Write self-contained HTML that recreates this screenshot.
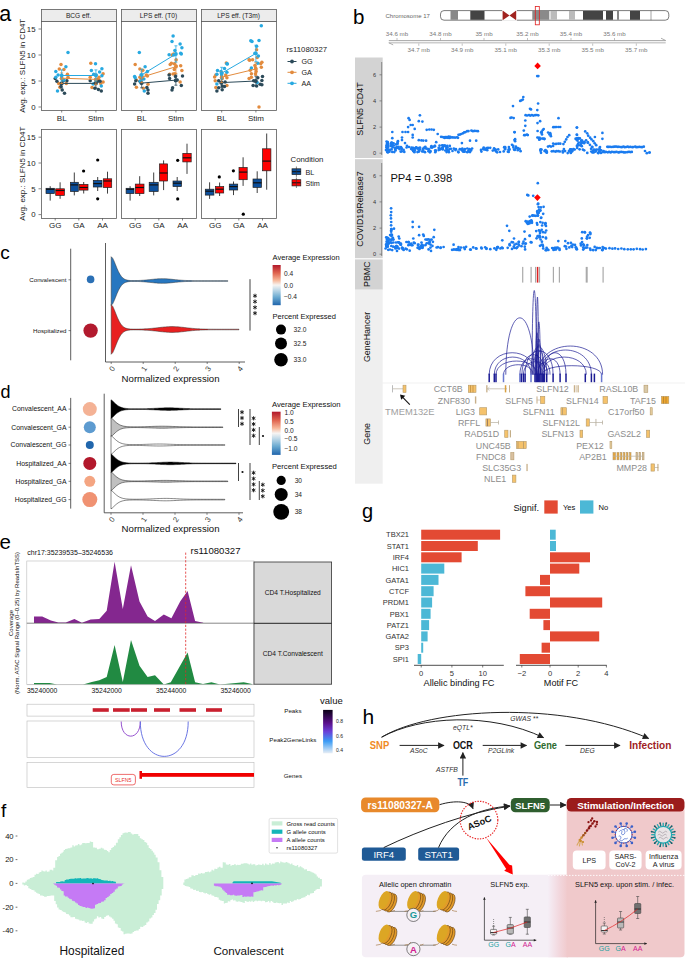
<!DOCTYPE html>
<html><head><meta charset="utf-8"><style>
html,body{margin:0;padding:0;background:#fff;width:685px;height:960px;overflow:hidden}
svg{display:block;font-family:"Liberation Sans",sans-serif}
</style></head><body>
<svg width="685" height="960" viewBox="0 0 685 960">
<text x="-0.8" y="20.8" font-size="21.5" fill="#000">a</text>
<rect x="41.5" y="9.5" width="75" height="12" fill="#ececec" stroke="#5a5a5a" stroke-width="0.8"/>
<text x="78.5" y="18.3" font-size="6.6" text-anchor="middle" fill="#222">BCG eff.</text>
<rect x="41.5" y="21.5" width="75" height="89" fill="#fff" stroke="#5a5a5a" stroke-width="0.8"/>
<rect x="41.5" y="129.5" width="75" height="89" fill="#fff" stroke="#5a5a5a" stroke-width="0.8"/>
<text x="61.7" y="121" font-size="8" text-anchor="middle" fill="#222">BL</text>
<text x="95.9" y="121" font-size="8" text-anchor="middle" fill="#222">Stim</text>
<line x1="61.7" y1="110.5" x2="61.7" y2="112.5" stroke="#333" stroke-width="0.6"/>
<line x1="95.9" y1="110.5" x2="95.9" y2="112.5" stroke="#333" stroke-width="0.6"/>
<text x="55.2" y="227.6" font-size="8" text-anchor="middle" fill="#222">GG</text>
<line x1="55.2" y1="218.5" x2="55.2" y2="220.5" stroke="#333" stroke-width="0.6"/>
<text x="78.8" y="227.6" font-size="8" text-anchor="middle" fill="#222">GA</text>
<line x1="78.8" y1="218.5" x2="78.8" y2="220.5" stroke="#333" stroke-width="0.6"/>
<text x="102.5" y="227.6" font-size="8" text-anchor="middle" fill="#222">AA</text>
<line x1="102.5" y1="218.5" x2="102.5" y2="220.5" stroke="#333" stroke-width="0.6"/>
<rect x="121.5" y="9.5" width="75" height="12" fill="#ececec" stroke="#5a5a5a" stroke-width="0.8"/>
<text x="158.5" y="18.3" font-size="6.6" text-anchor="middle" fill="#222">LPS eff. (T0)</text>
<rect x="121.5" y="21.5" width="75" height="89" fill="#fff" stroke="#5a5a5a" stroke-width="0.8"/>
<rect x="121.5" y="129.5" width="75" height="89" fill="#fff" stroke="#5a5a5a" stroke-width="0.8"/>
<text x="141.7" y="121" font-size="8" text-anchor="middle" fill="#222">BL</text>
<text x="175.9" y="121" font-size="8" text-anchor="middle" fill="#222">Stim</text>
<line x1="141.7" y1="110.5" x2="141.7" y2="112.5" stroke="#333" stroke-width="0.6"/>
<line x1="175.9" y1="110.5" x2="175.9" y2="112.5" stroke="#333" stroke-width="0.6"/>
<text x="135.2" y="227.6" font-size="8" text-anchor="middle" fill="#222">GG</text>
<line x1="135.2" y1="218.5" x2="135.2" y2="220.5" stroke="#333" stroke-width="0.6"/>
<text x="158.8" y="227.6" font-size="8" text-anchor="middle" fill="#222">GA</text>
<line x1="158.8" y1="218.5" x2="158.8" y2="220.5" stroke="#333" stroke-width="0.6"/>
<text x="182.5" y="227.6" font-size="8" text-anchor="middle" fill="#222">AA</text>
<line x1="182.5" y1="218.5" x2="182.5" y2="220.5" stroke="#333" stroke-width="0.6"/>
<rect x="201.5" y="9.5" width="75" height="12" fill="#ececec" stroke="#5a5a5a" stroke-width="0.8"/>
<text x="238.5" y="18.3" font-size="6.6" text-anchor="middle" fill="#222">LPS eff. (T3m)</text>
<rect x="201.5" y="21.5" width="75" height="89" fill="#fff" stroke="#5a5a5a" stroke-width="0.8"/>
<rect x="201.5" y="129.5" width="75" height="89" fill="#fff" stroke="#5a5a5a" stroke-width="0.8"/>
<text x="221.7" y="121" font-size="8" text-anchor="middle" fill="#222">BL</text>
<text x="255.9" y="121" font-size="8" text-anchor="middle" fill="#222">Stim</text>
<line x1="221.7" y1="110.5" x2="221.7" y2="112.5" stroke="#333" stroke-width="0.6"/>
<line x1="255.9" y1="110.5" x2="255.9" y2="112.5" stroke="#333" stroke-width="0.6"/>
<text x="215.2" y="227.6" font-size="8" text-anchor="middle" fill="#222">GG</text>
<line x1="215.2" y1="218.5" x2="215.2" y2="220.5" stroke="#333" stroke-width="0.6"/>
<text x="238.8" y="227.6" font-size="8" text-anchor="middle" fill="#222">GA</text>
<line x1="238.8" y1="218.5" x2="238.8" y2="220.5" stroke="#333" stroke-width="0.6"/>
<text x="262.5" y="227.6" font-size="8" text-anchor="middle" fill="#222">AA</text>
<line x1="262.5" y1="218.5" x2="262.5" y2="220.5" stroke="#333" stroke-width="0.6"/>
<text x="35.5" y="109.8" font-size="7.8" text-anchor="end" fill="#222">0</text>
<line x1="38.5" y1="107.0" x2="41" y2="107.0" stroke="#333" stroke-width="0.6"/>
<text x="35.5" y="217.4" font-size="7.8" text-anchor="end" fill="#222">0</text>
<line x1="38.5" y1="214.6" x2="41" y2="214.6" stroke="#333" stroke-width="0.6"/>
<text x="35.5" y="83.8" font-size="7.8" text-anchor="end" fill="#222">5</text>
<line x1="38.5" y1="81.0" x2="41" y2="81.0" stroke="#333" stroke-width="0.6"/>
<text x="35.5" y="191.6" font-size="7.8" text-anchor="end" fill="#222">5</text>
<line x1="38.5" y1="188.8" x2="41" y2="188.8" stroke="#333" stroke-width="0.6"/>
<text x="35.5" y="57.8" font-size="7.8" text-anchor="end" fill="#222">10</text>
<line x1="38.5" y1="55.0" x2="41" y2="55.0" stroke="#333" stroke-width="0.6"/>
<text x="35.5" y="165.8" font-size="7.8" text-anchor="end" fill="#222">10</text>
<line x1="38.5" y1="163.0" x2="41" y2="163.0" stroke="#333" stroke-width="0.6"/>
<text x="35.5" y="31.8" font-size="7.8" text-anchor="end" fill="#222">15</text>
<line x1="38.5" y1="29.0" x2="41" y2="29.0" stroke="#333" stroke-width="0.6"/>
<text x="35.5" y="140.0" font-size="7.8" text-anchor="end" fill="#222">15</text>
<line x1="38.5" y1="137.2" x2="41" y2="137.2" stroke="#333" stroke-width="0.6"/>
<text transform="translate(25.2,65.8) rotate(-90)" font-size="8" text-anchor="middle" fill="#222">Avg. exp.: SLFN5 in CD4T</text>
<text transform="translate(25.2,173.6) rotate(-90)" font-size="8" text-anchor="middle" fill="#222">Avg. exp.: SLFN5 in CD4T</text>
<circle cx="61.0" cy="64.4" r="1.75" fill="#e28b3e"/>
<circle cx="59.3" cy="69.1" r="1.75" fill="#e28b3e"/>
<circle cx="63.9" cy="69.6" r="1.75" fill="#e28b3e"/>
<circle cx="67.4" cy="74.3" r="1.75" fill="#e28b3e"/>
<circle cx="68.0" cy="77.2" r="1.75" fill="#e28b3e"/>
<circle cx="61.6" cy="78.4" r="1.75" fill="#e28b3e"/>
<circle cx="58.7" cy="83.6" r="1.75" fill="#e28b3e"/>
<circle cx="59.9" cy="87.2" r="1.75" fill="#e28b3e"/>
<circle cx="66.3" cy="83.6" r="1.75" fill="#e28b3e"/>
<circle cx="90.8" cy="63.2" r="1.75" fill="#e28b3e"/>
<circle cx="103.1" cy="73.7" r="1.75" fill="#e28b3e"/>
<circle cx="90.2" cy="77.2" r="1.75" fill="#e28b3e"/>
<circle cx="98.4" cy="79.6" r="1.75" fill="#e28b3e"/>
<circle cx="103.1" cy="81.9" r="1.75" fill="#e28b3e"/>
<circle cx="100.7" cy="83.6" r="1.75" fill="#e28b3e"/>
<circle cx="92.0" cy="87.5" r="1.75" fill="#e28b3e"/>
<circle cx="94.9" cy="83.6" r="1.75" fill="#e28b3e"/>
<circle cx="99.0" cy="77.2" r="1.75" fill="#e28b3e"/>
<circle cx="55.2" cy="78.4" r="1.75" fill="#2c4a59"/>
<circle cx="56.9" cy="81.3" r="1.75" fill="#2c4a59"/>
<circle cx="61.6" cy="83.6" r="1.75" fill="#2c4a59"/>
<circle cx="66.9" cy="80.7" r="1.75" fill="#2c4a59"/>
<circle cx="61.0" cy="86.6" r="1.75" fill="#2c4a59"/>
<circle cx="62.2" cy="90.1" r="1.75" fill="#2c4a59"/>
<circle cx="64.5" cy="93.3" r="1.75" fill="#2c4a59"/>
<circle cx="90.2" cy="80.7" r="1.75" fill="#2c4a59"/>
<circle cx="94.9" cy="88.3" r="1.75" fill="#2c4a59"/>
<circle cx="98.4" cy="89.5" r="1.75" fill="#2c4a59"/>
<circle cx="101.3" cy="91.0" r="1.75" fill="#2c4a59"/>
<circle cx="96.1" cy="80.7" r="1.75" fill="#2c4a59"/>
<circle cx="97.8" cy="81.3" r="1.75" fill="#2c4a59"/>
<circle cx="100.1" cy="81.3" r="1.75" fill="#2c4a59"/>
<circle cx="94.9" cy="83.6" r="1.75" fill="#2c4a59"/>
<circle cx="63.4" cy="80.7" r="1.75" fill="#2c4a59"/>
<circle cx="68.0" cy="52.5" r="1.75" fill="#27a9e1"/>
<circle cx="95.5" cy="63.8" r="1.75" fill="#27a9e1"/>
<circle cx="55.8" cy="71.4" r="1.75" fill="#27a9e1"/>
<circle cx="65.9" cy="66.7" r="1.75" fill="#27a9e1"/>
<circle cx="91.4" cy="70.5" r="1.75" fill="#27a9e1"/>
<circle cx="101.9" cy="68.8" r="1.75" fill="#27a9e1"/>
<circle cx="99.6" cy="72.0" r="1.75" fill="#27a9e1"/>
<circle cx="58.1" cy="74.9" r="1.75" fill="#27a9e1"/>
<circle cx="101.9" cy="75.8" r="1.75" fill="#27a9e1"/>
<circle cx="63.9" cy="80.1" r="1.75" fill="#27a9e1"/>
<circle cx="57.5" cy="91.0" r="1.75" fill="#27a9e1"/>
<circle cx="101.3" cy="86.0" r="1.75" fill="#27a9e1"/>
<circle cx="93.1" cy="84.0" r="1.75" fill="#27a9e1"/>
<circle cx="55.8" cy="77.2" r="1.75" fill="#27a9e1"/>
<circle cx="96.1" cy="74.9" r="1.75" fill="#27a9e1"/>
<circle cx="93.7" cy="74.3" r="1.75" fill="#27a9e1"/>
<line x1="61.7" y1="83.4" x2="95.9" y2="83.4" stroke="#2c4a59" stroke-width="1"/>
<path d="M60.2,88.0H63.2M61.7,88.0V78.7M60.2,78.7H63.2" stroke="#2c4a59" stroke-width="0.8" fill="none"/>
<circle cx="61.7" cy="83.4" r="1.9" fill="#2c4a59"/>
<path d="M94.4,88.0H97.4M95.9,88.0V78.7M94.4,78.7H97.4" stroke="#2c4a59" stroke-width="0.8" fill="none"/>
<circle cx="95.9" cy="83.4" r="1.9" fill="#2c4a59"/>
<line x1="61.7" y1="78.2" x2="95.9" y2="79.4" stroke="#e28b3e" stroke-width="1"/>
<path d="M60.2,83.5H63.2M61.7,83.5V72.9M60.2,72.9H63.2" stroke="#e28b3e" stroke-width="0.8" fill="none"/>
<circle cx="61.7" cy="78.2" r="1.9" fill="#e28b3e"/>
<path d="M94.4,84.6H97.4M95.9,84.6V74.3M94.4,74.3H97.4" stroke="#e28b3e" stroke-width="0.8" fill="none"/>
<circle cx="95.9" cy="79.4" r="1.9" fill="#e28b3e"/>
<line x1="61.7" y1="75.5" x2="95.9" y2="75.5" stroke="#27a9e1" stroke-width="1"/>
<path d="M60.2,81.1H63.2M61.7,81.1V69.9M60.2,69.9H63.2" stroke="#27a9e1" stroke-width="0.8" fill="none"/>
<circle cx="61.7" cy="75.5" r="1.9" fill="#27a9e1"/>
<path d="M94.4,81.1H97.4M95.9,81.1V69.9M94.4,69.9H97.4" stroke="#27a9e1" stroke-width="0.8" fill="none"/>
<circle cx="95.9" cy="75.5" r="1.9" fill="#27a9e1"/>
<circle cx="176.1" cy="59.7" r="1.75" fill="#e28b3e"/>
<circle cx="171.4" cy="63.2" r="1.75" fill="#e28b3e"/>
<circle cx="170.2" cy="64.4" r="1.75" fill="#e28b3e"/>
<circle cx="174.3" cy="63.8" r="1.75" fill="#e28b3e"/>
<circle cx="176.1" cy="66.1" r="1.75" fill="#e28b3e"/>
<circle cx="180.7" cy="65.8" r="1.75" fill="#e28b3e"/>
<circle cx="181.9" cy="70.5" r="1.75" fill="#e28b3e"/>
<circle cx="174.3" cy="69.6" r="1.75" fill="#e28b3e"/>
<circle cx="174.9" cy="73.7" r="1.75" fill="#e28b3e"/>
<circle cx="169.6" cy="74.3" r="1.75" fill="#e28b3e"/>
<circle cx="173.1" cy="74.0" r="1.75" fill="#e28b3e"/>
<circle cx="135.2" cy="64.4" r="1.75" fill="#e28b3e"/>
<circle cx="139.9" cy="69.1" r="1.75" fill="#e28b3e"/>
<circle cx="142.8" cy="70.2" r="1.75" fill="#e28b3e"/>
<circle cx="146.3" cy="74.9" r="1.75" fill="#e28b3e"/>
<circle cx="147.4" cy="76.1" r="1.75" fill="#e28b3e"/>
<circle cx="139.9" cy="77.2" r="1.75" fill="#e28b3e"/>
<circle cx="141.6" cy="78.4" r="1.75" fill="#e28b3e"/>
<circle cx="136.4" cy="80.1" r="1.75" fill="#e28b3e"/>
<circle cx="148.0" cy="84.2" r="1.75" fill="#e28b3e"/>
<circle cx="136.4" cy="87.2" r="1.75" fill="#e28b3e"/>
<circle cx="143.4" cy="88.3" r="1.75" fill="#e28b3e"/>
<circle cx="180.1" cy="81.9" r="1.75" fill="#e28b3e"/>
<circle cx="172.0" cy="55.0" r="1.75" fill="#e28b3e"/>
<circle cx="173.7" cy="53.9" r="1.75" fill="#e28b3e"/>
<circle cx="169.1" cy="74.9" r="1.75" fill="#2c4a59"/>
<circle cx="169.6" cy="78.4" r="1.75" fill="#2c4a59"/>
<circle cx="175.5" cy="76.6" r="1.75" fill="#2c4a59"/>
<circle cx="182.5" cy="76.1" r="1.75" fill="#2c4a59"/>
<circle cx="177.2" cy="80.1" r="1.75" fill="#2c4a59"/>
<circle cx="175.5" cy="80.7" r="1.75" fill="#2c4a59"/>
<circle cx="181.3" cy="85.4" r="1.75" fill="#2c4a59"/>
<circle cx="172.6" cy="87.7" r="1.75" fill="#2c4a59"/>
<circle cx="172.0" cy="90.1" r="1.75" fill="#2c4a59"/>
<circle cx="134.6" cy="84.0" r="1.75" fill="#2c4a59"/>
<circle cx="141.0" cy="83.1" r="1.75" fill="#2c4a59"/>
<circle cx="146.9" cy="87.5" r="1.75" fill="#2c4a59"/>
<circle cx="148.0" cy="90.1" r="1.75" fill="#2c4a59"/>
<circle cx="148.0" cy="93.3" r="1.75" fill="#2c4a59"/>
<circle cx="139.9" cy="81.3" r="1.75" fill="#2c4a59"/>
<circle cx="135.8" cy="80.7" r="1.75" fill="#2c4a59"/>
<circle cx="173.1" cy="36.1" r="1.75" fill="#27a9e1"/>
<circle cx="172.0" cy="41.6" r="1.75" fill="#27a9e1"/>
<circle cx="180.1" cy="43.9" r="1.75" fill="#27a9e1"/>
<circle cx="181.9" cy="47.8" r="1.75" fill="#27a9e1"/>
<circle cx="174.9" cy="50.6" r="1.75" fill="#27a9e1"/>
<circle cx="169.1" cy="54.8" r="1.75" fill="#27a9e1"/>
<circle cx="180.7" cy="53.3" r="1.75" fill="#27a9e1"/>
<circle cx="181.3" cy="54.1" r="1.75" fill="#27a9e1"/>
<circle cx="139.3" cy="52.5" r="1.75" fill="#27a9e1"/>
<circle cx="145.1" cy="66.7" r="1.75" fill="#27a9e1"/>
<circle cx="147.4" cy="71.4" r="1.75" fill="#27a9e1"/>
<circle cx="134.6" cy="76.6" r="1.75" fill="#27a9e1"/>
<circle cx="135.2" cy="77.8" r="1.75" fill="#27a9e1"/>
<circle cx="141.0" cy="74.9" r="1.75" fill="#27a9e1"/>
<circle cx="143.9" cy="79.0" r="1.75" fill="#27a9e1"/>
<circle cx="140.4" cy="81.3" r="1.75" fill="#27a9e1"/>
<circle cx="144.3" cy="91.0" r="1.75" fill="#27a9e1"/>
<circle cx="173.7" cy="55.0" r="1.75" fill="#27a9e1"/>
<line x1="141.7" y1="83.1" x2="175.9" y2="80.1" stroke="#2c4a59" stroke-width="1"/>
<path d="M140.2,87.8H143.2M141.7,87.8V78.4M140.2,78.4H143.2" stroke="#2c4a59" stroke-width="0.8" fill="none"/>
<circle cx="141.7" cy="83.1" r="1.9" fill="#2c4a59"/>
<path d="M174.4,85.2H177.4M175.9,85.2V75.1M174.4,75.1H177.4" stroke="#2c4a59" stroke-width="0.8" fill="none"/>
<circle cx="175.9" cy="80.1" r="1.9" fill="#2c4a59"/>
<line x1="141.7" y1="77.2" x2="175.9" y2="66.7" stroke="#e28b3e" stroke-width="1"/>
<path d="M140.2,82.6H143.2M141.7,82.6V71.8M140.2,71.8H143.2" stroke="#e28b3e" stroke-width="0.8" fill="none"/>
<circle cx="141.7" cy="77.2" r="1.9" fill="#e28b3e"/>
<path d="M174.4,73.4H177.4M175.9,73.4V60.0M174.4,60.0H177.4" stroke="#e28b3e" stroke-width="0.8" fill="none"/>
<circle cx="175.9" cy="66.7" r="1.9" fill="#e28b3e"/>
<line x1="141.7" y1="74.9" x2="175.9" y2="54.0" stroke="#27a9e1" stroke-width="1"/>
<path d="M140.2,80.6H143.2M141.7,80.6V69.2M140.2,69.2H143.2" stroke="#27a9e1" stroke-width="0.8" fill="none"/>
<circle cx="141.7" cy="74.9" r="1.9" fill="#27a9e1"/>
<path d="M174.4,62.1H177.4M175.9,62.1V45.8M174.4,45.8H177.4" stroke="#27a9e1" stroke-width="0.8" fill="none"/>
<circle cx="175.9" cy="54.0" r="1.9" fill="#27a9e1"/>
<circle cx="226.3" cy="63.0" r="1.75" fill="#e28b3e"/>
<circle cx="256.6" cy="49.8" r="1.75" fill="#e28b3e"/>
<circle cx="257.2" cy="57.6" r="1.75" fill="#e28b3e"/>
<circle cx="249.1" cy="59.7" r="1.75" fill="#e28b3e"/>
<circle cx="252.6" cy="59.7" r="1.75" fill="#e28b3e"/>
<circle cx="249.6" cy="60.3" r="1.75" fill="#e28b3e"/>
<circle cx="261.9" cy="62.3" r="1.75" fill="#e28b3e"/>
<circle cx="260.7" cy="63.8" r="1.75" fill="#e28b3e"/>
<circle cx="261.3" cy="67.3" r="1.75" fill="#e28b3e"/>
<circle cx="254.9" cy="65.5" r="1.75" fill="#e28b3e"/>
<circle cx="255.5" cy="67.9" r="1.75" fill="#e28b3e"/>
<circle cx="250.2" cy="70.2" r="1.75" fill="#e28b3e"/>
<circle cx="256.1" cy="71.4" r="1.75" fill="#e28b3e"/>
<circle cx="251.4" cy="73.7" r="1.75" fill="#e28b3e"/>
<circle cx="255.5" cy="73.7" r="1.75" fill="#e28b3e"/>
<circle cx="249.1" cy="78.4" r="1.75" fill="#e28b3e"/>
<circle cx="251.4" cy="77.2" r="1.75" fill="#e28b3e"/>
<circle cx="214.6" cy="77.0" r="1.75" fill="#e28b3e"/>
<circle cx="215.8" cy="74.9" r="1.75" fill="#e28b3e"/>
<circle cx="215.2" cy="80.7" r="1.75" fill="#e28b3e"/>
<circle cx="222.2" cy="78.4" r="1.75" fill="#e28b3e"/>
<circle cx="225.7" cy="74.9" r="1.75" fill="#e28b3e"/>
<circle cx="226.9" cy="77.8" r="1.75" fill="#e28b3e"/>
<circle cx="215.8" cy="87.5" r="1.75" fill="#e28b3e"/>
<circle cx="226.9" cy="85.4" r="1.75" fill="#e28b3e"/>
<circle cx="259.0" cy="107.0" r="1.75" fill="#e28b3e"/>
<circle cx="218.7" cy="80.7" r="1.75" fill="#2c4a59"/>
<circle cx="221.0" cy="83.1" r="1.75" fill="#2c4a59"/>
<circle cx="225.1" cy="81.9" r="1.75" fill="#2c4a59"/>
<circle cx="222.2" cy="86.0" r="1.75" fill="#2c4a59"/>
<circle cx="218.7" cy="87.7" r="1.75" fill="#2c4a59"/>
<circle cx="216.9" cy="91.0" r="1.75" fill="#2c4a59"/>
<circle cx="222.2" cy="89.8" r="1.75" fill="#2c4a59"/>
<circle cx="224.5" cy="86.6" r="1.75" fill="#2c4a59"/>
<circle cx="253.7" cy="80.7" r="1.75" fill="#2c4a59"/>
<circle cx="257.8" cy="77.8" r="1.75" fill="#2c4a59"/>
<circle cx="262.5" cy="76.4" r="1.75" fill="#2c4a59"/>
<circle cx="261.9" cy="80.5" r="1.75" fill="#2c4a59"/>
<circle cx="253.1" cy="85.4" r="1.75" fill="#2c4a59"/>
<circle cx="256.6" cy="86.0" r="1.75" fill="#2c4a59"/>
<circle cx="261.9" cy="84.8" r="1.75" fill="#2c4a59"/>
<circle cx="260.1" cy="84.2" r="1.75" fill="#2c4a59"/>
<circle cx="255.5" cy="81.3" r="1.75" fill="#2c4a59"/>
<circle cx="261.3" cy="25.8" r="1.75" fill="#27a9e1"/>
<circle cx="250.8" cy="40.8" r="1.75" fill="#27a9e1"/>
<circle cx="252.0" cy="41.6" r="1.75" fill="#27a9e1"/>
<circle cx="259.0" cy="40.4" r="1.75" fill="#27a9e1"/>
<circle cx="256.6" cy="46.3" r="1.75" fill="#27a9e1"/>
<circle cx="254.9" cy="53.3" r="1.75" fill="#27a9e1"/>
<circle cx="258.4" cy="56.0" r="1.75" fill="#27a9e1"/>
<circle cx="257.8" cy="63.2" r="1.75" fill="#27a9e1"/>
<circle cx="251.4" cy="68.1" r="1.75" fill="#27a9e1"/>
<circle cx="257.2" cy="82.5" r="1.75" fill="#27a9e1"/>
<circle cx="217.5" cy="70.5" r="1.75" fill="#27a9e1"/>
<circle cx="221.0" cy="71.4" r="1.75" fill="#27a9e1"/>
<circle cx="224.5" cy="68.5" r="1.75" fill="#27a9e1"/>
<circle cx="226.9" cy="72.3" r="1.75" fill="#27a9e1"/>
<circle cx="216.9" cy="74.3" r="1.75" fill="#27a9e1"/>
<circle cx="221.6" cy="74.9" r="1.75" fill="#27a9e1"/>
<circle cx="226.9" cy="63.8" r="1.75" fill="#27a9e1"/>
<circle cx="227.4" cy="64.1" r="1.75" fill="#27a9e1"/>
<circle cx="216.9" cy="84.0" r="1.75" fill="#27a9e1"/>
<line x1="221.7" y1="82.6" x2="255.9" y2="81.0" stroke="#2c4a59" stroke-width="1"/>
<path d="M220.2,87.3H223.2M221.7,87.3V77.8M220.2,77.8H223.2" stroke="#2c4a59" stroke-width="0.8" fill="none"/>
<circle cx="221.7" cy="82.6" r="1.9" fill="#2c4a59"/>
<path d="M254.4,85.9H257.4M255.9,85.9V76.1M254.4,76.1H257.4" stroke="#2c4a59" stroke-width="0.8" fill="none"/>
<circle cx="255.9" cy="81.0" r="1.9" fill="#2c4a59"/>
<line x1="221.7" y1="77.2" x2="255.9" y2="69.0" stroke="#e28b3e" stroke-width="1"/>
<path d="M220.2,82.6H223.2M221.7,82.6V71.8M220.2,71.8H223.2" stroke="#e28b3e" stroke-width="0.8" fill="none"/>
<circle cx="221.7" cy="77.2" r="1.9" fill="#e28b3e"/>
<path d="M254.4,75.4H257.4M255.9,75.4V62.7M254.4,62.7H257.4" stroke="#e28b3e" stroke-width="0.8" fill="none"/>
<circle cx="255.9" cy="69.0" r="1.9" fill="#e28b3e"/>
<line x1="221.7" y1="73.2" x2="255.9" y2="53.4" stroke="#27a9e1" stroke-width="1"/>
<path d="M220.2,79.1H223.2M221.7,79.1V67.3M220.2,67.3H223.2" stroke="#27a9e1" stroke-width="0.8" fill="none"/>
<circle cx="221.7" cy="73.2" r="1.9" fill="#27a9e1"/>
<path d="M254.4,61.7H257.4M255.9,61.7V45.2M254.4,45.2H257.4" stroke="#27a9e1" stroke-width="0.8" fill="none"/>
<circle cx="255.9" cy="53.4" r="1.9" fill="#27a9e1"/>
<text x="286.5" y="51.5" font-size="7.8" fill="#222">rs11080327</text>
<line x1="287.5" y1="61.5" x2="296.5" y2="61.5" stroke="#2c4a59" stroke-width="1"/><circle cx="292" cy="61.5" r="1.9" fill="#2c4a59"/>
<text x="301.5" y="64.2" font-size="7.2" fill="#222">GG</text>
<line x1="287.5" y1="72.3" x2="296.5" y2="72.3" stroke="#e28b3e" stroke-width="1"/><circle cx="292" cy="72.3" r="1.9" fill="#e28b3e"/>
<text x="301.5" y="75.0" font-size="7.2" fill="#222">GA</text>
<line x1="287.5" y1="83.3" x2="296.5" y2="83.3" stroke="#27a9e1" stroke-width="1"/><circle cx="292" cy="83.3" r="1.9" fill="#27a9e1"/>
<text x="301.5" y="86.0" font-size="7.2" fill="#222">AA</text>
<line x1="50.2" y1="186.2" x2="50.2" y2="200.6" stroke="#2a2a2a" stroke-width="0.9"/>
<rect x="46" y="188.3" width="8.4" height="5.3" fill="#0c4f9c" stroke="#222" stroke-width="0.7"/>
<line x1="46" y1="189.3" x2="54.4" y2="189.3" stroke="#111" stroke-width="1.2"/>
<line x1="60.1" y1="182.3" x2="60.1" y2="198.8" stroke="#2a2a2a" stroke-width="0.9"/>
<rect x="55.7" y="188.8" width="8.7" height="6.6" fill="#ff0000" stroke="#222" stroke-width="0.7"/>
<line x1="55.7" y1="190.5" x2="64.4" y2="190.5" stroke="#111" stroke-width="1.2"/>
<line x1="74.3" y1="172.5" x2="74.3" y2="195.4" stroke="#2a2a2a" stroke-width="0.9"/>
<rect x="70.4" y="182.3" width="7.9" height="9.2" fill="#0c4f9c" stroke="#222" stroke-width="0.7"/>
<line x1="70.4" y1="184.9" x2="78.3" y2="184.9" stroke="#111" stroke-width="1.2"/>
<line x1="83.7" y1="182" x2="83.7" y2="193.5" stroke="#2a2a2a" stroke-width="0.9"/>
<rect x="79.3" y="184.4" width="8.7" height="5.7" fill="#ff0000" stroke="#222" stroke-width="0.7"/>
<line x1="79.3" y1="187.5" x2="88" y2="187.5" stroke="#111" stroke-width="1.2"/>
<circle cx="83.6" cy="171" r="1.6" fill="#000"/>
<line x1="97.7" y1="177" x2="97.7" y2="191" stroke="#2a2a2a" stroke-width="0.9"/>
<rect x="93.3" y="180.4" width="8.7" height="6.6" fill="#0c4f9c" stroke="#222" stroke-width="0.7"/>
<line x1="93.3" y1="183.6" x2="102" y2="183.6" stroke="#111" stroke-width="1.2"/>
<circle cx="97.7" cy="160" r="1.6" fill="#000"/>
<circle cx="97.7" cy="198.8" r="1.6" fill="#000"/>
<line x1="107.5" y1="171.7" x2="107.5" y2="193.6" stroke="#2a2a2a" stroke-width="0.9"/>
<rect x="103.3" y="178.8" width="8.4" height="8.7" fill="#ff0000" stroke="#222" stroke-width="0.7"/>
<line x1="103.3" y1="181" x2="111.7" y2="181" stroke="#111" stroke-width="1.2"/>
<line x1="130.1" y1="186.2" x2="130.1" y2="200.6" stroke="#2a2a2a" stroke-width="0.9"/>
<rect x="126.1" y="188.3" width="7.9" height="5.3" fill="#0c4f9c" stroke="#222" stroke-width="0.7"/>
<line x1="126.1" y1="189.3" x2="134" y2="189.3" stroke="#111" stroke-width="1.2"/>
<line x1="139.7" y1="176.2" x2="139.7" y2="196" stroke="#2a2a2a" stroke-width="0.9"/>
<rect x="135.3" y="184.1" width="8.7" height="9.5" fill="#ff0000" stroke="#222" stroke-width="0.7"/>
<line x1="135.3" y1="187.5" x2="144" y2="187.5" stroke="#111" stroke-width="1.2"/>
<line x1="153.7" y1="172.5" x2="153.7" y2="195.4" stroke="#2a2a2a" stroke-width="0.9"/>
<rect x="149.2" y="182.3" width="9.0" height="9.2" fill="#0c4f9c" stroke="#222" stroke-width="0.7"/>
<line x1="149.2" y1="184.9" x2="158.2" y2="184.9" stroke="#111" stroke-width="1.2"/>
<line x1="163.6" y1="160.4" x2="163.6" y2="190.1" stroke="#2a2a2a" stroke-width="0.9"/>
<rect x="159.5" y="163.9" width="8.1" height="17.1" fill="#ff0000" stroke="#222" stroke-width="0.7"/>
<line x1="159.5" y1="173" x2="167.6" y2="173" stroke="#111" stroke-width="1.2"/>
<line x1="177.2" y1="177" x2="177.2" y2="191" stroke="#2a2a2a" stroke-width="0.9"/>
<rect x="173" y="181" width="8.5" height="5.6" fill="#0c4f9c" stroke="#222" stroke-width="0.7"/>
<line x1="173" y1="183.2" x2="181.5" y2="183.2" stroke="#111" stroke-width="1.2"/>
<circle cx="177.7" cy="160.3" r="1.6" fill="#000"/>
<circle cx="177.7" cy="198.9" r="1.6" fill="#000"/>
<line x1="187.0" y1="143.7" x2="187.0" y2="173.9" stroke="#2a2a2a" stroke-width="0.9"/>
<rect x="182.8" y="153.4" width="8.4" height="8.5" fill="#ff0000" stroke="#222" stroke-width="0.7"/>
<line x1="182.8" y1="157.8" x2="191.2" y2="157.8" stroke="#111" stroke-width="1.2"/>
<line x1="209.6" y1="182.3" x2="209.6" y2="198.9" stroke="#2a2a2a" stroke-width="0.9"/>
<rect x="205.3" y="189.2" width="8.6" height="5.9" fill="#0c4f9c" stroke="#222" stroke-width="0.7"/>
<line x1="205.3" y1="191.2" x2="213.9" y2="191.2" stroke="#111" stroke-width="1.2"/>
<line x1="219.6" y1="182.5" x2="219.6" y2="196" stroke="#2a2a2a" stroke-width="0.9"/>
<rect x="215.5" y="186.6" width="8.2" height="6.4" fill="#ff0000" stroke="#222" stroke-width="0.7"/>
<line x1="215.5" y1="189.2" x2="223.7" y2="189.2" stroke="#111" stroke-width="1.2"/>
<circle cx="219.3" cy="176.9" r="1.6" fill="#000"/>
<line x1="233.5" y1="181.5" x2="233.5" y2="195.1" stroke="#2a2a2a" stroke-width="0.9"/>
<rect x="229.3" y="184.1" width="8.4" height="5.9" fill="#0c4f9c" stroke="#222" stroke-width="0.7"/>
<line x1="229.3" y1="186.6" x2="237.7" y2="186.6" stroke="#111" stroke-width="1.2"/>
<circle cx="233.4" cy="170.8" r="1.6" fill="#000"/>
<line x1="243.1" y1="157.3" x2="243.1" y2="185.9" stroke="#2a2a2a" stroke-width="0.9"/>
<rect x="239" y="167.5" width="8.2" height="12.2" fill="#ff0000" stroke="#222" stroke-width="0.7"/>
<line x1="239" y1="172.1" x2="247.2" y2="172.1" stroke="#111" stroke-width="1.2"/>
<circle cx="243.3" cy="214.2" r="1.6" fill="#000"/>
<line x1="257.2" y1="171.3" x2="257.2" y2="193" stroke="#2a2a2a" stroke-width="0.9"/>
<rect x="253" y="179" width="8.5" height="8.4" fill="#0c4f9c" stroke="#222" stroke-width="0.7"/>
<line x1="253" y1="182.8" x2="261.5" y2="182.8" stroke="#111" stroke-width="1.2"/>
<line x1="266.7" y1="133.5" x2="266.7" y2="189.7" stroke="#2a2a2a" stroke-width="0.9"/>
<rect x="262.5" y="148.8" width="8.4" height="22.0" fill="#ff0000" stroke="#222" stroke-width="0.7"/>
<line x1="262.5" y1="161.1" x2="270.9" y2="161.1" stroke="#111" stroke-width="1.2"/>
<text x="290.5" y="162" font-size="7.8" fill="#222">Condition</text>
<rect x="292" y="168.8" width="8.8" height="5.8" fill="#0c4f9c" stroke="#222" stroke-width="0.7"/><line x1="292" y1="171.7" x2="300.8" y2="171.7" stroke="#111" stroke-width="1"/>
<line x1="296.4" y1="166.5" x2="296.4" y2="176.8" stroke="#333" stroke-width="0.6"/>
<rect x="292" y="179.7" width="8.8" height="6.2" fill="#ff0000" stroke="#222" stroke-width="0.7"/><line x1="292" y1="182.8" x2="300.8" y2="182.8" stroke="#111" stroke-width="1"/>
<line x1="296.4" y1="177.5" x2="296.4" y2="188" stroke="#333" stroke-width="0.6"/>
<text x="305.4" y="174.5" font-size="7.2" fill="#222">BL</text>
<text x="305.4" y="185.5" font-size="7.2" fill="#222">Stim</text>
<text x="353" y="24.3" font-size="20.5" fill="#000">b</text>
<text x="385.5" y="17.6" font-size="6" fill="#666">Chromosome 17</text>
<rect x="440.5" y="10.6" width="228.29999999999995" height="9.6" rx="3.5" fill="#fff" stroke="#444" stroke-width="0.7"/>
<rect x="450.5" y="11.0" width="7.5" height="8.799999999999999" fill="#888"/>
<rect x="470.3" y="11.0" width="14.199999999999989" height="8.799999999999999" fill="#444"/>
<rect x="532.3" y="11.0" width="17.0" height="8.799999999999999" fill="#8a8a8a"/>
<rect x="550.5" y="11.0" width="6.5" height="8.799999999999999" fill="#bbb"/>
<rect x="569" y="11.0" width="6" height="8.799999999999999" fill="#bbb"/>
<rect x="583" y="11.0" width="20" height="8.799999999999999" fill="#444"/>
<rect x="606" y="11.0" width="7" height="8.799999999999999" fill="#444"/>
<rect x="617" y="11.0" width="2" height="8.799999999999999" fill="#888"/>
<rect x="630" y="11.0" width="10" height="8.799999999999999" fill="#444"/>
<rect x="502" y="10.0" width="15" height="10.799999999999999" fill="#fff"/>
<path d="M502.6,10.6L509.5,15.4L502.6,20.2ZM516.2,10.6L509.5,15.4L516.2,20.2Z" fill="#a0231f"/>
<line x1="651" y1="10.6" x2="651" y2="20.2" stroke="#444" stroke-width="0.5"/>
<rect x="535.3" y="6.4" width="4" height="18.4" fill="none" stroke="#e02020" stroke-width="0.8"/>
<line x1="388.8" y1="42.7" x2="665.7" y2="42.7" stroke="#cdcdcd" stroke-width="1.8"/>
<line x1="388.8" y1="40.5" x2="665.7" y2="40.5" stroke="#9a9a9a" stroke-width="0.8"/>
<path d="M388.8,42.8 L393.2,44.9 M665.7,40.5 L661,38.2" stroke="#9a9a9a" stroke-width="0.8" fill="none"/>
<line x1="397.0" y1="38" x2="397.0" y2="40.5" stroke="#999" stroke-width="0.6"/>
<text x="397.0" y="36" font-size="6.2" text-anchor="middle" fill="#777">34.6 mb</text>
<line x1="440.5" y1="38" x2="440.5" y2="40.5" stroke="#999" stroke-width="0.6"/>
<text x="440.5" y="36" font-size="6.2" text-anchor="middle" fill="#777">34.8 mb</text>
<line x1="484.0" y1="38" x2="484.0" y2="40.5" stroke="#999" stroke-width="0.6"/>
<text x="484.0" y="36" font-size="6.2" text-anchor="middle" fill="#777">35 mb</text>
<line x1="527.5" y1="38" x2="527.5" y2="40.5" stroke="#999" stroke-width="0.6"/>
<text x="527.5" y="36" font-size="6.2" text-anchor="middle" fill="#777">35.2 mb</text>
<line x1="571.0" y1="38" x2="571.0" y2="40.5" stroke="#999" stroke-width="0.6"/>
<text x="571.0" y="36" font-size="6.2" text-anchor="middle" fill="#777">35.4 mb</text>
<line x1="614.5" y1="38" x2="614.5" y2="40.5" stroke="#999" stroke-width="0.6"/>
<text x="614.5" y="36" font-size="6.2" text-anchor="middle" fill="#777">35.6 mb</text>
<line x1="418.8" y1="43.5" x2="418.8" y2="45.8" stroke="#999" stroke-width="0.6"/>
<text x="418.8" y="52.2" font-size="6.2" text-anchor="middle" fill="#777">34.7 mb</text>
<line x1="462.2" y1="43.5" x2="462.2" y2="45.8" stroke="#999" stroke-width="0.6"/>
<text x="462.2" y="52.2" font-size="6.2" text-anchor="middle" fill="#777">34.9 mb</text>
<line x1="505.8" y1="43.5" x2="505.8" y2="45.8" stroke="#999" stroke-width="0.6"/>
<text x="505.8" y="52.2" font-size="6.2" text-anchor="middle" fill="#777">35.1 mb</text>
<line x1="549.2" y1="43.5" x2="549.2" y2="45.8" stroke="#999" stroke-width="0.6"/>
<text x="549.2" y="52.2" font-size="6.2" text-anchor="middle" fill="#777">35.3 mb</text>
<line x1="592.7" y1="43.5" x2="592.7" y2="45.8" stroke="#999" stroke-width="0.6"/>
<text x="592.7" y="52.2" font-size="6.2" text-anchor="middle" fill="#777">35.5 mb</text>
<line x1="636.3" y1="43.5" x2="636.3" y2="45.8" stroke="#999" stroke-width="0.6"/>
<text x="636.3" y="52.2" font-size="6.2" text-anchor="middle" fill="#777">35.7 mb</text>
<rect x="355" y="57.5" width="27.7" height="100.5" fill="#d3d3d3"/>
<rect x="355" y="159.2" width="27.7" height="99" fill="#d3d3d3"/>
<rect x="355" y="259.4" width="27.7" height="30.3" fill="#d3d3d3"/>
<rect x="355" y="289.7" width="27.7" height="93" fill="#efefef"/>
<rect x="355" y="383.3" width="27.7" height="100.4" fill="#efefef"/>
<line x1="355" y1="383" x2="685" y2="383" stroke="#e0e0e0" stroke-width="0.5"/>
<text transform="translate(363.4,109) rotate(-90)" font-size="8.9" text-anchor="middle" fill="#111">SLFN5 CD4T</text>
<text transform="translate(363.4,209) rotate(-90)" font-size="8.9" text-anchor="middle" fill="#111">COVID19Release7</text>
<text transform="translate(369.6,274.2) rotate(-90)" font-size="8.9" text-anchor="middle" fill="#111">PBMC</text>
<text transform="translate(369.6,336.9) rotate(-90)" font-size="8.9" text-anchor="middle" fill="#111">GeneHancer</text>
<text transform="translate(369.6,433.8) rotate(-90)" font-size="8.9" text-anchor="middle" fill="#111">Gene</text>
<line x1="381.7" y1="62" x2="381.7" y2="155" stroke="#555" stroke-width="0.6"/>
<line x1="379.5" y1="153.2" x2="381.7" y2="153.2" stroke="#555" stroke-width="0.6"/>
<text x="376.2" y="155.2" font-size="5.6" text-anchor="end" fill="#333">0</text>
<line x1="379.5" y1="127.1" x2="381.7" y2="127.1" stroke="#555" stroke-width="0.6"/>
<text x="376.2" y="129.1" font-size="5.6" text-anchor="end" fill="#333">2</text>
<line x1="379.5" y1="100.9" x2="381.7" y2="100.9" stroke="#555" stroke-width="0.6"/>
<text x="376.2" y="102.9" font-size="5.6" text-anchor="end" fill="#333">4</text>
<line x1="379.5" y1="74.8" x2="381.7" y2="74.8" stroke="#555" stroke-width="0.6"/>
<text x="376.2" y="76.8" font-size="5.6" text-anchor="end" fill="#333">6</text>
<line x1="381.7" y1="163" x2="381.7" y2="256" stroke="#555" stroke-width="0.6"/>
<line x1="379.5" y1="254.2" x2="381.7" y2="254.2" stroke="#555" stroke-width="0.6"/>
<text x="376.2" y="256.2" font-size="5.6" text-anchor="end" fill="#333">0</text>
<line x1="379.5" y1="228.1" x2="381.7" y2="228.1" stroke="#555" stroke-width="0.6"/>
<text x="376.2" y="230.1" font-size="5.6" text-anchor="end" fill="#333">2</text>
<line x1="379.5" y1="201.9" x2="381.7" y2="201.9" stroke="#555" stroke-width="0.6"/>
<text x="376.2" y="203.9" font-size="5.6" text-anchor="end" fill="#333">4</text>
<line x1="379.5" y1="175.8" x2="381.7" y2="175.8" stroke="#555" stroke-width="0.6"/>
<text x="376.2" y="177.8" font-size="5.6" text-anchor="end" fill="#333">6</text>
<circle cx="391.4" cy="146.1" r="1.35" fill="#1a7bef"/>
<circle cx="397.1" cy="147.2" r="1.35" fill="#1a7bef"/>
<circle cx="392.1" cy="145.8" r="1.35" fill="#1a7bef"/>
<circle cx="388.2" cy="146.7" r="1.35" fill="#1a7bef"/>
<circle cx="393.6" cy="143.4" r="1.35" fill="#1a7bef"/>
<circle cx="387.1" cy="149.1" r="1.35" fill="#1a7bef"/>
<circle cx="387.1" cy="143.2" r="1.35" fill="#1a7bef"/>
<circle cx="394.3" cy="152.1" r="1.35" fill="#1a7bef"/>
<circle cx="397.8" cy="141.5" r="1.35" fill="#1a7bef"/>
<circle cx="393.8" cy="145.5" r="1.35" fill="#1a7bef"/>
<circle cx="387.9" cy="152.4" r="1.35" fill="#1a7bef"/>
<circle cx="392.3" cy="151.9" r="1.35" fill="#1a7bef"/>
<circle cx="388.3" cy="149.8" r="1.35" fill="#1a7bef"/>
<circle cx="386.4" cy="147.2" r="1.35" fill="#1a7bef"/>
<circle cx="391.3" cy="142.9" r="1.35" fill="#1a7bef"/>
<circle cx="392.2" cy="145.2" r="1.35" fill="#1a7bef"/>
<circle cx="392.0" cy="144.9" r="1.35" fill="#1a7bef"/>
<circle cx="391.5" cy="149.3" r="1.35" fill="#1a7bef"/>
<circle cx="398.0" cy="141.1" r="1.35" fill="#1a7bef"/>
<circle cx="396.1" cy="144.4" r="1.35" fill="#1a7bef"/>
<circle cx="389.8" cy="149.9" r="1.35" fill="#1a7bef"/>
<circle cx="389.5" cy="151.7" r="1.35" fill="#1a7bef"/>
<circle cx="395.2" cy="147.9" r="1.35" fill="#1a7bef"/>
<circle cx="396.2" cy="148.1" r="1.35" fill="#1a7bef"/>
<circle cx="397.5" cy="142.8" r="1.35" fill="#1a7bef"/>
<circle cx="386.0" cy="150.1" r="1.35" fill="#1a7bef"/>
<circle cx="396.9" cy="147.1" r="1.35" fill="#1a7bef"/>
<circle cx="397.8" cy="148.0" r="1.35" fill="#1a7bef"/>
<circle cx="386.9" cy="145.3" r="1.35" fill="#1a7bef"/>
<circle cx="395.3" cy="149.4" r="1.35" fill="#1a7bef"/>
<circle cx="387.0" cy="148.7" r="1.35" fill="#1a7bef"/>
<circle cx="397.6" cy="143.8" r="1.35" fill="#1a7bef"/>
<circle cx="387.4" cy="149.7" r="1.35" fill="#1a7bef"/>
<circle cx="387.2" cy="151.9" r="1.35" fill="#1a7bef"/>
<circle cx="395.6" cy="150.5" r="1.35" fill="#1a7bef"/>
<circle cx="392.7" cy="147.4" r="1.35" fill="#1a7bef"/>
<circle cx="388.3" cy="144.1" r="1.35" fill="#1a7bef"/>
<circle cx="387.6" cy="145.1" r="1.35" fill="#1a7bef"/>
<circle cx="386.7" cy="145.2" r="1.35" fill="#1a7bef"/>
<circle cx="387.3" cy="146.2" r="1.35" fill="#1a7bef"/>
<circle cx="391.8" cy="142.7" r="1.35" fill="#1a7bef"/>
<circle cx="387.8" cy="142.2" r="1.35" fill="#1a7bef"/>
<circle cx="387.3" cy="145.4" r="1.35" fill="#1a7bef"/>
<circle cx="391.1" cy="143.8" r="1.35" fill="#1a7bef"/>
<circle cx="386.6" cy="141.5" r="1.35" fill="#1a7bef"/>
<circle cx="387.3" cy="146.3" r="1.35" fill="#1a7bef"/>
<circle cx="390.6" cy="145.8" r="1.35" fill="#1a7bef"/>
<circle cx="387.8" cy="147.5" r="1.35" fill="#1a7bef"/>
<circle cx="399.4" cy="149.1" r="1.35" fill="#1a7bef"/>
<circle cx="401.6" cy="149.0" r="1.35" fill="#1a7bef"/>
<circle cx="403.6" cy="149.9" r="1.35" fill="#1a7bef"/>
<circle cx="412.4" cy="149.7" r="1.35" fill="#1a7bef"/>
<circle cx="406.6" cy="147.5" r="1.35" fill="#1a7bef"/>
<circle cx="400.7" cy="151.6" r="1.35" fill="#1a7bef"/>
<circle cx="411.6" cy="147.7" r="1.35" fill="#1a7bef"/>
<circle cx="401.7" cy="151.4" r="1.35" fill="#1a7bef"/>
<circle cx="409.1" cy="147.0" r="1.35" fill="#1a7bef"/>
<circle cx="400.9" cy="147.0" r="1.35" fill="#1a7bef"/>
<circle cx="411.2" cy="149.0" r="1.35" fill="#1a7bef"/>
<circle cx="404.3" cy="151.9" r="1.35" fill="#1a7bef"/>
<circle cx="398.6" cy="146.9" r="1.35" fill="#1a7bef"/>
<circle cx="401.6" cy="148.4" r="1.35" fill="#1a7bef"/>
<circle cx="415.6" cy="148.2" r="1.35" fill="#1a7bef"/>
<circle cx="419.0" cy="150.9" r="1.35" fill="#1a7bef"/>
<circle cx="414.8" cy="148.7" r="1.35" fill="#1a7bef"/>
<circle cx="413.7" cy="151.3" r="1.35" fill="#1a7bef"/>
<circle cx="418.6" cy="148.1" r="1.35" fill="#1a7bef"/>
<circle cx="419.1" cy="151.0" r="1.35" fill="#1a7bef"/>
<circle cx="422.2" cy="151.4" r="1.35" fill="#1a7bef"/>
<circle cx="413.2" cy="151.0" r="1.35" fill="#1a7bef"/>
<circle cx="417.5" cy="152.1" r="1.35" fill="#1a7bef"/>
<circle cx="414.8" cy="150.5" r="1.35" fill="#1a7bef"/>
<circle cx="418.7" cy="151.7" r="1.35" fill="#1a7bef"/>
<circle cx="416.6" cy="147.9" r="1.35" fill="#1a7bef"/>
<circle cx="422.8" cy="149.1" r="1.35" fill="#1a7bef"/>
<circle cx="419.9" cy="149.4" r="1.35" fill="#1a7bef"/>
<circle cx="414.4" cy="152.2" r="1.35" fill="#1a7bef"/>
<circle cx="413.2" cy="147.8" r="1.35" fill="#1a7bef"/>
<circle cx="420.0" cy="147.5" r="1.35" fill="#1a7bef"/>
<circle cx="413.2" cy="149.2" r="1.35" fill="#1a7bef"/>
<circle cx="417.8" cy="148.7" r="1.35" fill="#1a7bef"/>
<circle cx="416.2" cy="147.3" r="1.35" fill="#1a7bef"/>
<circle cx="425.0" cy="148.3" r="1.35" fill="#1a7bef"/>
<circle cx="442.9" cy="145.7" r="1.35" fill="#1a7bef"/>
<circle cx="442.9" cy="147.2" r="1.35" fill="#1a7bef"/>
<circle cx="444.4" cy="145.6" r="1.35" fill="#1a7bef"/>
<circle cx="432.5" cy="147.3" r="1.35" fill="#1a7bef"/>
<circle cx="447.3" cy="145.9" r="1.35" fill="#1a7bef"/>
<circle cx="434.3" cy="146.5" r="1.35" fill="#1a7bef"/>
<circle cx="446.3" cy="148.1" r="1.35" fill="#1a7bef"/>
<circle cx="439.9" cy="149.6" r="1.35" fill="#1a7bef"/>
<circle cx="438.7" cy="147.9" r="1.35" fill="#1a7bef"/>
<circle cx="425.2" cy="147.7" r="1.35" fill="#1a7bef"/>
<circle cx="449.8" cy="145.9" r="1.35" fill="#1a7bef"/>
<circle cx="442.7" cy="149.5" r="1.35" fill="#1a7bef"/>
<circle cx="442.8" cy="148.1" r="1.35" fill="#1a7bef"/>
<circle cx="434.9" cy="146.2" r="1.35" fill="#1a7bef"/>
<circle cx="425.3" cy="146.8" r="1.35" fill="#1a7bef"/>
<circle cx="423.8" cy="147.9" r="1.35" fill="#1a7bef"/>
<circle cx="436.0" cy="150.7" r="1.35" fill="#1a7bef"/>
<circle cx="441.9" cy="148.7" r="1.35" fill="#1a7bef"/>
<circle cx="439.6" cy="145.6" r="1.35" fill="#1a7bef"/>
<circle cx="429.9" cy="152.3" r="1.35" fill="#1a7bef"/>
<circle cx="431.1" cy="147.4" r="1.35" fill="#1a7bef"/>
<circle cx="428.5" cy="151.2" r="1.35" fill="#1a7bef"/>
<circle cx="447.5" cy="147.5" r="1.35" fill="#1a7bef"/>
<circle cx="434.9" cy="145.8" r="1.35" fill="#1a7bef"/>
<circle cx="431.8" cy="147.5" r="1.35" fill="#1a7bef"/>
<circle cx="428.4" cy="149.2" r="1.35" fill="#1a7bef"/>
<circle cx="444.8" cy="145.6" r="1.35" fill="#1a7bef"/>
<circle cx="446.8" cy="149.6" r="1.35" fill="#1a7bef"/>
<circle cx="438.7" cy="150.1" r="1.35" fill="#1a7bef"/>
<circle cx="426.7" cy="148.7" r="1.35" fill="#1a7bef"/>
<circle cx="445.6" cy="146.1" r="1.35" fill="#1a7bef"/>
<circle cx="442.2" cy="145.3" r="1.35" fill="#1a7bef"/>
<circle cx="430.5" cy="151.2" r="1.35" fill="#1a7bef"/>
<circle cx="435.2" cy="150.4" r="1.35" fill="#1a7bef"/>
<circle cx="428.8" cy="149.3" r="1.35" fill="#1a7bef"/>
<circle cx="439.9" cy="148.7" r="1.35" fill="#1a7bef"/>
<circle cx="431.5" cy="146.2" r="1.35" fill="#1a7bef"/>
<circle cx="449.5" cy="149.0" r="1.35" fill="#1a7bef"/>
<circle cx="425.0" cy="152.2" r="1.35" fill="#1a7bef"/>
<circle cx="446.6" cy="152.1" r="1.35" fill="#1a7bef"/>
<circle cx="442.1" cy="148.2" r="1.35" fill="#1a7bef"/>
<circle cx="431.3" cy="146.5" r="1.35" fill="#1a7bef"/>
<circle cx="423.5" cy="151.4" r="1.35" fill="#1a7bef"/>
<circle cx="435.3" cy="152.2" r="1.35" fill="#1a7bef"/>
<circle cx="467.9" cy="151.5" r="1.35" fill="#1a7bef"/>
<circle cx="448.9" cy="152.2" r="1.35" fill="#1a7bef"/>
<circle cx="462.4" cy="150.6" r="1.35" fill="#1a7bef"/>
<circle cx="462.4" cy="149.8" r="1.35" fill="#1a7bef"/>
<circle cx="467.3" cy="148.5" r="1.35" fill="#1a7bef"/>
<circle cx="463.9" cy="151.6" r="1.35" fill="#1a7bef"/>
<circle cx="458.1" cy="151.7" r="1.35" fill="#1a7bef"/>
<circle cx="445.3" cy="150.5" r="1.35" fill="#1a7bef"/>
<circle cx="464.7" cy="151.7" r="1.35" fill="#1a7bef"/>
<circle cx="452.5" cy="151.0" r="1.35" fill="#1a7bef"/>
<circle cx="464.2" cy="150.3" r="1.35" fill="#1a7bef"/>
<circle cx="462.0" cy="149.4" r="1.35" fill="#1a7bef"/>
<circle cx="455.9" cy="149.2" r="1.35" fill="#1a7bef"/>
<circle cx="470.0" cy="152.1" r="1.35" fill="#1a7bef"/>
<circle cx="470.7" cy="149.5" r="1.35" fill="#1a7bef"/>
<circle cx="448.6" cy="150.6" r="1.35" fill="#1a7bef"/>
<circle cx="462.3" cy="148.7" r="1.35" fill="#1a7bef"/>
<circle cx="455.4" cy="150.1" r="1.35" fill="#1a7bef"/>
<circle cx="469.3" cy="149.2" r="1.35" fill="#1a7bef"/>
<circle cx="471.1" cy="150.5" r="1.35" fill="#1a7bef"/>
<circle cx="463.0" cy="151.6" r="1.35" fill="#1a7bef"/>
<circle cx="464.9" cy="149.1" r="1.35" fill="#1a7bef"/>
<circle cx="462.7" cy="149.5" r="1.35" fill="#1a7bef"/>
<circle cx="450.9" cy="148.8" r="1.35" fill="#1a7bef"/>
<circle cx="472.1" cy="148.5" r="1.35" fill="#1a7bef"/>
<circle cx="459.8" cy="149.2" r="1.35" fill="#1a7bef"/>
<circle cx="453.8" cy="148.7" r="1.35" fill="#1a7bef"/>
<circle cx="468.6" cy="151.0" r="1.35" fill="#1a7bef"/>
<circle cx="447.3" cy="150.6" r="1.35" fill="#1a7bef"/>
<circle cx="460.2" cy="149.3" r="1.35" fill="#1a7bef"/>
<circle cx="458.5" cy="152.3" r="1.35" fill="#1a7bef"/>
<circle cx="467.3" cy="152.2" r="1.35" fill="#1a7bef"/>
<circle cx="503.7" cy="151.4" r="1.35" fill="#1a7bef"/>
<circle cx="488.0" cy="147.9" r="1.35" fill="#1a7bef"/>
<circle cx="481.4" cy="151.6" r="1.35" fill="#1a7bef"/>
<circle cx="494.1" cy="148.3" r="1.35" fill="#1a7bef"/>
<circle cx="505.0" cy="148.5" r="1.35" fill="#1a7bef"/>
<circle cx="508.6" cy="149.6" r="1.35" fill="#1a7bef"/>
<circle cx="508.7" cy="151.9" r="1.35" fill="#1a7bef"/>
<circle cx="484.2" cy="149.4" r="1.35" fill="#1a7bef"/>
<circle cx="486.5" cy="148.2" r="1.35" fill="#1a7bef"/>
<circle cx="498.2" cy="149.4" r="1.35" fill="#1a7bef"/>
<circle cx="505.1" cy="149.2" r="1.35" fill="#1a7bef"/>
<circle cx="487.2" cy="150.2" r="1.35" fill="#1a7bef"/>
<circle cx="505.2" cy="147.2" r="1.35" fill="#1a7bef"/>
<circle cx="483.7" cy="147.5" r="1.35" fill="#1a7bef"/>
<circle cx="509.3" cy="149.4" r="1.35" fill="#1a7bef"/>
<circle cx="496.0" cy="151.3" r="1.35" fill="#1a7bef"/>
<circle cx="494.8" cy="149.5" r="1.35" fill="#1a7bef"/>
<circle cx="497.1" cy="152.3" r="1.35" fill="#1a7bef"/>
<circle cx="509.4" cy="149.4" r="1.35" fill="#1a7bef"/>
<circle cx="490.2" cy="147.8" r="1.35" fill="#1a7bef"/>
<circle cx="495.7" cy="149.6" r="1.35" fill="#1a7bef"/>
<circle cx="500.0" cy="152.0" r="1.35" fill="#1a7bef"/>
<circle cx="494.9" cy="150.0" r="1.35" fill="#1a7bef"/>
<circle cx="508.9" cy="147.1" r="1.35" fill="#1a7bef"/>
<circle cx="485.8" cy="149.7" r="1.35" fill="#1a7bef"/>
<circle cx="481.0" cy="149.9" r="1.35" fill="#1a7bef"/>
<circle cx="504.2" cy="147.2" r="1.35" fill="#1a7bef"/>
<circle cx="492.8" cy="150.6" r="1.35" fill="#1a7bef"/>
<circle cx="483.2" cy="148.9" r="1.35" fill="#1a7bef"/>
<circle cx="507.9" cy="151.7" r="1.35" fill="#1a7bef"/>
<circle cx="520.6" cy="151.2" r="1.35" fill="#1a7bef"/>
<circle cx="514.1" cy="149.6" r="1.35" fill="#1a7bef"/>
<circle cx="519.6" cy="148.9" r="1.35" fill="#1a7bef"/>
<circle cx="515.9" cy="146.7" r="1.35" fill="#1a7bef"/>
<circle cx="513.2" cy="145.8" r="1.35" fill="#1a7bef"/>
<circle cx="513.4" cy="147.5" r="1.35" fill="#1a7bef"/>
<circle cx="514.8" cy="149.9" r="1.35" fill="#1a7bef"/>
<circle cx="517.8" cy="148.1" r="1.35" fill="#1a7bef"/>
<circle cx="516.1" cy="148.2" r="1.35" fill="#1a7bef"/>
<circle cx="517.8" cy="150.2" r="1.35" fill="#1a7bef"/>
<circle cx="540.5" cy="150.7" r="1.35" fill="#1a7bef"/>
<circle cx="544.5" cy="151.1" r="1.35" fill="#1a7bef"/>
<circle cx="546.4" cy="150.8" r="1.35" fill="#1a7bef"/>
<circle cx="546.5" cy="152.3" r="1.35" fill="#1a7bef"/>
<circle cx="545.4" cy="150.0" r="1.35" fill="#1a7bef"/>
<circle cx="546.9" cy="152.0" r="1.35" fill="#1a7bef"/>
<circle cx="541.5" cy="149.6" r="1.35" fill="#1a7bef"/>
<circle cx="540.6" cy="149.3" r="1.35" fill="#1a7bef"/>
<circle cx="546.8" cy="152.7" r="1.35" fill="#1a7bef"/>
<circle cx="540.8" cy="150.4" r="1.35" fill="#1a7bef"/>
<circle cx="541.0" cy="152.8" r="1.35" fill="#1a7bef"/>
<circle cx="546.3" cy="151.5" r="1.35" fill="#1a7bef"/>
<circle cx="543.4" cy="138.7" r="1.35" fill="#1a7bef"/>
<circle cx="541.1" cy="132.5" r="1.35" fill="#1a7bef"/>
<circle cx="538.7" cy="137.9" r="1.35" fill="#1a7bef"/>
<circle cx="542.8" cy="130.0" r="1.35" fill="#1a7bef"/>
<circle cx="544.5" cy="138.8" r="1.35" fill="#1a7bef"/>
<circle cx="541.7" cy="131.7" r="1.35" fill="#1a7bef"/>
<circle cx="541.7" cy="132.5" r="1.35" fill="#1a7bef"/>
<circle cx="539.8" cy="139.3" r="1.35" fill="#1a7bef"/>
<circle cx="539.2" cy="139.7" r="1.35" fill="#1a7bef"/>
<circle cx="542.0" cy="134.4" r="1.35" fill="#1a7bef"/>
<circle cx="542.1" cy="138.5" r="1.35" fill="#1a7bef"/>
<circle cx="539.7" cy="137.9" r="1.35" fill="#1a7bef"/>
<circle cx="543.7" cy="129.1" r="1.35" fill="#1a7bef"/>
<circle cx="544.3" cy="139.1" r="1.35" fill="#1a7bef"/>
<circle cx="548.1" cy="132.5" r="1.35" fill="#1a7bef"/>
<circle cx="550.2" cy="133.2" r="1.35" fill="#1a7bef"/>
<circle cx="549.5" cy="134.4" r="1.35" fill="#1a7bef"/>
<circle cx="550.5" cy="134.5" r="1.35" fill="#1a7bef"/>
<circle cx="550.9" cy="136.2" r="1.35" fill="#1a7bef"/>
<circle cx="570.5" cy="149.3" r="1.35" fill="#1a7bef"/>
<circle cx="562.7" cy="151.1" r="1.35" fill="#1a7bef"/>
<circle cx="571.1" cy="151.3" r="1.35" fill="#1a7bef"/>
<circle cx="562.9" cy="152.4" r="1.35" fill="#1a7bef"/>
<circle cx="567.7" cy="153.1" r="1.35" fill="#1a7bef"/>
<circle cx="573.4" cy="149.5" r="1.35" fill="#1a7bef"/>
<circle cx="570.6" cy="149.3" r="1.35" fill="#1a7bef"/>
<circle cx="569.4" cy="151.3" r="1.35" fill="#1a7bef"/>
<circle cx="569.0" cy="150.9" r="1.35" fill="#1a7bef"/>
<circle cx="574.7" cy="149.5" r="1.35" fill="#1a7bef"/>
<circle cx="563.9" cy="149.0" r="1.35" fill="#1a7bef"/>
<circle cx="571.2" cy="149.6" r="1.35" fill="#1a7bef"/>
<circle cx="572.2" cy="151.3" r="1.35" fill="#1a7bef"/>
<circle cx="573.4" cy="149.2" r="1.35" fill="#1a7bef"/>
<circle cx="570.4" cy="149.7" r="1.35" fill="#1a7bef"/>
<circle cx="571.5" cy="151.3" r="1.35" fill="#1a7bef"/>
<circle cx="570.8" cy="152.9" r="1.35" fill="#1a7bef"/>
<circle cx="565.1" cy="151.1" r="1.35" fill="#1a7bef"/>
<circle cx="576.9" cy="145.9" r="1.35" fill="#1a7bef"/>
<circle cx="581.6" cy="142.4" r="1.35" fill="#1a7bef"/>
<circle cx="578.5" cy="138.2" r="1.35" fill="#1a7bef"/>
<circle cx="581.8" cy="146.2" r="1.35" fill="#1a7bef"/>
<circle cx="581.7" cy="143.1" r="1.35" fill="#1a7bef"/>
<circle cx="580.8" cy="145.5" r="1.35" fill="#1a7bef"/>
<circle cx="584.3" cy="142.2" r="1.35" fill="#1a7bef"/>
<circle cx="582.1" cy="140.6" r="1.35" fill="#1a7bef"/>
<circle cx="584.2" cy="150.3" r="1.35" fill="#1a7bef"/>
<circle cx="581.4" cy="140.9" r="1.35" fill="#1a7bef"/>
<circle cx="578.7" cy="145.3" r="1.35" fill="#1a7bef"/>
<circle cx="577.2" cy="148.0" r="1.35" fill="#1a7bef"/>
<circle cx="579.6" cy="149.3" r="1.35" fill="#1a7bef"/>
<circle cx="578.7" cy="138.7" r="1.35" fill="#1a7bef"/>
<circle cx="580.9" cy="143.9" r="1.35" fill="#1a7bef"/>
<circle cx="584.1" cy="143.2" r="1.35" fill="#1a7bef"/>
<circle cx="584.3" cy="142.2" r="1.35" fill="#1a7bef"/>
<circle cx="582.9" cy="149.6" r="1.35" fill="#1a7bef"/>
<circle cx="581.3" cy="140.7" r="1.35" fill="#1a7bef"/>
<circle cx="577.1" cy="138.4" r="1.35" fill="#1a7bef"/>
<circle cx="578.0" cy="144.4" r="1.35" fill="#1a7bef"/>
<circle cx="578.1" cy="144.1" r="1.35" fill="#1a7bef"/>
<circle cx="600.9" cy="152.9" r="1.35" fill="#1a7bef"/>
<circle cx="603.6" cy="151.0" r="1.35" fill="#1a7bef"/>
<circle cx="600.2" cy="150.1" r="1.35" fill="#1a7bef"/>
<circle cx="598.9" cy="151.7" r="1.35" fill="#1a7bef"/>
<circle cx="601.2" cy="150.3" r="1.35" fill="#1a7bef"/>
<circle cx="598.3" cy="149.5" r="1.35" fill="#1a7bef"/>
<circle cx="598.4" cy="153.1" r="1.35" fill="#1a7bef"/>
<circle cx="598.0" cy="153.0" r="1.35" fill="#1a7bef"/>
<circle cx="576.1" cy="139.3" r="1.35" fill="#1a7bef"/>
<circle cx="577.2" cy="138.6" r="1.35" fill="#1a7bef"/>
<circle cx="578.8" cy="142.5" r="1.35" fill="#1a7bef"/>
<circle cx="579.9" cy="138.4" r="1.35" fill="#1a7bef"/>
<circle cx="575.7" cy="138.6" r="1.35" fill="#1a7bef"/>
<circle cx="577.4" cy="140.6" r="1.35" fill="#1a7bef"/>
<circle cx="599.6" cy="151.6" r="1.35" fill="#1a7bef"/>
<circle cx="592.4" cy="147.1" r="1.35" fill="#1a7bef"/>
<circle cx="595.6" cy="150.1" r="1.35" fill="#1a7bef"/>
<circle cx="599.7" cy="147.9" r="1.35" fill="#1a7bef"/>
<circle cx="593.7" cy="152.4" r="1.35" fill="#1a7bef"/>
<circle cx="594.0" cy="150.2" r="1.35" fill="#1a7bef"/>
<circle cx="587.3" cy="152.9" r="1.35" fill="#1a7bef"/>
<circle cx="592.4" cy="152.4" r="1.35" fill="#1a7bef"/>
<circle cx="591.1" cy="148.8" r="1.35" fill="#1a7bef"/>
<circle cx="591.3" cy="151.5" r="1.35" fill="#1a7bef"/>
<circle cx="593.3" cy="150.5" r="1.35" fill="#1a7bef"/>
<circle cx="596.4" cy="149.7" r="1.35" fill="#1a7bef"/>
<circle cx="600.0" cy="147.0" r="1.35" fill="#1a7bef"/>
<circle cx="595.7" cy="151.6" r="1.35" fill="#1a7bef"/>
<circle cx="441.1" cy="136.8" r="1.35" fill="#1a7bef"/>
<circle cx="442.7" cy="137.0" r="1.35" fill="#1a7bef"/>
<circle cx="443.7" cy="137.3" r="1.35" fill="#1a7bef"/>
<circle cx="445.1" cy="137.1" r="1.35" fill="#1a7bef"/>
<circle cx="446.3" cy="137.0" r="1.35" fill="#1a7bef"/>
<circle cx="447.7" cy="137.4" r="1.35" fill="#1a7bef"/>
<circle cx="448.6" cy="136.7" r="1.35" fill="#1a7bef"/>
<circle cx="450.2" cy="136.8" r="1.35" fill="#1a7bef"/>
<circle cx="444.7" cy="137.9" r="1.35" fill="#1a7bef"/>
<circle cx="446.3" cy="137.6" r="1.35" fill="#1a7bef"/>
<circle cx="448.0" cy="137.8" r="1.35" fill="#1a7bef"/>
<circle cx="449.5" cy="137.9" r="1.35" fill="#1a7bef"/>
<circle cx="450.7" cy="137.4" r="1.35" fill="#1a7bef"/>
<circle cx="452.4" cy="137.4" r="1.35" fill="#1a7bef"/>
<circle cx="453.8" cy="137.5" r="1.35" fill="#1a7bef"/>
<circle cx="455.2" cy="137.6" r="1.35" fill="#1a7bef"/>
<circle cx="457.0" cy="137.3" r="1.35" fill="#1a7bef"/>
<circle cx="458.0" cy="137.8" r="1.35" fill="#1a7bef"/>
<circle cx="458.5" cy="134.8" r="1.35" fill="#1a7bef"/>
<circle cx="459.9" cy="134.6" r="1.35" fill="#1a7bef"/>
<circle cx="461.2" cy="134.0" r="1.35" fill="#1a7bef"/>
<circle cx="462.9" cy="133.3" r="1.35" fill="#1a7bef"/>
<circle cx="464.2" cy="132.3" r="1.35" fill="#1a7bef"/>
<circle cx="465.5" cy="132.1" r="1.35" fill="#1a7bef"/>
<circle cx="467.2" cy="131.2" r="1.35" fill="#1a7bef"/>
<circle cx="468.5" cy="131.1" r="1.35" fill="#1a7bef"/>
<circle cx="471.4" cy="130.6" r="1.35" fill="#1a7bef"/>
<circle cx="472.9" cy="131.2" r="1.35" fill="#1a7bef"/>
<circle cx="474.7" cy="130.9" r="1.35" fill="#1a7bef"/>
<circle cx="476.3" cy="131.0" r="1.35" fill="#1a7bef"/>
<circle cx="477.9" cy="131.2" r="1.35" fill="#1a7bef"/>
<circle cx="525.6" cy="115.2" r="1.35" fill="#1a7bef"/>
<circle cx="527.1" cy="115.5" r="1.35" fill="#1a7bef"/>
<circle cx="529.0" cy="115.1" r="1.35" fill="#1a7bef"/>
<circle cx="530.3" cy="115.6" r="1.35" fill="#1a7bef"/>
<circle cx="531.9" cy="115.1" r="1.35" fill="#1a7bef"/>
<circle cx="533.4" cy="115.6" r="1.35" fill="#1a7bef"/>
<circle cx="535.2" cy="115.2" r="1.35" fill="#1a7bef"/>
<circle cx="536.8" cy="115.0" r="1.35" fill="#1a7bef"/>
<circle cx="538.3" cy="115.3" r="1.35" fill="#1a7bef"/>
<circle cx="524.2" cy="135.2" r="1.35" fill="#1a7bef"/>
<circle cx="525.2" cy="135.1" r="1.35" fill="#1a7bef"/>
<circle cx="526.9" cy="134.7" r="1.35" fill="#1a7bef"/>
<circle cx="527.8" cy="135.1" r="1.35" fill="#1a7bef"/>
<circle cx="553.3" cy="127.2" r="1.35" fill="#1a7bef"/>
<circle cx="555.0" cy="127.1" r="1.35" fill="#1a7bef"/>
<circle cx="556.5" cy="127.0" r="1.35" fill="#1a7bef"/>
<circle cx="558.5" cy="127.0" r="1.35" fill="#1a7bef"/>
<circle cx="560.2" cy="127.0" r="1.35" fill="#1a7bef"/>
<circle cx="553.2" cy="143.6" r="1.35" fill="#1a7bef"/>
<circle cx="555.3" cy="144.0" r="1.35" fill="#1a7bef"/>
<circle cx="556.4" cy="143.8" r="1.35" fill="#1a7bef"/>
<circle cx="558.4" cy="143.7" r="1.35" fill="#1a7bef"/>
<circle cx="560.3" cy="143.7" r="1.35" fill="#1a7bef"/>
<circle cx="548.0" cy="146.6" r="1.35" fill="#1a7bef"/>
<circle cx="549.6" cy="146.0" r="1.35" fill="#1a7bef"/>
<circle cx="551.0" cy="146.6" r="1.35" fill="#1a7bef"/>
<circle cx="553.1" cy="146.0" r="1.35" fill="#1a7bef"/>
<circle cx="551.8" cy="151.3" r="1.35" fill="#1a7bef"/>
<circle cx="553.4" cy="151.2" r="1.35" fill="#1a7bef"/>
<circle cx="555.3" cy="151.6" r="1.35" fill="#1a7bef"/>
<circle cx="556.6" cy="151.2" r="1.35" fill="#1a7bef"/>
<circle cx="558.4" cy="151.2" r="1.35" fill="#1a7bef"/>
<circle cx="559.9" cy="151.5" r="1.35" fill="#1a7bef"/>
<circle cx="607.3" cy="146.8" r="1.35" fill="#1a7bef"/>
<circle cx="608.5" cy="146.9" r="1.35" fill="#1a7bef"/>
<circle cx="610.1" cy="146.8" r="1.35" fill="#1a7bef"/>
<circle cx="611.7" cy="147.0" r="1.35" fill="#1a7bef"/>
<circle cx="613.1" cy="146.8" r="1.35" fill="#1a7bef"/>
<circle cx="614.6" cy="146.7" r="1.35" fill="#1a7bef"/>
<circle cx="616.1" cy="146.6" r="1.35" fill="#1a7bef"/>
<circle cx="617.6" cy="146.8" r="1.35" fill="#1a7bef"/>
<circle cx="618.9" cy="146.8" r="1.35" fill="#1a7bef"/>
<circle cx="620.5" cy="147.0" r="1.35" fill="#1a7bef"/>
<circle cx="621.8" cy="147.2" r="1.35" fill="#1a7bef"/>
<circle cx="623.4" cy="146.5" r="1.35" fill="#1a7bef"/>
<circle cx="624.7" cy="147.2" r="1.35" fill="#1a7bef"/>
<circle cx="626.1" cy="147.0" r="1.35" fill="#1a7bef"/>
<circle cx="627.6" cy="146.6" r="1.35" fill="#1a7bef"/>
<circle cx="628.9" cy="147.1" r="1.35" fill="#1a7bef"/>
<circle cx="630.4" cy="146.8" r="1.35" fill="#1a7bef"/>
<circle cx="632.3" cy="147.2" r="1.35" fill="#1a7bef"/>
<circle cx="633.4" cy="147.0" r="1.35" fill="#1a7bef"/>
<circle cx="635.2" cy="146.6" r="1.35" fill="#1a7bef"/>
<circle cx="636.3" cy="147.2" r="1.35" fill="#1a7bef"/>
<circle cx="637.9" cy="147.1" r="1.35" fill="#1a7bef"/>
<circle cx="639.4" cy="146.8" r="1.35" fill="#1a7bef"/>
<circle cx="641.1" cy="147.1" r="1.35" fill="#1a7bef"/>
<circle cx="642.3" cy="147.1" r="1.35" fill="#1a7bef"/>
<circle cx="643.8" cy="146.7" r="1.35" fill="#1a7bef"/>
<circle cx="602.9" cy="152.1" r="1.35" fill="#1a7bef"/>
<circle cx="604.7" cy="152.2" r="1.35" fill="#1a7bef"/>
<circle cx="605.9" cy="151.9" r="1.35" fill="#1a7bef"/>
<circle cx="607.8" cy="152.3" r="1.35" fill="#1a7bef"/>
<circle cx="609.1" cy="151.8" r="1.35" fill="#1a7bef"/>
<circle cx="610.6" cy="152.4" r="1.35" fill="#1a7bef"/>
<circle cx="611.9" cy="151.8" r="1.35" fill="#1a7bef"/>
<circle cx="613.9" cy="152.2" r="1.35" fill="#1a7bef"/>
<circle cx="615.2" cy="152.1" r="1.35" fill="#1a7bef"/>
<circle cx="616.6" cy="151.8" r="1.35" fill="#1a7bef"/>
<circle cx="618.4" cy="152.4" r="1.35" fill="#1a7bef"/>
<circle cx="619.5" cy="152.2" r="1.35" fill="#1a7bef"/>
<circle cx="621.2" cy="151.9" r="1.35" fill="#1a7bef"/>
<circle cx="623.0" cy="152.1" r="1.35" fill="#1a7bef"/>
<circle cx="624.2" cy="152.4" r="1.35" fill="#1a7bef"/>
<circle cx="625.8" cy="152.3" r="1.35" fill="#1a7bef"/>
<circle cx="627.6" cy="152.1" r="1.35" fill="#1a7bef"/>
<circle cx="629.0" cy="151.8" r="1.35" fill="#1a7bef"/>
<circle cx="630.3" cy="152.1" r="1.35" fill="#1a7bef"/>
<circle cx="631.8" cy="151.9" r="1.35" fill="#1a7bef"/>
<circle cx="585.2" cy="131.4" r="1.35" fill="#1a7bef"/>
<circle cx="587.2" cy="133.3" r="1.35" fill="#1a7bef"/>
<circle cx="588.2" cy="135.7" r="1.35" fill="#1a7bef"/>
<circle cx="590.1" cy="137.7" r="1.35" fill="#1a7bef"/>
<circle cx="591.5" cy="139.4" r="1.35" fill="#1a7bef"/>
<circle cx="593.3" cy="141.2" r="1.35" fill="#1a7bef"/>
<circle cx="594.7" cy="143.3" r="1.35" fill="#1a7bef"/>
<circle cx="596.2" cy="145.2" r="1.35" fill="#1a7bef"/>
<circle cx="563.4" cy="144.1" r="1.35" fill="#1a7bef"/>
<circle cx="564.8" cy="141.8" r="1.35" fill="#1a7bef"/>
<circle cx="566.2" cy="139.4" r="1.35" fill="#1a7bef"/>
<circle cx="567.5" cy="137.0" r="1.35" fill="#1a7bef"/>
<circle cx="569.2" cy="135.2" r="1.35" fill="#1a7bef"/>
<circle cx="426.7" cy="129.8" r="1.35" fill="#1a7bef"/>
<circle cx="429.3" cy="129.5" r="1.35" fill="#1a7bef"/>
<circle cx="431.6" cy="129.5" r="1.35" fill="#1a7bef"/>
<circle cx="433.8" cy="129.8" r="1.35" fill="#1a7bef"/>
<circle cx="418.8" cy="140.2" r="1.35" fill="#1a7bef"/>
<circle cx="421.4" cy="140.4" r="1.35" fill="#1a7bef"/>
<circle cx="423.3" cy="140.6" r="1.35" fill="#1a7bef"/>
<circle cx="426.1" cy="140.7" r="1.35" fill="#1a7bef"/>
<circle cx="510.5" cy="117.9" r="1.35" fill="#1a7bef"/>
<circle cx="511.7" cy="117.5" r="1.35" fill="#1a7bef"/>
<circle cx="513.7" cy="118.1" r="1.35" fill="#1a7bef"/>
<circle cx="586.1" cy="140.3" r="1.35" fill="#1a7bef"/>
<circle cx="587.9" cy="142.4" r="1.35" fill="#1a7bef"/>
<circle cx="589.9" cy="144.8" r="1.35" fill="#1a7bef"/>
<circle cx="591.9" cy="146.9" r="1.35" fill="#1a7bef"/>
<circle cx="593.9" cy="149.5" r="1.35" fill="#1a7bef"/>
<circle cx="392.3" cy="132.0" r="1.35" fill="#1a7bef"/>
<circle cx="392.3" cy="138.2" r="1.35" fill="#1a7bef"/>
<circle cx="408.6" cy="118.2" r="1.35" fill="#1a7bef"/>
<circle cx="409.6" cy="119.9" r="1.35" fill="#1a7bef"/>
<circle cx="419.9" cy="115.3" r="1.35" fill="#1a7bef"/>
<circle cx="418.8" cy="121.2" r="1.35" fill="#1a7bef"/>
<circle cx="422.4" cy="121.6" r="1.35" fill="#1a7bef"/>
<circle cx="410.7" cy="125.0" r="1.35" fill="#1a7bef"/>
<circle cx="412.7" cy="125.0" r="1.35" fill="#1a7bef"/>
<circle cx="408.1" cy="127.1" r="1.35" fill="#1a7bef"/>
<circle cx="414.7" cy="128.9" r="1.35" fill="#1a7bef"/>
<circle cx="402.5" cy="132.0" r="1.35" fill="#1a7bef"/>
<circle cx="405.5" cy="132.0" r="1.35" fill="#1a7bef"/>
<circle cx="408.1" cy="132.0" r="1.35" fill="#1a7bef"/>
<circle cx="402.0" cy="137.5" r="1.35" fill="#1a7bef"/>
<circle cx="402.0" cy="140.1" r="1.35" fill="#1a7bef"/>
<circle cx="412.7" cy="134.9" r="1.35" fill="#1a7bef"/>
<circle cx="412.7" cy="137.5" r="1.35" fill="#1a7bef"/>
<circle cx="405.0" cy="143.1" r="1.35" fill="#1a7bef"/>
<circle cx="407.0" cy="145.8" r="1.35" fill="#1a7bef"/>
<circle cx="401.0" cy="147.3" r="1.35" fill="#1a7bef"/>
<circle cx="437.7" cy="134.0" r="1.35" fill="#1a7bef"/>
<circle cx="436.2" cy="142.2" r="1.35" fill="#1a7bef"/>
<circle cx="461.9" cy="143.1" r="1.35" fill="#1a7bef"/>
<circle cx="470.0" cy="140.7" r="1.35" fill="#1a7bef"/>
<circle cx="476.2" cy="140.7" r="1.35" fill="#1a7bef"/>
<circle cx="513.0" cy="106.1" r="1.35" fill="#1a7bef"/>
<circle cx="514.5" cy="132.0" r="1.35" fill="#1a7bef"/>
<circle cx="514.5" cy="140.1" r="1.35" fill="#1a7bef"/>
<circle cx="512.0" cy="144.8" r="1.35" fill="#1a7bef"/>
<circle cx="523.3" cy="97.0" r="1.35" fill="#1a7bef"/>
<circle cx="522.8" cy="99.6" r="1.35" fill="#1a7bef"/>
<circle cx="520.2" cy="100.9" r="1.35" fill="#1a7bef"/>
<circle cx="521.5" cy="100.3" r="1.35" fill="#1a7bef"/>
<circle cx="538.1" cy="103.5" r="1.35" fill="#1a7bef"/>
<circle cx="530.0" cy="108.8" r="1.35" fill="#1a7bef"/>
<circle cx="531.0" cy="109.4" r="1.35" fill="#1a7bef"/>
<circle cx="540.1" cy="121.2" r="1.35" fill="#1a7bef"/>
<circle cx="525.3" cy="120.5" r="1.35" fill="#1a7bef"/>
<circle cx="525.3" cy="125.8" r="1.35" fill="#1a7bef"/>
<circle cx="523.8" cy="130.6" r="1.35" fill="#1a7bef"/>
<circle cx="514.6" cy="132.3" r="1.35" fill="#1a7bef"/>
<circle cx="515.1" cy="139.2" r="1.35" fill="#1a7bef"/>
<circle cx="515.1" cy="141.2" r="1.35" fill="#1a7bef"/>
<circle cx="558.5" cy="118.2" r="1.35" fill="#1a7bef"/>
<circle cx="577.0" cy="127.5" r="1.35" fill="#1a7bef"/>
<circle cx="577.0" cy="135.0" r="1.35" fill="#1a7bef"/>
<circle cx="576.8" cy="127.6" r="1.35" fill="#1a7bef"/>
<circle cx="576.8" cy="134.6" r="1.35" fill="#1a7bef"/>
<circle cx="602.4" cy="132.9" r="1.35" fill="#1a7bef"/>
<circle cx="602.4" cy="138.8" r="1.35" fill="#1a7bef"/>
<circle cx="594.9" cy="137.0" r="1.35" fill="#1a7bef"/>
<circle cx="587.8" cy="142.7" r="1.35" fill="#1a7bef"/>
<circle cx="645.0" cy="151.0" r="1.35" fill="#1a7bef"/>
<circle cx="646.8" cy="153.2" r="1.35" fill="#1a7bef"/>
<circle cx="649.5" cy="152.5" r="1.35" fill="#1a7bef"/>
<circle cx="537.3" cy="110.1" r="1.35" fill="#1a7bef"/>
<circle cx="537.5" cy="123.1" r="1.35" fill="#1a7bef"/>
<circle cx="537.6" cy="131.0" r="1.35" fill="#1a7bef"/>
<circle cx="537.4" cy="137.5" r="1.35" fill="#1a7bef"/>
<circle cx="537.2" cy="76.1" r="1.3" fill="#1a7bef"/><circle cx="538.4" cy="76.1" r="1.3" fill="#1a7bef"/>
<circle cx="649.5" cy="152.5" r="1.35" fill="#1a7bef"/>
<path d="M537.6,62.6 l3.3,3.3 -3.3,3.3 -3.3,-3.3Z" fill="#ff0000"/>
<circle cx="391.1" cy="208.3" r="1.35" fill="#1a7bef"/>
<circle cx="391.2" cy="212.1" r="1.35" fill="#1a7bef"/>
<circle cx="390.8" cy="215.3" r="1.35" fill="#1a7bef"/>
<circle cx="391.0" cy="218.4" r="1.35" fill="#1a7bef"/>
<circle cx="391.2" cy="222.0" r="1.35" fill="#1a7bef"/>
<circle cx="391.1" cy="225.3" r="1.35" fill="#1a7bef"/>
<circle cx="391.4" cy="234.6" r="1.35" fill="#1a7bef"/>
<circle cx="391.5" cy="229.2" r="1.35" fill="#1a7bef"/>
<circle cx="391.2" cy="230.2" r="1.35" fill="#1a7bef"/>
<circle cx="391.2" cy="231.7" r="1.35" fill="#1a7bef"/>
<circle cx="392.0" cy="235.1" r="1.35" fill="#1a7bef"/>
<circle cx="393.5" cy="239.6" r="1.35" fill="#1a7bef"/>
<circle cx="391.2" cy="229.1" r="1.35" fill="#1a7bef"/>
<circle cx="392.5" cy="238.8" r="1.35" fill="#1a7bef"/>
<circle cx="394.0" cy="228.7" r="1.35" fill="#1a7bef"/>
<circle cx="391.3" cy="234.8" r="1.35" fill="#1a7bef"/>
<circle cx="391.4" cy="236.1" r="1.35" fill="#1a7bef"/>
<circle cx="392.9" cy="237.9" r="1.35" fill="#1a7bef"/>
<circle cx="390.0" cy="249.5" r="1.35" fill="#1a7bef"/>
<circle cx="387.0" cy="237.5" r="1.35" fill="#1a7bef"/>
<circle cx="388.3" cy="243.7" r="1.35" fill="#1a7bef"/>
<circle cx="389.4" cy="242.8" r="1.35" fill="#1a7bef"/>
<circle cx="388.2" cy="249.8" r="1.35" fill="#1a7bef"/>
<circle cx="390.1" cy="235.1" r="1.35" fill="#1a7bef"/>
<circle cx="391.6" cy="239.9" r="1.35" fill="#1a7bef"/>
<circle cx="388.0" cy="244.6" r="1.35" fill="#1a7bef"/>
<circle cx="389.9" cy="239.7" r="1.35" fill="#1a7bef"/>
<circle cx="386.6" cy="246.6" r="1.35" fill="#1a7bef"/>
<circle cx="388.1" cy="242.3" r="1.35" fill="#1a7bef"/>
<circle cx="390.6" cy="242.4" r="1.35" fill="#1a7bef"/>
<circle cx="386.2" cy="237.4" r="1.35" fill="#1a7bef"/>
<circle cx="388.5" cy="242.1" r="1.35" fill="#1a7bef"/>
<circle cx="387.3" cy="243.6" r="1.35" fill="#1a7bef"/>
<circle cx="388.2" cy="238.2" r="1.35" fill="#1a7bef"/>
<circle cx="386.6" cy="241.7" r="1.35" fill="#1a7bef"/>
<circle cx="387.0" cy="239.4" r="1.35" fill="#1a7bef"/>
<circle cx="386.2" cy="245.9" r="1.35" fill="#1a7bef"/>
<circle cx="388.0" cy="240.3" r="1.35" fill="#1a7bef"/>
<circle cx="387.8" cy="246.7" r="1.35" fill="#1a7bef"/>
<circle cx="395.4" cy="248.4" r="1.35" fill="#1a7bef"/>
<circle cx="408.4" cy="242.2" r="1.35" fill="#1a7bef"/>
<circle cx="408.6" cy="242.2" r="1.35" fill="#1a7bef"/>
<circle cx="393.4" cy="242.5" r="1.35" fill="#1a7bef"/>
<circle cx="402.9" cy="249.2" r="1.35" fill="#1a7bef"/>
<circle cx="421.5" cy="242.6" r="1.35" fill="#1a7bef"/>
<circle cx="385.6" cy="248.5" r="1.35" fill="#1a7bef"/>
<circle cx="422.6" cy="247.8" r="1.35" fill="#1a7bef"/>
<circle cx="397.0" cy="250.9" r="1.35" fill="#1a7bef"/>
<circle cx="387.2" cy="245.3" r="1.35" fill="#1a7bef"/>
<circle cx="432.9" cy="241.8" r="1.35" fill="#1a7bef"/>
<circle cx="409.7" cy="250.7" r="1.35" fill="#1a7bef"/>
<circle cx="400.9" cy="243.7" r="1.35" fill="#1a7bef"/>
<circle cx="425.6" cy="245.1" r="1.35" fill="#1a7bef"/>
<circle cx="396.4" cy="246.1" r="1.35" fill="#1a7bef"/>
<circle cx="408.4" cy="245.2" r="1.35" fill="#1a7bef"/>
<circle cx="398.0" cy="242.3" r="1.35" fill="#1a7bef"/>
<circle cx="428.6" cy="249.4" r="1.35" fill="#1a7bef"/>
<circle cx="399.4" cy="242.9" r="1.35" fill="#1a7bef"/>
<circle cx="398.8" cy="242.3" r="1.35" fill="#1a7bef"/>
<circle cx="410.2" cy="244.6" r="1.35" fill="#1a7bef"/>
<circle cx="419.4" cy="249.0" r="1.35" fill="#1a7bef"/>
<circle cx="399.1" cy="248.6" r="1.35" fill="#1a7bef"/>
<circle cx="418.4" cy="244.6" r="1.35" fill="#1a7bef"/>
<circle cx="391.7" cy="242.8" r="1.35" fill="#1a7bef"/>
<circle cx="405.6" cy="248.7" r="1.35" fill="#1a7bef"/>
<circle cx="406.4" cy="242.0" r="1.35" fill="#1a7bef"/>
<circle cx="412.4" cy="245.2" r="1.35" fill="#1a7bef"/>
<circle cx="429.8" cy="242.1" r="1.35" fill="#1a7bef"/>
<circle cx="422.1" cy="247.1" r="1.35" fill="#1a7bef"/>
<circle cx="413.8" cy="242.7" r="1.35" fill="#1a7bef"/>
<circle cx="423.5" cy="245.6" r="1.35" fill="#1a7bef"/>
<circle cx="402.1" cy="247.6" r="1.35" fill="#1a7bef"/>
<circle cx="420.9" cy="245.8" r="1.35" fill="#1a7bef"/>
<circle cx="386.1" cy="244.4" r="1.35" fill="#1a7bef"/>
<circle cx="429.0" cy="243.6" r="1.35" fill="#1a7bef"/>
<circle cx="428.7" cy="242.6" r="1.35" fill="#1a7bef"/>
<circle cx="411.2" cy="243.7" r="1.35" fill="#1a7bef"/>
<circle cx="403.7" cy="250.0" r="1.35" fill="#1a7bef"/>
<circle cx="402.4" cy="248.1" r="1.35" fill="#1a7bef"/>
<circle cx="430.5" cy="244.6" r="1.35" fill="#1a7bef"/>
<circle cx="411.5" cy="245.2" r="1.35" fill="#1a7bef"/>
<circle cx="391.3" cy="246.0" r="1.35" fill="#1a7bef"/>
<circle cx="419.2" cy="247.3" r="1.35" fill="#1a7bef"/>
<circle cx="397.2" cy="247.2" r="1.35" fill="#1a7bef"/>
<circle cx="401.0" cy="244.7" r="1.35" fill="#1a7bef"/>
<circle cx="392.2" cy="250.1" r="1.35" fill="#1a7bef"/>
<circle cx="400.4" cy="244.6" r="1.35" fill="#1a7bef"/>
<circle cx="422.1" cy="244.9" r="1.35" fill="#1a7bef"/>
<circle cx="430.5" cy="247.6" r="1.35" fill="#1a7bef"/>
<circle cx="386.7" cy="246.5" r="1.35" fill="#1a7bef"/>
<circle cx="406.8" cy="249.3" r="1.35" fill="#1a7bef"/>
<circle cx="417.6" cy="247.8" r="1.35" fill="#1a7bef"/>
<circle cx="396.8" cy="247.9" r="1.35" fill="#1a7bef"/>
<circle cx="431.0" cy="250.9" r="1.35" fill="#1a7bef"/>
<circle cx="402.7" cy="248.4" r="1.35" fill="#1a7bef"/>
<circle cx="395.0" cy="247.0" r="1.35" fill="#1a7bef"/>
<circle cx="396.0" cy="242.5" r="1.35" fill="#1a7bef"/>
<circle cx="409.6" cy="244.5" r="1.35" fill="#1a7bef"/>
<circle cx="393.2" cy="246.7" r="1.35" fill="#1a7bef"/>
<circle cx="414.7" cy="243.2" r="1.35" fill="#1a7bef"/>
<circle cx="397.4" cy="246.7" r="1.35" fill="#1a7bef"/>
<circle cx="426.7" cy="243.3" r="1.35" fill="#1a7bef"/>
<circle cx="396.3" cy="246.0" r="1.35" fill="#1a7bef"/>
<circle cx="422.1" cy="247.3" r="1.35" fill="#1a7bef"/>
<circle cx="417.9" cy="244.9" r="1.35" fill="#1a7bef"/>
<circle cx="432.4" cy="245.9" r="1.35" fill="#1a7bef"/>
<circle cx="418.2" cy="247.7" r="1.35" fill="#1a7bef"/>
<circle cx="420.7" cy="248.0" r="1.35" fill="#1a7bef"/>
<circle cx="425.5" cy="239.5" r="1.35" fill="#1a7bef"/>
<circle cx="426.9" cy="239.7" r="1.35" fill="#1a7bef"/>
<circle cx="428.3" cy="239.4" r="1.35" fill="#1a7bef"/>
<circle cx="429.8" cy="239.8" r="1.35" fill="#1a7bef"/>
<circle cx="431.6" cy="239.6" r="1.35" fill="#1a7bef"/>
<circle cx="440.7" cy="247.5" r="1.35" fill="#1a7bef"/>
<circle cx="437.9" cy="247.2" r="1.35" fill="#1a7bef"/>
<circle cx="440.5" cy="247.9" r="1.35" fill="#1a7bef"/>
<circle cx="436.6" cy="247.5" r="1.35" fill="#1a7bef"/>
<circle cx="458.4" cy="249.1" r="1.35" fill="#1a7bef"/>
<circle cx="457.8" cy="249.5" r="1.35" fill="#1a7bef"/>
<circle cx="456.2" cy="249.8" r="1.35" fill="#1a7bef"/>
<circle cx="454.1" cy="249.5" r="1.35" fill="#1a7bef"/>
<circle cx="453.8" cy="249.5" r="1.35" fill="#1a7bef"/>
<circle cx="458.1" cy="249.9" r="1.35" fill="#1a7bef"/>
<circle cx="452.1" cy="249.8" r="1.35" fill="#1a7bef"/>
<circle cx="502.6" cy="248.2" r="1.35" fill="#1a7bef"/>
<circle cx="458.5" cy="247.0" r="1.35" fill="#1a7bef"/>
<circle cx="497.9" cy="247.1" r="1.35" fill="#1a7bef"/>
<circle cx="473.2" cy="247.4" r="1.35" fill="#1a7bef"/>
<circle cx="470.7" cy="249.7" r="1.35" fill="#1a7bef"/>
<circle cx="497.5" cy="247.0" r="1.35" fill="#1a7bef"/>
<circle cx="466.1" cy="246.8" r="1.35" fill="#1a7bef"/>
<circle cx="457.2" cy="249.1" r="1.35" fill="#1a7bef"/>
<circle cx="456.6" cy="249.6" r="1.35" fill="#1a7bef"/>
<circle cx="463.8" cy="247.5" r="1.35" fill="#1a7bef"/>
<circle cx="470.2" cy="249.5" r="1.35" fill="#1a7bef"/>
<circle cx="464.8" cy="249.1" r="1.35" fill="#1a7bef"/>
<circle cx="497.4" cy="247.9" r="1.35" fill="#1a7bef"/>
<circle cx="460.9" cy="247.6" r="1.35" fill="#1a7bef"/>
<circle cx="481.7" cy="248.5" r="1.35" fill="#1a7bef"/>
<circle cx="481.3" cy="247.7" r="1.35" fill="#1a7bef"/>
<circle cx="494.4" cy="248.3" r="1.35" fill="#1a7bef"/>
<circle cx="486.5" cy="248.4" r="1.35" fill="#1a7bef"/>
<circle cx="486.4" cy="248.8" r="1.35" fill="#1a7bef"/>
<circle cx="475.9" cy="248.3" r="1.35" fill="#1a7bef"/>
<circle cx="490.3" cy="249.2" r="1.35" fill="#1a7bef"/>
<circle cx="500.4" cy="248.4" r="1.35" fill="#1a7bef"/>
<circle cx="497.1" cy="247.6" r="1.35" fill="#1a7bef"/>
<circle cx="501.9" cy="247.6" r="1.35" fill="#1a7bef"/>
<circle cx="476.5" cy="248.7" r="1.35" fill="#1a7bef"/>
<circle cx="485.2" cy="247.3" r="1.35" fill="#1a7bef"/>
<circle cx="496.3" cy="249.8" r="1.35" fill="#1a7bef"/>
<circle cx="459.0" cy="249.9" r="1.35" fill="#1a7bef"/>
<circle cx="460.0" cy="250.1" r="1.35" fill="#1a7bef"/>
<circle cx="456.4" cy="249.3" r="1.35" fill="#1a7bef"/>
<circle cx="509.6" cy="244.2" r="1.35" fill="#1a7bef"/>
<circle cx="518.9" cy="241.9" r="1.35" fill="#1a7bef"/>
<circle cx="525.3" cy="243.7" r="1.35" fill="#1a7bef"/>
<circle cx="525.1" cy="249.4" r="1.35" fill="#1a7bef"/>
<circle cx="511.7" cy="242.2" r="1.35" fill="#1a7bef"/>
<circle cx="516.3" cy="248.0" r="1.35" fill="#1a7bef"/>
<circle cx="521.5" cy="246.2" r="1.35" fill="#1a7bef"/>
<circle cx="517.5" cy="247.1" r="1.35" fill="#1a7bef"/>
<circle cx="512.0" cy="248.9" r="1.35" fill="#1a7bef"/>
<circle cx="518.7" cy="242.0" r="1.35" fill="#1a7bef"/>
<circle cx="525.8" cy="243.5" r="1.35" fill="#1a7bef"/>
<circle cx="524.8" cy="246.7" r="1.35" fill="#1a7bef"/>
<circle cx="513.0" cy="242.3" r="1.35" fill="#1a7bef"/>
<circle cx="518.6" cy="244.3" r="1.35" fill="#1a7bef"/>
<circle cx="507.7" cy="247.8" r="1.35" fill="#1a7bef"/>
<circle cx="516.4" cy="243.8" r="1.35" fill="#1a7bef"/>
<circle cx="522.8" cy="243.6" r="1.35" fill="#1a7bef"/>
<circle cx="513.8" cy="246.6" r="1.35" fill="#1a7bef"/>
<circle cx="523.5" cy="241.7" r="1.35" fill="#1a7bef"/>
<circle cx="516.5" cy="248.1" r="1.35" fill="#1a7bef"/>
<circle cx="519.1" cy="245.4" r="1.35" fill="#1a7bef"/>
<circle cx="514.2" cy="247.8" r="1.35" fill="#1a7bef"/>
<circle cx="514.6" cy="244.7" r="1.35" fill="#1a7bef"/>
<circle cx="509.8" cy="245.3" r="1.35" fill="#1a7bef"/>
<circle cx="531.7" cy="221.2" r="1.35" fill="#1a7bef"/>
<circle cx="526.8" cy="222.5" r="1.35" fill="#1a7bef"/>
<circle cx="525.7" cy="221.2" r="1.35" fill="#1a7bef"/>
<circle cx="529.4" cy="223.5" r="1.35" fill="#1a7bef"/>
<circle cx="528.8" cy="221.8" r="1.35" fill="#1a7bef"/>
<circle cx="529.0" cy="222.7" r="1.35" fill="#1a7bef"/>
<circle cx="527.2" cy="222.7" r="1.35" fill="#1a7bef"/>
<circle cx="532.0" cy="222.8" r="1.35" fill="#1a7bef"/>
<circle cx="539.9" cy="210.8" r="1.35" fill="#1a7bef"/>
<circle cx="537.3" cy="211.9" r="1.35" fill="#1a7bef"/>
<circle cx="537.6" cy="213.4" r="1.35" fill="#1a7bef"/>
<circle cx="538.8" cy="212.8" r="1.35" fill="#1a7bef"/>
<circle cx="543.2" cy="213.8" r="1.35" fill="#1a7bef"/>
<circle cx="538.6" cy="207.1" r="1.35" fill="#1a7bef"/>
<circle cx="539.1" cy="209.7" r="1.35" fill="#1a7bef"/>
<circle cx="541.0" cy="218.0" r="1.35" fill="#1a7bef"/>
<circle cx="541.2" cy="217.5" r="1.35" fill="#1a7bef"/>
<circle cx="537.9" cy="204.2" r="1.35" fill="#1a7bef"/>
<circle cx="543.6" cy="206.8" r="1.35" fill="#1a7bef"/>
<circle cx="537.3" cy="211.2" r="1.35" fill="#1a7bef"/>
<circle cx="538.2" cy="203.6" r="1.35" fill="#1a7bef"/>
<circle cx="537.8" cy="215.7" r="1.35" fill="#1a7bef"/>
<circle cx="540.9" cy="207.4" r="1.35" fill="#1a7bef"/>
<circle cx="540.5" cy="210.4" r="1.35" fill="#1a7bef"/>
<circle cx="532.3" cy="215.7" r="1.35" fill="#1a7bef"/>
<circle cx="534.2" cy="215.7" r="1.35" fill="#1a7bef"/>
<circle cx="535.8" cy="215.8" r="1.35" fill="#1a7bef"/>
<circle cx="537.9" cy="215.4" r="1.35" fill="#1a7bef"/>
<circle cx="527.4" cy="221.7" r="1.35" fill="#1a7bef"/>
<circle cx="530.4" cy="221.8" r="1.35" fill="#1a7bef"/>
<circle cx="530.0" cy="221.2" r="1.35" fill="#1a7bef"/>
<circle cx="530.3" cy="222.5" r="1.35" fill="#1a7bef"/>
<circle cx="527.8" cy="224.0" r="1.35" fill="#1a7bef"/>
<circle cx="531.3" cy="220.4" r="1.35" fill="#1a7bef"/>
<circle cx="540.3" cy="222.1" r="1.35" fill="#1a7bef"/>
<circle cx="545.9" cy="237.6" r="1.35" fill="#1a7bef"/>
<circle cx="545.2" cy="232.5" r="1.35" fill="#1a7bef"/>
<circle cx="539.5" cy="235.6" r="1.35" fill="#1a7bef"/>
<circle cx="540.6" cy="239.5" r="1.35" fill="#1a7bef"/>
<circle cx="536.6" cy="238.3" r="1.35" fill="#1a7bef"/>
<circle cx="539.4" cy="237.5" r="1.35" fill="#1a7bef"/>
<circle cx="537.3" cy="224.7" r="1.35" fill="#1a7bef"/>
<circle cx="540.2" cy="231.2" r="1.35" fill="#1a7bef"/>
<circle cx="542.6" cy="222.8" r="1.35" fill="#1a7bef"/>
<circle cx="537.6" cy="236.2" r="1.35" fill="#1a7bef"/>
<circle cx="545.5" cy="223.2" r="1.35" fill="#1a7bef"/>
<circle cx="546.2" cy="230.5" r="1.35" fill="#1a7bef"/>
<circle cx="540.0" cy="236.9" r="1.35" fill="#1a7bef"/>
<circle cx="546.0" cy="226.0" r="1.35" fill="#1a7bef"/>
<circle cx="542.1" cy="225.5" r="1.35" fill="#1a7bef"/>
<circle cx="538.9" cy="230.4" r="1.35" fill="#1a7bef"/>
<circle cx="546.0" cy="238.4" r="1.35" fill="#1a7bef"/>
<circle cx="542.8" cy="237.0" r="1.35" fill="#1a7bef"/>
<circle cx="545.2" cy="224.6" r="1.35" fill="#1a7bef"/>
<circle cx="543.1" cy="232.2" r="1.35" fill="#1a7bef"/>
<circle cx="536.2" cy="231.1" r="1.35" fill="#1a7bef"/>
<circle cx="540.0" cy="232.9" r="1.35" fill="#1a7bef"/>
<circle cx="536.9" cy="223.0" r="1.35" fill="#1a7bef"/>
<circle cx="541.7" cy="229.8" r="1.35" fill="#1a7bef"/>
<circle cx="545.3" cy="223.5" r="1.35" fill="#1a7bef"/>
<circle cx="541.6" cy="244.8" r="1.35" fill="#1a7bef"/>
<circle cx="543.0" cy="246.0" r="1.35" fill="#1a7bef"/>
<circle cx="543.2" cy="248.4" r="1.35" fill="#1a7bef"/>
<circle cx="542.7" cy="244.9" r="1.35" fill="#1a7bef"/>
<circle cx="541.9" cy="241.7" r="1.35" fill="#1a7bef"/>
<circle cx="540.0" cy="245.8" r="1.35" fill="#1a7bef"/>
<circle cx="556.7" cy="248.1" r="1.35" fill="#1a7bef"/>
<circle cx="552.2" cy="248.0" r="1.35" fill="#1a7bef"/>
<circle cx="554.7" cy="247.8" r="1.35" fill="#1a7bef"/>
<circle cx="554.3" cy="249.2" r="1.35" fill="#1a7bef"/>
<circle cx="548.4" cy="250.0" r="1.35" fill="#1a7bef"/>
<circle cx="545.7" cy="250.2" r="1.35" fill="#1a7bef"/>
<circle cx="559.6" cy="249.9" r="1.35" fill="#1a7bef"/>
<circle cx="553.5" cy="249.9" r="1.35" fill="#1a7bef"/>
<circle cx="559.4" cy="248.7" r="1.35" fill="#1a7bef"/>
<circle cx="546.6" cy="247.9" r="1.35" fill="#1a7bef"/>
<circle cx="557.7" cy="247.5" r="1.35" fill="#1a7bef"/>
<circle cx="547.3" cy="249.1" r="1.35" fill="#1a7bef"/>
<circle cx="554.5" cy="249.5" r="1.35" fill="#1a7bef"/>
<circle cx="553.0" cy="248.3" r="1.35" fill="#1a7bef"/>
<circle cx="556.0" cy="247.9" r="1.35" fill="#1a7bef"/>
<circle cx="555.9" cy="249.5" r="1.35" fill="#1a7bef"/>
<circle cx="556.0" cy="249.0" r="1.35" fill="#1a7bef"/>
<circle cx="546.5" cy="250.2" r="1.35" fill="#1a7bef"/>
<circle cx="572.2" cy="247.1" r="1.35" fill="#1a7bef"/>
<circle cx="564.8" cy="246.2" r="1.35" fill="#1a7bef"/>
<circle cx="569.3" cy="247.4" r="1.35" fill="#1a7bef"/>
<circle cx="571.4" cy="245.9" r="1.35" fill="#1a7bef"/>
<circle cx="570.9" cy="242.8" r="1.35" fill="#1a7bef"/>
<circle cx="576.2" cy="247.6" r="1.35" fill="#1a7bef"/>
<circle cx="575.7" cy="247.4" r="1.35" fill="#1a7bef"/>
<circle cx="576.6" cy="249.2" r="1.35" fill="#1a7bef"/>
<circle cx="568.0" cy="243.2" r="1.35" fill="#1a7bef"/>
<circle cx="572.8" cy="244.7" r="1.35" fill="#1a7bef"/>
<circle cx="566.4" cy="248.8" r="1.35" fill="#1a7bef"/>
<circle cx="576.9" cy="249.2" r="1.35" fill="#1a7bef"/>
<circle cx="566.0" cy="246.6" r="1.35" fill="#1a7bef"/>
<circle cx="575.0" cy="244.9" r="1.35" fill="#1a7bef"/>
<circle cx="590.4" cy="234.1" r="1.35" fill="#1a7bef"/>
<circle cx="584.5" cy="232.2" r="1.35" fill="#1a7bef"/>
<circle cx="583.3" cy="244.3" r="1.35" fill="#1a7bef"/>
<circle cx="590.0" cy="232.6" r="1.35" fill="#1a7bef"/>
<circle cx="586.9" cy="238.3" r="1.35" fill="#1a7bef"/>
<circle cx="582.1" cy="242.0" r="1.35" fill="#1a7bef"/>
<circle cx="580.7" cy="243.7" r="1.35" fill="#1a7bef"/>
<circle cx="585.0" cy="232.4" r="1.35" fill="#1a7bef"/>
<circle cx="589.7" cy="237.8" r="1.35" fill="#1a7bef"/>
<circle cx="587.0" cy="238.4" r="1.35" fill="#1a7bef"/>
<circle cx="588.1" cy="235.1" r="1.35" fill="#1a7bef"/>
<circle cx="590.2" cy="233.1" r="1.35" fill="#1a7bef"/>
<circle cx="587.1" cy="236.7" r="1.35" fill="#1a7bef"/>
<circle cx="581.8" cy="238.4" r="1.35" fill="#1a7bef"/>
<circle cx="590.5" cy="250.0" r="1.35" fill="#1a7bef"/>
<circle cx="584.0" cy="248.5" r="1.35" fill="#1a7bef"/>
<circle cx="583.3" cy="247.3" r="1.35" fill="#1a7bef"/>
<circle cx="587.3" cy="245.1" r="1.35" fill="#1a7bef"/>
<circle cx="596.7" cy="247.9" r="1.35" fill="#1a7bef"/>
<circle cx="590.1" cy="248.6" r="1.35" fill="#1a7bef"/>
<circle cx="584.0" cy="245.3" r="1.35" fill="#1a7bef"/>
<circle cx="602.7" cy="247.1" r="1.35" fill="#1a7bef"/>
<circle cx="595.8" cy="250.1" r="1.35" fill="#1a7bef"/>
<circle cx="592.9" cy="250.0" r="1.35" fill="#1a7bef"/>
<circle cx="587.2" cy="247.5" r="1.35" fill="#1a7bef"/>
<circle cx="583.2" cy="249.6" r="1.35" fill="#1a7bef"/>
<circle cx="597.9" cy="248.1" r="1.35" fill="#1a7bef"/>
<circle cx="602.1" cy="250.0" r="1.35" fill="#1a7bef"/>
<circle cx="581.0" cy="245.4" r="1.35" fill="#1a7bef"/>
<circle cx="594.7" cy="246.9" r="1.35" fill="#1a7bef"/>
<circle cx="593.3" cy="250.1" r="1.35" fill="#1a7bef"/>
<circle cx="604.4" cy="248.0" r="1.35" fill="#1a7bef"/>
<circle cx="602.6" cy="250.1" r="1.35" fill="#1a7bef"/>
<circle cx="585.9" cy="247.7" r="1.35" fill="#1a7bef"/>
<circle cx="599.8" cy="248.0" r="1.35" fill="#1a7bef"/>
<circle cx="602.9" cy="248.7" r="1.35" fill="#1a7bef"/>
<circle cx="605.9" cy="248.6" r="1.35" fill="#1a7bef"/>
<circle cx="609.5" cy="248.2" r="1.35" fill="#1a7bef"/>
<circle cx="612.4" cy="248.7" r="1.35" fill="#1a7bef"/>
<circle cx="615.1" cy="248.4" r="1.35" fill="#1a7bef"/>
<circle cx="618.2" cy="249.0" r="1.35" fill="#1a7bef"/>
<circle cx="621.4" cy="248.5" r="1.35" fill="#1a7bef"/>
<circle cx="624.3" cy="249.2" r="1.35" fill="#1a7bef"/>
<circle cx="627.8" cy="249.3" r="1.35" fill="#1a7bef"/>
<circle cx="630.8" cy="249.3" r="1.35" fill="#1a7bef"/>
<circle cx="633.6" cy="249.3" r="1.35" fill="#1a7bef"/>
<circle cx="636.8" cy="248.8" r="1.35" fill="#1a7bef"/>
<circle cx="640.1" cy="249.2" r="1.35" fill="#1a7bef"/>
<circle cx="642.7" cy="249.5" r="1.35" fill="#1a7bef"/>
<circle cx="645.9" cy="249.1" r="1.35" fill="#1a7bef"/>
<circle cx="537.8" cy="183.2" r="1.35" fill="#1a7bef"/>
<circle cx="527.3" cy="194.9" r="1.35" fill="#1a7bef"/>
<circle cx="528.3" cy="195.4" r="1.35" fill="#1a7bef"/>
<circle cx="533.2" cy="195.8" r="1.35" fill="#1a7bef"/>
<circle cx="529.7" cy="216.6" r="1.35" fill="#1a7bef"/>
<circle cx="532.7" cy="215.3" r="1.35" fill="#1a7bef"/>
<circle cx="507.0" cy="225.8" r="1.35" fill="#1a7bef"/>
<circle cx="509.3" cy="230.8" r="1.35" fill="#1a7bef"/>
<circle cx="524.5" cy="231.6" r="1.35" fill="#1a7bef"/>
<circle cx="529.7" cy="235.6" r="1.35" fill="#1a7bef"/>
<circle cx="531.5" cy="242.4" r="1.35" fill="#1a7bef"/>
<circle cx="502.3" cy="240.3" r="1.35" fill="#1a7bef"/>
<circle cx="514.0" cy="238.5" r="1.35" fill="#1a7bef"/>
<circle cx="525.0" cy="239.2" r="1.35" fill="#1a7bef"/>
<circle cx="412.7" cy="221.9" r="1.35" fill="#1a7bef"/>
<circle cx="412.7" cy="227.1" r="1.35" fill="#1a7bef"/>
<circle cx="419.1" cy="226.8" r="1.35" fill="#1a7bef"/>
<circle cx="419.1" cy="235.2" r="1.35" fill="#1a7bef"/>
<circle cx="423.2" cy="234.6" r="1.35" fill="#1a7bef"/>
<circle cx="423.8" cy="235.9" r="1.35" fill="#1a7bef"/>
<circle cx="434.3" cy="229.8" r="1.35" fill="#1a7bef"/>
<circle cx="433.7" cy="237.2" r="1.35" fill="#1a7bef"/>
<circle cx="413.3" cy="238.5" r="1.35" fill="#1a7bef"/>
<circle cx="398.7" cy="236.6" r="1.35" fill="#1a7bef"/>
<circle cx="399.3" cy="238.5" r="1.35" fill="#1a7bef"/>
<circle cx="443.6" cy="247.0" r="1.35" fill="#1a7bef"/>
<circle cx="453.6" cy="244.7" r="1.35" fill="#1a7bef"/>
<circle cx="529.7" cy="235.9" r="1.35" fill="#1a7bef"/>
<circle cx="530.8" cy="242.2" r="1.35" fill="#1a7bef"/>
<circle cx="558.3" cy="241.1" r="1.35" fill="#1a7bef"/>
<circle cx="565.3" cy="241.1" r="1.35" fill="#1a7bef"/>
<circle cx="582.2" cy="232.2" r="1.35" fill="#1a7bef"/>
<path d="M537.4,194.3 l3.3,3.3 -3.3,3.3 -3.3,-3.3Z" fill="#ff0000"/>
<text x="390.4" y="181.5" font-size="11.2" fill="#111">PP4 = 0.398</text>
<rect x="522.10" y="266.9" width="1.2" height="15.7" fill="#aaa"/>
<rect x="530.50" y="266.9" width="1.2" height="15.7" fill="#aaa"/>
<rect x="535.00" y="266.9" width="1.2" height="15.7" fill="#aaa"/>
<rect x="536.85" y="266.9" width="1.5" height="15.7" fill="#e02020"/>
<rect x="538.90" y="266.9" width="1.2" height="15.7" fill="#aaa"/>
<rect x="552.80" y="266.9" width="1.2" height="15.7" fill="#aaa"/>
<rect x="558.80" y="266.9" width="1.2" height="15.7" fill="#aaa"/>
<rect x="585.70" y="266.9" width="2.0" height="15.7" fill="#aaa"/>
<rect x="602.50" y="266.9" width="1.2" height="15.7" fill="#aaa"/>
<path d="M532.1,374.7 C532.1,262.4 536.4,262.4 536.4,374.7" fill="none" stroke="#1b1b94" stroke-width="0.7"/>
<path d="M536.4,374.7 C536.4,271.2 538.5,271.2 538.5,374.7" fill="none" stroke="#1b1b94" stroke-width="0.7"/>
<path d="M537.4,374.7 C537.4,304.2 540.3,304.2 540.3,374.7" fill="none" stroke="#1b1b94" stroke-width="0.7"/>
<path d="M505.8,374.7 C505.8,298.9 533.9,298.9 533.9,374.7" fill="none" stroke="#1b1b94" stroke-width="0.7"/>
<path d="M538.0,374.7 C538.0,336.5 602.6,336.5 602.6,374.7" fill="none" stroke="#1b1b94" stroke-width="0.7"/>
<path d="M539.7,374.7 C539.7,341.8 591.4,341.8 591.4,374.7" fill="none" stroke="#1b1b94" stroke-width="0.7"/>
<path d="M542.0,374.7 C542.0,351.2 586.3,351.2 586.3,374.7" fill="none" stroke="#1b1b94" stroke-width="0.7"/>
<path d="M544.0,374.7 C544.0,345.4 566.0,345.4 566.0,374.7" fill="none" stroke="#1b1b94" stroke-width="0.7"/>
<path d="M541.0,374.7 C541.0,353.4 560.1,353.4 560.1,374.7" fill="none" stroke="#1b1b94" stroke-width="0.7"/>
<path d="M489.2,374.7 C489.2,345.4 535.2,345.4 535.2,374.7" fill="none" stroke="#1b1b94" stroke-width="0.7"/>
<path d="M494.3,374.7 C494.3,351.2 531.1,351.2 531.1,374.7" fill="none" stroke="#1b1b94" stroke-width="0.7"/>
<path d="M496.0,374.7 C496.0,356.5 537.0,356.5 537.0,374.7" fill="none" stroke="#1b1b94" stroke-width="0.7"/>
<path d="M503.5,374.7 C503.5,361.4 533.0,361.4 533.0,374.7" fill="none" stroke="#1b1b94" stroke-width="0.7"/>
<path d="M519.9,374.7 C519.9,353.4 541.0,353.4 541.0,374.7" fill="none" stroke="#1b1b94" stroke-width="0.7"/>
<path d="M521.9,374.7 C521.9,348.1 545.0,348.1 545.0,374.7" fill="none" stroke="#1b1b94" stroke-width="0.7"/>
<path d="M523.4,374.7 C523.4,357.4 548.0,357.4 548.0,374.7" fill="none" stroke="#1b1b94" stroke-width="0.7"/>
<path d="M525.1,374.7 C525.1,342.8 553.1,342.8 553.1,374.7" fill="none" stroke="#1b1b94" stroke-width="0.7"/>
<path d="M531.0,374.7 C531.0,337.5 546.7,337.5 546.7,374.7" fill="none" stroke="#1b1b94" stroke-width="0.7"/>
<path d="M535.0,374.7 C535.0,334.8 543.0,334.8 543.0,374.7" fill="none" stroke="#1b1b94" stroke-width="0.7"/>
<path d="M536.0,374.7 C536.0,342.8 544.4,342.8 544.4,374.7" fill="none" stroke="#1b1b94" stroke-width="0.7"/>
<path d="M533.0,374.7 C533.0,348.1 540.0,348.1 540.0,374.7" fill="none" stroke="#1b1b94" stroke-width="0.7"/>
<path d="M538.0,374.7 C538.0,358.7 550.0,358.7 550.0,374.7" fill="none" stroke="#1b1b94" stroke-width="0.7"/>
<path d="M542.0,374.7 C542.0,362.7 601.6,362.7 601.6,374.7" fill="none" stroke="#1b1b94" stroke-width="0.7"/>
<path d="M536.8,374.7 C536.8,326.8 540.8,326.8 540.8,374.7" fill="none" stroke="#1b1b94" stroke-width="0.7"/>
<path d="M535.5,374.7 C535.5,318.8 538.5,318.8 538.5,374.7" fill="none" stroke="#1b1b94" stroke-width="0.7"/>
<rect x="488.45" y="373.6" width="1.5" height="8.6" fill="#1b1b94"/>
<rect x="493.55" y="373.6" width="1.5" height="8.6" fill="#1b1b94"/>
<rect x="495.25" y="373.6" width="1.5" height="8.6" fill="#1b1b94"/>
<rect x="502.75" y="373.6" width="1.5" height="8.6" fill="#6a78d0"/>
<rect x="519.15" y="373.6" width="1.5" height="8.6" fill="#6a78d0"/>
<rect x="520.65" y="373.6" width="1.5" height="8.6" fill="#1b1b94"/>
<rect x="522.65" y="373.6" width="1.5" height="8.6" fill="#1b1b94"/>
<rect x="524.35" y="373.6" width="1.5" height="8.6" fill="#1b1b94"/>
<rect x="530.25" y="373.6" width="1.5" height="8.6" fill="#6a78d0"/>
<rect x="534.25" y="373.6" width="1.5" height="8.6" fill="#1b1b94"/>
<rect x="535.45" y="373.6" width="1.5" height="8.6" fill="#1b1b94"/>
<rect x="536.65" y="373.6" width="1.5" height="8.6" fill="#1b1b94"/>
<rect x="537.85" y="373.6" width="1.5" height="8.6" fill="#1b1b94"/>
<rect x="539.05" y="373.6" width="1.5" height="8.6" fill="#1b1b94"/>
<rect x="540.25" y="373.6" width="1.5" height="8.6" fill="#1b1b94"/>
<rect x="541.45" y="373.6" width="1.5" height="8.6" fill="#1b1b94"/>
<rect x="542.65" y="373.6" width="1.5" height="8.6" fill="#1b1b94"/>
<rect x="543.65" y="373.6" width="1.5" height="8.6" fill="#1b1b94"/>
<rect x="545.95" y="373.6" width="1.5" height="8.6" fill="#1b1b94"/>
<rect x="552.35" y="373.6" width="1.5" height="8.6" fill="#1b1b94"/>
<rect x="559.35" y="373.6" width="1.5" height="8.6" fill="#1b1b94"/>
<rect x="565.25" y="373.6" width="1.5" height="8.6" fill="#1b1b94"/>
<rect x="584.55" y="373.6" width="1.5" height="8.6" fill="#1b1b94"/>
<rect x="590.65" y="373.6" width="1.5" height="8.6" fill="#1b1b94"/>
<rect x="593.65" y="373.6" width="1.5" height="8.6" fill="#1b1b94"/>
<rect x="600.85" y="373.6" width="1.5" height="8.6" fill="#6a78d0"/>
<line x1="392.5" y1="388.8" x2="404" y2="388.8" stroke="#b8b0a0" stroke-width="0.7"/>
<rect x="392.0" y="385.2" width="1.0" height="7.2" fill="#bbb"/>
<rect x="403" y="385.2" width="3.0" height="7.2" fill="#f5c26b" stroke="#b59a6a" stroke-width="0.6"/>
<text x="462.8" y="392.3" font-size="8.9" text-anchor="end" fill="#8c8c8c">CCT6B</text>
<rect x="468.3" y="385.2" width="7.7" height="7.2" fill="#f5c26b" stroke="#b59a6a" stroke-width="0.6"/>
<rect x="470.1" y="385.2" width="0.8" height="7.2" fill="#c09040"/>
<rect x="472.6" y="385.2" width="0.8" height="7.2" fill="#c09040"/>
<rect x="486.2" y="385.2" width="1.3" height="7.2" fill="#c8b08a"/>
<line x1="487" y1="388.8" x2="507" y2="388.8" stroke="#b8b0a0" stroke-width="0.7"/>
<path d="M489.5,387 l-2,1.8 2,1.8" fill="none" stroke="#b8b0a0" stroke-width="0.6"/>
<rect x="504.8" y="385.2" width="1.5" height="7.2" fill="#d8a040"/>
<rect x="509.0" y="385.2" width="1" height="7.2" fill="#c8b08a"/>
<text x="568.8" y="392.3" font-size="8.9" text-anchor="end" fill="#8c8c8c">SLFN12</text>
<rect x="573.8" y="385.2" width="1.5" height="7.2" fill="#c8b08a"/>
<rect x="576.5" y="385.2" width="1.0" height="7.2" fill="#c8b08a"/>
<rect x="578.1" y="385.2" width="0.8" height="7.2" fill="#c8b08a"/>
<text x="638.3" y="392.3" font-size="8.9" text-anchor="end" fill="#8c8c8c">RASL10B</text>
<rect x="644" y="385.2" width="3.8" height="7.2" fill="#d9c9a8" stroke="#b59a6a" stroke-width="0.6"/>
<text x="469.9" y="403.5" font-size="8.9" text-anchor="end" fill="#8c8c8c">ZNF830</text>
<rect x="474.9" y="396.4" width="1.4" height="7.2" fill="#c8b08a"/>
<text x="532.9" y="403.5" font-size="8.9" text-anchor="end" fill="#8c8c8c">SLFN5</text>
<line x1="536.8" y1="400" x2="540" y2="400" stroke="#b8b0a0" stroke-width="0.7"/>
<rect x="536.5" y="396.4" width="1.0" height="7.2" fill="#c8b08a"/>
<rect x="540.5" y="396.4" width="4.3" height="7.2" fill="#f5c26b" stroke="#b59a6a" stroke-width="0.6"/>
<text x="598.6" y="403.5" font-size="8.9" text-anchor="end" fill="#8c8c8c">SLFN14</text>
<rect x="603" y="396.4" width="4.6" height="7.2" fill="#f5c26b" stroke="#b59a6a" stroke-width="0.6"/>
<text x="656" y="403.5" font-size="8.9" text-anchor="end" fill="#8c8c8c">TAF15</text>
<rect x="661.4" y="396.4" width="7.4" height="7.2" fill="#f0a830" stroke="#b59a6a" stroke-width="0.6"/>
<rect x="663.1" y="396.4" width="0.8" height="7.2" fill="#b08030"/>
<rect x="665.6" y="396.4" width="0.8" height="7.2" fill="#b08030"/>
<text x="475" y="414.8" font-size="8.9" text-anchor="end" fill="#8c8c8c">LIG3</text>
<rect x="479.7" y="407.7" width="7.0" height="7.2" fill="#f5c26b" stroke="#b59a6a" stroke-width="0.6"/>
<text x="554.7" y="414.8" font-size="8.9" text-anchor="end" fill="#8c8c8c">SLFN11</text>
<rect x="560.9" y="407.7" width="5.5" height="7.2" fill="#f5c26b" stroke="#b59a6a" stroke-width="0.6"/>
<rect x="562.1" y="407.7" width="0.8" height="7.2" fill="#b59a6a"/>
<text x="644.5" y="414.8" font-size="8.9" text-anchor="end" fill="#8c8c8c">C17orf50</text>
<rect x="650.2" y="407.7" width="2.0" height="7.2" fill="#e8d0a0" stroke="#b59a6a" stroke-width="0.6"/>
<text x="480.1" y="426.0" font-size="8.9" text-anchor="end" fill="#8c8c8c">RFFL</text>
<rect x="485.9" y="418.9" width="4.5" height="7.2" fill="#f5c26b" stroke="#b59a6a" stroke-width="0.6"/>
<rect x="487.0" y="418.9" width="1" height="7.2" fill="#a08060"/>
<line x1="490.4" y1="422.5" x2="498.5" y2="422.5" stroke="#b8b0a0" stroke-width="0.7"/>
<rect x="498.1" y="420.5" width="0.8" height="4" fill="#b8b0a0"/>
<text x="580" y="426.0" font-size="8.9" text-anchor="end" fill="#8c8c8c">SLFN12L</text>
<rect x="586.2" y="418.9" width="3.2" height="7.2" fill="#f5c26b" stroke="#b59a6a" stroke-width="0.6"/>
<line x1="589.4" y1="422.5" x2="602.6" y2="422.5" stroke="#b8b0a0" stroke-width="0.7"/>
<rect x="595.5" y="418.9" width="0.9" height="7.2" fill="#b8b0a0"/>
<rect x="602.2" y="420.5" width="0.8" height="4" fill="#b8b0a0"/>
<text x="499.2" y="437.3" font-size="8.9" text-anchor="end" fill="#8c8c8c">RAD51D</text>
<rect x="504.7" y="430.2" width="3.3" height="7.2" fill="#f5c26b" stroke="#b59a6a" stroke-width="0.6"/>
<rect x="509.8" y="430.2" width="1" height="7.2" fill="#b59a6a"/>
<text x="574" y="437.3" font-size="8.9" text-anchor="end" fill="#8c8c8c">SLFN13</text>
<rect x="580" y="430.2" width="2.7" height="7.2" fill="#f5c26b" stroke="#b59a6a" stroke-width="0.6"/>
<text x="641" y="437.3" font-size="8.9" text-anchor="end" fill="#8c8c8c">GAS2L2</text>
<rect x="646.5" y="430.2" width="3.2" height="7.2" fill="#f5c26b" stroke="#b59a6a" stroke-width="0.6"/>
<text x="510.8" y="448.5" font-size="8.9" text-anchor="end" fill="#8c8c8c">UNC45B</text>
<rect x="516.5" y="441.4" width="9.7" height="7.2" fill="#f5c26b" stroke="#b59a6a" stroke-width="0.6"/>
<rect x="517.6" y="441.4" width="0.8" height="7.2" fill="#b59a6a"/>
<rect x="523.1" y="441.4" width="0.8" height="7.2" fill="#b59a6a"/>
<text x="603.8" y="448.5" font-size="8.9" text-anchor="end" fill="#8c8c8c">PEX12</text>
<rect x="610" y="441.4" width="1.8" height="7.2" fill="#e8d0a0" stroke="#b59a6a" stroke-width="0.6"/>
<text x="505.7" y="459.7" font-size="8.9" text-anchor="end" fill="#8c8c8c">FNDC8</text>
<rect x="510.8" y="452.6" width="3.1" height="7.2" fill="#d9c0a0" stroke="#b59a6a" stroke-width="0.6"/>
<text x="606.8" y="459.7" font-size="8.9" text-anchor="end" fill="#8c8c8c">AP2B1</text>
<rect x="613" y="452.6" width="2.5" height="7.2" fill="#e9a53a" stroke="#b59a6a" stroke-width="0.6"/>
<rect x="617" y="452.6" width="2.0" height="7.2" fill="#e9a53a" stroke="#b59a6a" stroke-width="0.6"/>
<rect x="620.5" y="452.6" width="1.5" height="7.2" fill="#e9a53a" stroke="#b59a6a" stroke-width="0.6"/>
<rect x="623.5" y="452.6" width="1.5" height="7.2" fill="#e9a53a" stroke="#b59a6a" stroke-width="0.6"/>
<rect x="626.5" y="452.6" width="1.5" height="7.2" fill="#e9a53a" stroke="#b59a6a" stroke-width="0.6"/>
<rect x="629.5" y="452.6" width="1.5" height="7.2" fill="#e9a53a" stroke="#b59a6a" stroke-width="0.6"/>
<rect x="636" y="452.6" width="1.5" height="7.2" fill="#d8c0a0" stroke="#b59a6a" stroke-width="0.6"/>
<rect x="639" y="452.6" width="1.5" height="7.2" fill="#d8c0a0" stroke="#b59a6a" stroke-width="0.6"/>
<rect x="642.3" y="452.6" width="1.7" height="7.2" fill="#d8c0a0" stroke="#b59a6a" stroke-width="0.6"/>
<line x1="613" y1="456.2" x2="644" y2="456.2" stroke="#b8b0a0" stroke-width="0.7"/>
<text x="521.2" y="471.0" font-size="8.9" text-anchor="end" fill="#8c8c8c">SLC35G3</text>
<rect x="526.4" y="463.9" width="1.3" height="7.2" fill="#c8b08a"/>
<text x="647" y="471.0" font-size="8.9" text-anchor="end" fill="#8c8c8c">MMP28</text>
<rect x="651" y="463.9" width="3.5" height="7.2" fill="#f5c26b" stroke="#b59a6a" stroke-width="0.6"/>
<line x1="654.5" y1="467.5" x2="658.4" y2="467.5" stroke="#b8b0a0" stroke-width="0.7"/>
<rect x="657.5" y="463.9" width="0.9" height="7.2" fill="#b59a6a"/>
<text x="506.3" y="482.2" font-size="8.9" text-anchor="end" fill="#8c8c8c">NLE1</text>
<rect x="512.4" y="475.1" width="3.5" height="7.2" fill="#f5c26b" stroke="#b59a6a" stroke-width="0.6"/>
<text x="385.1" y="415" font-size="9.4" fill="#a0a0a0">TMEM132E</text>
<path d="M409.8,404.6 L401.6,396.2" stroke="#111" stroke-width="1.1"/><path d="M400,394.5 l5.3,1.2 -4.1,4.1Z" fill="#111"/>
<text x="0.3" y="258.6" font-size="19" fill="#000">c</text>
<line x1="70.7" y1="248.7" x2="70.7" y2="360.3" stroke="#333" stroke-width="0.8"/>
<text x="66.5" y="282.1" font-size="6.15" text-anchor="end" fill="#111">Convalescent</text>
<line x1="68.5" y1="279.8" x2="70.7" y2="279.8" stroke="#333" stroke-width="0.6"/>
<text x="66.5" y="332.90000000000003" font-size="6.15" text-anchor="end" fill="#111">Hospitalized</text>
<line x1="68.5" y1="330.6" x2="70.7" y2="330.6" stroke="#333" stroke-width="0.6"/>
<circle cx="90.6" cy="279.4" r="3.8" fill="#2b70b5"/>
<circle cx="90.6" cy="330.6" r="7.2" fill="#b21a2e"/>
<path d="M105.5,243 V362 H245" fill="none" stroke="#333" stroke-width="0.8"/>
<line x1="111.2" y1="362" x2="111.2" y2="364" stroke="#333" stroke-width="0.6"/>
<text transform="translate(115.4,368.6) rotate(-55)" font-size="7.6" text-anchor="end" fill="#333">0</text>
<line x1="143.2" y1="362" x2="143.2" y2="364" stroke="#333" stroke-width="0.6"/>
<text transform="translate(147.39999999999998,368.6) rotate(-55)" font-size="7.6" text-anchor="end" fill="#333">1</text>
<line x1="175.2" y1="362" x2="175.2" y2="364" stroke="#333" stroke-width="0.6"/>
<text transform="translate(179.39999999999998,368.6) rotate(-55)" font-size="7.6" text-anchor="end" fill="#333">2</text>
<line x1="207.2" y1="362" x2="207.2" y2="364" stroke="#333" stroke-width="0.6"/>
<text transform="translate(211.39999999999998,368.6) rotate(-55)" font-size="7.6" text-anchor="end" fill="#333">3</text>
<line x1="239.2" y1="362" x2="239.2" y2="364" stroke="#333" stroke-width="0.6"/>
<text transform="translate(243.39999999999998,368.6) rotate(-55)" font-size="7.6" text-anchor="end" fill="#333">4</text>
<text x="170.6" y="381.6" font-size="9.8" text-anchor="middle" fill="#111" textLength="98" lengthAdjust="spacingAndGlyphs">Normalized expression</text>
<path d="M111.20,256.70 L112.66,258.17 L114.12,261.16 L115.57,264.77 L117.03,268.39 L118.49,271.66 L119.95,274.36 L121.40,276.44 L122.86,277.96 L124.32,279.00 L125.78,279.68 L127.23,280.11 L128.69,280.36 L130.15,280.50 L131.61,280.56 L133.06,280.59 L134.52,280.58 L135.98,280.56 L137.44,280.52 L138.89,280.47 L140.35,280.40 L141.81,280.32 L143.27,280.22 L144.72,280.11 L146.18,279.98 L147.64,279.85 L149.09,279.70 L150.55,279.54 L152.01,279.39 L153.47,279.24 L154.93,279.09 L156.38,278.96 L157.84,278.86 L159.30,278.77 L160.75,278.72 L162.21,278.70 L163.67,278.71 L165.13,278.76 L166.59,278.83 L168.04,278.93 L169.50,279.06 L170.96,279.20 L172.42,279.35 L173.87,279.50 L175.33,279.66 L176.79,279.81 L178.25,279.95 L179.70,280.08 L181.16,280.19 L182.62,280.29 L184.07,280.38 L185.53,280.45 L186.99,280.51 L188.45,280.56 L189.91,280.60 L191.36,280.62 L192.82,280.65 L194.28,280.66 L195.74,280.67 L197.19,280.68 L198.65,280.69 L200.11,280.69 L201.56,280.70 L203.02,280.70 L204.48,280.70 L205.94,280.70 L207.40,280.70 L208.85,280.70 L210.31,280.70 L211.77,280.70 L213.23,280.70 L214.68,280.70 L216.14,280.70 L217.60,280.70 L219.06,280.70 L220.51,280.70 L221.97,280.70 L223.43,280.70 L224.89,280.70 L226.34,280.70 L227.80,280.70 L227.80,281.30 L226.34,281.30 L224.89,281.30 L223.43,281.30 L221.97,281.30 L220.51,281.30 L219.06,281.30 L217.60,281.30 L216.14,281.30 L214.68,281.30 L213.23,281.30 L211.77,281.30 L210.31,281.30 L208.85,281.30 L207.40,281.30 L205.94,281.30 L204.48,281.30 L203.02,281.30 L201.56,281.30 L200.11,281.31 L198.65,281.31 L197.19,281.32 L195.74,281.33 L194.28,281.34 L192.82,281.35 L191.36,281.38 L189.91,281.40 L188.45,281.44 L186.99,281.49 L185.53,281.55 L184.07,281.62 L182.62,281.71 L181.16,281.81 L179.70,281.92 L178.25,282.05 L176.79,282.19 L175.33,282.34 L173.87,282.50 L172.42,282.65 L170.96,282.80 L169.50,282.94 L168.04,283.07 L166.59,283.17 L165.13,283.24 L163.67,283.29 L162.21,283.30 L160.75,283.28 L159.30,283.23 L157.84,283.14 L156.38,283.04 L154.93,282.91 L153.47,282.76 L152.01,282.61 L150.55,282.46 L149.09,282.30 L147.64,282.15 L146.18,282.02 L144.72,281.89 L143.27,281.78 L141.81,281.68 L140.35,281.60 L138.89,281.53 L137.44,281.48 L135.98,281.44 L134.52,281.42 L133.06,281.41 L131.61,281.44 L130.15,281.50 L128.69,281.64 L127.23,281.89 L125.78,282.32 L124.32,283.00 L122.86,284.04 L121.40,285.56 L119.95,287.64 L118.49,290.34 L117.03,293.61 L115.57,297.23 L114.12,300.84 L112.66,303.83 L111.20,305.30Z" fill="#2777c0" stroke="#333" stroke-width="0.5"/>
<path d="M111.20,304.70 L112.80,306.45 L114.39,309.93 L115.99,314.02 L117.59,317.98 L119.19,321.37 L120.78,324.03 L122.38,325.95 L123.98,327.26 L125.58,328.09 L127.17,328.59 L128.77,328.87 L130.37,329.02 L131.97,329.09 L133.56,329.12 L135.16,329.12 L136.76,329.10 L138.36,329.08 L139.96,329.04 L141.55,328.99 L143.15,328.93 L144.75,328.85 L146.34,328.76 L147.94,328.66 L149.54,328.54 L151.14,328.40 L152.74,328.25 L154.33,328.09 L155.93,327.91 L157.53,327.73 L159.12,327.54 L160.72,327.36 L162.32,327.18 L163.92,327.02 L165.51,326.88 L167.11,326.76 L168.71,326.68 L170.31,326.62 L171.91,326.60 L173.50,326.62 L175.10,326.67 L176.70,326.75 L178.30,326.86 L179.89,327.00 L181.49,327.16 L183.09,327.34 L184.69,327.52 L186.28,327.70 L187.88,327.89 L189.48,328.06 L191.07,328.23 L192.67,328.38 L194.27,328.52 L195.87,328.65 L197.47,328.75 L199.06,328.84 L200.66,328.92 L202.26,328.98 L203.86,329.03 L205.45,329.08 L207.05,329.11 L208.65,329.13 L210.25,329.15 L211.84,329.16 L213.44,329.18 L215.04,329.18 L216.63,329.19 L218.23,329.19 L219.83,329.19 L221.43,329.20 L223.03,329.20 L224.62,329.20 L226.22,329.20 L227.82,329.20 L229.41,329.20 L231.01,329.20 L232.61,329.20 L234.21,329.20 L235.81,329.20 L237.40,329.20 L239.00,329.20 L239.00,329.80 L237.40,329.80 L235.81,329.80 L234.21,329.80 L232.61,329.80 L231.01,329.80 L229.41,329.80 L227.82,329.80 L226.22,329.80 L224.62,329.80 L223.03,329.80 L221.43,329.80 L219.83,329.81 L218.23,329.81 L216.63,329.81 L215.04,329.82 L213.44,329.82 L211.84,329.84 L210.25,329.85 L208.65,329.87 L207.05,329.89 L205.45,329.92 L203.86,329.97 L202.26,330.02 L200.66,330.08 L199.06,330.16 L197.47,330.25 L195.87,330.35 L194.27,330.48 L192.67,330.62 L191.07,330.77 L189.48,330.94 L187.88,331.11 L186.28,331.30 L184.69,331.48 L183.09,331.66 L181.49,331.84 L179.89,332.00 L178.30,332.14 L176.70,332.25 L175.10,332.33 L173.50,332.38 L171.91,332.40 L170.31,332.38 L168.71,332.32 L167.11,332.24 L165.51,332.12 L163.92,331.98 L162.32,331.82 L160.72,331.64 L159.12,331.46 L157.53,331.27 L155.93,331.09 L154.33,330.91 L152.74,330.75 L151.14,330.60 L149.54,330.46 L147.94,330.34 L146.34,330.24 L144.75,330.15 L143.15,330.07 L141.55,330.01 L139.96,329.96 L138.36,329.92 L136.76,329.90 L135.16,329.88 L133.56,329.88 L131.97,329.91 L130.37,329.98 L128.77,330.13 L127.17,330.41 L125.58,330.91 L123.98,331.74 L122.38,333.05 L120.78,334.97 L119.19,337.63 L117.59,341.02 L115.99,344.98 L114.39,349.07 L112.80,352.55 L111.20,354.30Z" fill="#e82020" stroke="#333" stroke-width="0.5"/>
<line x1="250" y1="279.2" x2="250" y2="330.6" stroke="#111" stroke-width="0.8"/>
<path d="M255.00,293.70L255.00,297.90M256.82,294.75L253.18,296.85M256.82,296.85L253.18,294.75" stroke="#111" stroke-width="0.9"/><path d="M255.00,299.50L255.00,303.70M256.82,300.55L253.18,302.65M256.82,302.65L253.18,300.55" stroke="#111" stroke-width="0.9"/><path d="M255.00,305.30L255.00,309.50M256.82,306.35L253.18,308.45M256.82,308.45L253.18,306.35" stroke="#111" stroke-width="0.9"/><path d="M255.00,311.10L255.00,315.30M256.82,312.15L253.18,314.25M256.82,314.25L253.18,312.15" stroke="#111" stroke-width="0.9"/>
<text x="272.6" y="260.4" font-size="7.5" fill="#111">Average Expression</text>
<defs><linearGradient id="gc1" x1="0" y1="0" x2="0" y2="1"><stop offset="0" stop-color="#b2182b"/><stop offset="0.2" stop-color="#e0644f"/><stop offset="0.38" stop-color="#f7b799"/><stop offset="0.5" stop-color="#f7f4f2"/><stop offset="0.62" stop-color="#c0d9e8"/><stop offset="0.8" stop-color="#6aaad1"/><stop offset="1" stop-color="#2166ac"/></linearGradient></defs><rect x="272.6" y="265" width="8.1" height="40.2" fill="url(#gc1)"/>
<text x="284" y="276.3" font-size="6.6" fill="#222">0.4</text>
<text x="284" y="287.8" font-size="6.6" fill="#222">0.0</text>
<text x="284" y="299.3" font-size="6.6" fill="#222">−0.4</text>
<text x="272.6" y="318.7" font-size="7.5" fill="#111">Percent Expressed</text>
<circle cx="281" cy="329.6" r="5" fill="#000"/>
<text x="293.6" y="331.8" font-size="6.6" fill="#222">32.0</text>
<circle cx="281" cy="343.4" r="6" fill="#000"/>
<text x="293.6" y="345.59999999999997" font-size="6.6" fill="#222">32.5</text>
<circle cx="281" cy="359.7" r="6.8" fill="#000"/>
<text x="293.6" y="361.9" font-size="6.6" fill="#222">33.0</text>
<text x="0.5" y="397.6" font-size="18" fill="#000">d</text>
<line x1="70.7" y1="397.9" x2="70.7" y2="508.6" stroke="#333" stroke-width="0.8"/>
<text x="66.5" y="411.40000000000003" font-size="6.85" text-anchor="end" fill="#111">Convalescent_AA</text>
<line x1="68.5" y1="409.1" x2="70.7" y2="409.1" stroke="#333" stroke-width="0.6"/>
<circle cx="89.8" cy="409.1" r="7" fill="#f4b295"/>
<text x="66.5" y="429.5" font-size="6.85" text-anchor="end" fill="#111">Convalescent_GA</text>
<line x1="68.5" y1="427.2" x2="70.7" y2="427.2" stroke="#333" stroke-width="0.6"/>
<circle cx="89.8" cy="427.2" r="6" fill="#5d9bd0"/>
<text x="66.5" y="447.3" font-size="6.85" text-anchor="end" fill="#111">Convalescent_GG</text>
<line x1="68.5" y1="445" x2="70.7" y2="445" stroke="#333" stroke-width="0.6"/>
<circle cx="89.8" cy="445" r="4" fill="#2166ac"/>
<text x="66.5" y="465.7" font-size="6.85" text-anchor="end" fill="#111">Hospitalized_AA</text>
<line x1="68.5" y1="463.4" x2="70.7" y2="463.4" stroke="#333" stroke-width="0.6"/>
<circle cx="89.8" cy="463.4" r="6.5" fill="#b2182b"/>
<text x="66.5" y="483.6" font-size="6.85" text-anchor="end" fill="#111">Hospitalized_GA</text>
<line x1="68.5" y1="481.3" x2="70.7" y2="481.3" stroke="#333" stroke-width="0.6"/>
<circle cx="89.8" cy="481.3" r="5.5" fill="#f4a582"/>
<text x="66.5" y="501.90000000000003" font-size="6.85" text-anchor="end" fill="#111">Hospitalized_GG</text>
<line x1="68.5" y1="499.6" x2="70.7" y2="499.6" stroke="#333" stroke-width="0.6"/>
<circle cx="89.8" cy="499.6" r="7.5" fill="#f09272"/>
<path d="M104.2,393.7 V512.8 H243" fill="none" stroke="#333" stroke-width="0.8"/>
<line x1="111" y1="512.8" x2="111" y2="514.8" stroke="#333" stroke-width="0.6"/>
<text transform="translate(115.2,519.4) rotate(-55)" font-size="7.6" text-anchor="end" fill="#333">0</text>
<line x1="143" y1="512.8" x2="143" y2="514.8" stroke="#333" stroke-width="0.6"/>
<text transform="translate(147.2,519.4) rotate(-55)" font-size="7.6" text-anchor="end" fill="#333">1</text>
<line x1="175" y1="512.8" x2="175" y2="514.8" stroke="#333" stroke-width="0.6"/>
<text transform="translate(179.2,519.4) rotate(-55)" font-size="7.6" text-anchor="end" fill="#333">2</text>
<line x1="207" y1="512.8" x2="207" y2="514.8" stroke="#333" stroke-width="0.6"/>
<text transform="translate(211.2,519.4) rotate(-55)" font-size="7.6" text-anchor="end" fill="#333">3</text>
<line x1="239" y1="512.8" x2="239" y2="514.8" stroke="#333" stroke-width="0.6"/>
<text transform="translate(243.2,519.4) rotate(-55)" font-size="7.6" text-anchor="end" fill="#333">4</text>
<text x="170.6" y="532" font-size="9.8" text-anchor="middle" fill="#111" textLength="98" lengthAdjust="spacingAndGlyphs">Normalized expression</text>
<path d="M111.00,399.80 L112.37,400.73 L113.75,402.06 L115.12,403.40 L116.49,404.61 L117.86,405.63 L119.23,406.46 L120.61,407.11 L121.98,407.60 L123.35,407.96 L124.72,408.23 L126.10,408.41 L127.47,408.54 L128.84,408.63 L130.22,408.69 L131.59,408.73 L132.96,408.75 L134.33,408.76 L135.71,408.77 L137.08,408.77 L138.45,408.77 L139.82,408.76 L141.19,408.74 L142.57,408.73 L143.94,408.71 L145.31,408.68 L146.69,408.65 L148.06,408.61 L149.43,408.56 L150.80,408.51 L152.18,408.45 L153.55,408.39 L154.92,408.32 L156.29,408.25 L157.67,408.17 L159.04,408.10 L160.41,408.03 L161.78,407.97 L163.16,407.91 L164.53,407.86 L165.90,407.83 L167.27,407.81 L168.65,407.80 L170.02,407.81 L171.39,407.83 L172.76,407.87 L174.13,407.91 L175.51,407.97 L176.88,408.03 L178.25,408.11 L179.62,408.18 L181.00,408.25 L182.37,408.32 L183.74,408.39 L185.12,408.46 L186.49,408.51 L187.86,408.57 L189.23,408.61 L190.61,408.65 L191.98,408.68 L193.35,408.71 L194.72,408.73 L196.09,408.75 L197.47,408.76 L198.84,408.77 L200.21,408.78 L201.59,408.79 L202.96,408.79 L204.33,408.79 L205.70,408.80 L207.08,408.80 L208.45,408.80 L209.82,408.80 L211.19,408.80 L212.56,408.80 L213.94,408.80 L215.31,408.80 L216.68,408.80 L218.06,408.80 L219.43,408.80 L220.80,408.80 L220.80,409.40 L219.43,409.40 L218.06,409.40 L216.68,409.40 L215.31,409.40 L213.94,409.40 L212.56,409.40 L211.19,409.40 L209.82,409.40 L208.45,409.40 L207.08,409.40 L205.70,409.40 L204.33,409.41 L202.96,409.41 L201.59,409.41 L200.21,409.42 L198.84,409.43 L197.47,409.44 L196.09,409.45 L194.72,409.47 L193.35,409.49 L191.98,409.52 L190.61,409.55 L189.23,409.59 L187.86,409.63 L186.49,409.69 L185.12,409.74 L183.74,409.81 L182.37,409.88 L181.00,409.95 L179.62,410.02 L178.25,410.09 L176.88,410.17 L175.51,410.23 L174.13,410.29 L172.76,410.33 L171.39,410.37 L170.02,410.39 L168.65,410.40 L167.27,410.39 L165.90,410.37 L164.53,410.34 L163.16,410.29 L161.78,410.23 L160.41,410.17 L159.04,410.10 L157.67,410.03 L156.29,409.95 L154.92,409.88 L153.55,409.81 L152.18,409.75 L150.80,409.69 L149.43,409.64 L148.06,409.59 L146.69,409.55 L145.31,409.52 L143.94,409.49 L142.57,409.47 L141.19,409.46 L139.82,409.44 L138.45,409.43 L137.08,409.43 L135.71,409.43 L134.33,409.44 L132.96,409.45 L131.59,409.47 L130.22,409.51 L128.84,409.57 L127.47,409.66 L126.10,409.79 L124.72,409.97 L123.35,410.24 L121.98,410.60 L120.61,411.09 L119.23,411.74 L117.86,412.57 L116.49,413.59 L115.12,414.80 L113.75,416.14 L112.37,417.47 L111.00,418.40Z" fill="#000" stroke="#111" stroke-width="0.5"/>
<path d="M111.00,417.90 L112.40,418.86 L113.80,420.21 L115.19,421.57 L116.59,422.79 L117.99,423.81 L119.39,424.64 L120.78,425.28 L122.18,425.76 L123.58,426.11 L124.97,426.36 L126.37,426.54 L127.77,426.66 L129.17,426.74 L130.56,426.79 L131.96,426.82 L133.36,426.83 L134.76,426.84 L136.16,426.84 L137.55,426.83 L138.95,426.81 L140.35,426.79 L141.75,426.76 L143.14,426.73 L144.54,426.69 L145.94,426.65 L147.34,426.60 L148.73,426.56 L150.13,426.50 L151.53,426.45 L152.93,426.40 L154.32,426.35 L155.72,426.31 L157.12,426.27 L158.51,426.24 L159.91,426.21 L161.31,426.20 L162.71,426.20 L164.11,426.21 L165.50,426.23 L166.90,426.26 L168.30,426.29 L169.69,426.34 L171.09,426.39 L172.49,426.44 L173.89,426.49 L175.28,426.54 L176.68,426.59 L178.08,426.64 L179.48,426.68 L180.88,426.72 L182.27,426.75 L183.67,426.78 L185.07,426.81 L186.47,426.83 L187.86,426.85 L189.26,426.86 L190.66,426.87 L192.06,426.88 L193.45,426.88 L194.85,426.89 L196.25,426.89 L197.65,426.89 L199.04,426.90 L200.44,426.90 L201.84,426.90 L203.24,426.90 L204.63,426.90 L206.03,426.90 L207.43,426.90 L208.83,426.90 L210.22,426.90 L211.62,426.90 L213.02,426.90 L214.42,426.90 L215.81,426.90 L217.21,426.90 L218.61,426.90 L220.01,426.90 L221.40,426.90 L222.80,426.90 L222.80,427.50 L221.40,427.50 L220.01,427.50 L218.61,427.50 L217.21,427.50 L215.81,427.50 L214.42,427.50 L213.02,427.50 L211.62,427.50 L210.22,427.50 L208.83,427.50 L207.43,427.50 L206.03,427.50 L204.63,427.50 L203.24,427.50 L201.84,427.50 L200.44,427.50 L199.04,427.50 L197.65,427.51 L196.25,427.51 L194.85,427.51 L193.45,427.52 L192.06,427.52 L190.66,427.53 L189.26,427.54 L187.86,427.55 L186.47,427.57 L185.07,427.59 L183.67,427.62 L182.27,427.65 L180.88,427.68 L179.48,427.72 L178.08,427.76 L176.68,427.81 L175.28,427.86 L173.89,427.91 L172.49,427.96 L171.09,428.01 L169.69,428.06 L168.30,428.11 L166.90,428.14 L165.50,428.17 L164.11,428.19 L162.71,428.20 L161.31,428.20 L159.91,428.19 L158.51,428.16 L157.12,428.13 L155.72,428.09 L154.32,428.05 L152.93,428.00 L151.53,427.95 L150.13,427.90 L148.73,427.84 L147.34,427.80 L145.94,427.75 L144.54,427.71 L143.14,427.67 L141.75,427.64 L140.35,427.61 L138.95,427.59 L137.55,427.57 L136.16,427.56 L134.76,427.56 L133.36,427.57 L131.96,427.58 L130.56,427.61 L129.17,427.66 L127.77,427.74 L126.37,427.86 L124.97,428.04 L123.58,428.29 L122.18,428.64 L120.78,429.12 L119.39,429.76 L117.99,430.59 L116.59,431.61 L115.19,432.83 L113.80,434.19 L112.40,435.54 L111.00,436.50Z" fill="#c0c0c0" stroke="#111" stroke-width="0.5"/>
<path d="M111.00,435.70 L112.42,436.68 L113.84,438.06 L115.27,439.44 L116.69,440.67 L118.11,441.70 L119.53,442.52 L120.96,443.15 L122.38,443.61 L123.80,443.95 L125.22,444.19 L126.65,444.36 L128.07,444.47 L129.49,444.54 L130.91,444.58 L132.34,444.60 L133.76,444.61 L135.18,444.60 L136.60,444.59 L138.03,444.57 L139.45,444.54 L140.87,444.50 L142.30,444.46 L143.72,444.42 L145.14,444.37 L146.56,444.32 L147.99,444.26 L149.41,444.21 L150.83,444.16 L152.25,444.11 L153.68,444.07 L155.10,444.04 L156.52,444.02 L157.94,444.00 L159.37,444.00 L160.79,444.01 L162.21,444.03 L163.63,444.06 L165.06,444.09 L166.48,444.14 L167.90,444.19 L169.32,444.24 L170.75,444.29 L172.17,444.34 L173.59,444.40 L175.01,444.44 L176.44,444.49 L177.86,444.53 L179.28,444.56 L180.70,444.59 L182.12,444.61 L183.55,444.63 L184.97,444.65 L186.39,444.66 L187.81,444.67 L189.24,444.68 L190.66,444.69 L192.08,444.69 L193.50,444.69 L194.93,444.70 L196.35,444.70 L197.77,444.70 L199.19,444.70 L200.62,444.70 L202.04,444.70 L203.46,444.70 L204.89,444.70 L206.31,444.70 L207.73,444.70 L209.15,444.70 L210.58,444.70 L212.00,444.70 L213.42,444.70 L214.84,444.70 L216.27,444.70 L217.69,444.70 L219.11,444.70 L220.53,444.70 L221.96,444.70 L223.38,444.70 L224.80,444.70 L224.80,445.30 L223.38,445.30 L221.96,445.30 L220.53,445.30 L219.11,445.30 L217.69,445.30 L216.27,445.30 L214.84,445.30 L213.42,445.30 L212.00,445.30 L210.58,445.30 L209.15,445.30 L207.73,445.30 L206.31,445.30 L204.89,445.30 L203.46,445.30 L202.04,445.30 L200.62,445.30 L199.19,445.30 L197.77,445.30 L196.35,445.30 L194.93,445.30 L193.50,445.31 L192.08,445.31 L190.66,445.31 L189.24,445.32 L187.81,445.33 L186.39,445.34 L184.97,445.35 L183.55,445.37 L182.12,445.39 L180.70,445.41 L179.28,445.44 L177.86,445.47 L176.44,445.51 L175.01,445.56 L173.59,445.60 L172.17,445.66 L170.75,445.71 L169.32,445.76 L167.90,445.81 L166.48,445.86 L165.06,445.91 L163.63,445.94 L162.21,445.97 L160.79,445.99 L159.37,446.00 L157.94,446.00 L156.52,445.98 L155.10,445.96 L153.68,445.93 L152.25,445.89 L150.83,445.84 L149.41,445.79 L147.99,445.74 L146.56,445.68 L145.14,445.63 L143.72,445.58 L142.30,445.54 L140.87,445.50 L139.45,445.46 L138.03,445.43 L136.60,445.41 L135.18,445.40 L133.76,445.39 L132.34,445.40 L130.91,445.42 L129.49,445.46 L128.07,445.53 L126.65,445.64 L125.22,445.81 L123.80,446.05 L122.38,446.39 L120.96,446.85 L119.53,447.48 L118.11,448.30 L116.69,449.33 L115.27,450.56 L113.84,451.94 L112.42,453.32 L111.00,454.30Z" fill="#fff" stroke="#111" stroke-width="0.5"/>
<path d="M111.00,454.10 L112.56,455.21 L114.12,456.74 L115.69,458.22 L117.25,459.50 L118.81,460.53 L120.38,461.31 L121.94,461.89 L123.50,462.30 L125.06,462.58 L126.62,462.77 L128.19,462.89 L129.75,462.97 L131.31,463.02 L132.88,463.05 L134.44,463.07 L136.00,463.07 L137.56,463.08 L139.12,463.07 L140.69,463.06 L142.25,463.05 L143.81,463.03 L145.38,463.01 L146.94,462.98 L148.50,462.94 L150.06,462.89 L151.62,462.84 L153.19,462.78 L154.75,462.71 L156.31,462.63 L157.88,462.55 L159.44,462.46 L161.00,462.38 L162.56,462.30 L164.12,462.23 L165.69,462.18 L167.25,462.13 L168.81,462.11 L170.38,462.10 L171.94,462.11 L173.50,462.14 L175.06,462.19 L176.62,462.25 L178.19,462.32 L179.75,462.40 L181.31,462.48 L182.88,462.57 L184.44,462.65 L186.00,462.72 L187.56,462.79 L189.12,462.85 L190.69,462.91 L192.25,462.95 L193.81,462.99 L195.38,463.02 L196.94,463.04 L198.50,463.06 L200.06,463.07 L201.62,463.08 L203.19,463.09 L204.75,463.09 L206.31,463.09 L207.88,463.10 L209.44,463.10 L211.00,463.10 L212.56,463.10 L214.12,463.10 L215.69,463.10 L217.25,463.10 L218.81,463.10 L220.38,463.10 L221.94,463.10 L223.50,463.10 L225.06,463.10 L226.62,463.10 L228.19,463.10 L229.75,463.10 L231.31,463.10 L232.88,463.10 L234.44,463.10 L236.00,463.10 L236.00,463.70 L234.44,463.70 L232.88,463.70 L231.31,463.70 L229.75,463.70 L228.19,463.70 L226.62,463.70 L225.06,463.70 L223.50,463.70 L221.94,463.70 L220.38,463.70 L218.81,463.70 L217.25,463.70 L215.69,463.70 L214.12,463.70 L212.56,463.70 L211.00,463.70 L209.44,463.70 L207.88,463.70 L206.31,463.71 L204.75,463.71 L203.19,463.71 L201.62,463.72 L200.06,463.73 L198.50,463.74 L196.94,463.76 L195.38,463.78 L193.81,463.81 L192.25,463.85 L190.69,463.89 L189.12,463.95 L187.56,464.01 L186.00,464.08 L184.44,464.15 L182.88,464.23 L181.31,464.32 L179.75,464.40 L178.19,464.48 L176.62,464.55 L175.06,464.61 L173.50,464.66 L171.94,464.69 L170.38,464.70 L168.81,464.69 L167.25,464.67 L165.69,464.62 L164.12,464.57 L162.56,464.50 L161.00,464.42 L159.44,464.34 L157.88,464.25 L156.31,464.17 L154.75,464.09 L153.19,464.02 L151.62,463.96 L150.06,463.91 L148.50,463.86 L146.94,463.82 L145.38,463.79 L143.81,463.77 L142.25,463.75 L140.69,463.74 L139.12,463.73 L137.56,463.72 L136.00,463.73 L134.44,463.73 L132.88,463.75 L131.31,463.78 L129.75,463.83 L128.19,463.91 L126.62,464.03 L125.06,464.22 L123.50,464.50 L121.94,464.91 L120.38,465.49 L118.81,466.27 L117.25,467.30 L115.69,468.58 L114.12,470.06 L112.56,471.59 L111.00,472.70Z" fill="#000" stroke="#111" stroke-width="0.5"/>
<path d="M111.00,472.00 L112.46,473.01 L113.92,474.44 L115.38,475.84 L116.84,477.09 L118.30,478.12 L119.76,478.93 L121.22,479.55 L122.68,480.00 L124.14,480.32 L125.60,480.55 L127.06,480.71 L128.52,480.81 L129.98,480.88 L131.44,480.92 L132.90,480.95 L134.36,480.96 L135.82,480.96 L137.28,480.96 L138.74,480.96 L140.20,480.95 L141.66,480.93 L143.12,480.91 L144.58,480.89 L146.04,480.86 L147.50,480.83 L148.96,480.79 L150.42,480.75 L151.88,480.71 L153.34,480.66 L154.80,480.61 L156.26,480.57 L157.72,480.52 L159.18,480.48 L160.64,480.45 L162.10,480.42 L163.56,480.41 L165.02,480.40 L166.48,480.40 L167.94,480.41 L169.40,480.44 L170.86,480.47 L172.32,480.50 L173.78,480.54 L175.24,480.59 L176.70,480.64 L178.16,480.68 L179.62,480.73 L181.08,480.77 L182.54,480.81 L184.00,480.84 L185.46,480.88 L186.92,480.90 L188.38,480.92 L189.84,480.94 L191.30,480.96 L192.76,480.97 L194.22,480.98 L195.68,480.98 L197.14,480.99 L198.60,480.99 L200.06,480.99 L201.52,481.00 L202.98,481.00 L204.44,481.00 L205.90,481.00 L207.36,481.00 L208.82,481.00 L210.28,481.00 L211.74,481.00 L213.20,481.00 L214.66,481.00 L216.12,481.00 L217.58,481.00 L219.04,481.00 L220.50,481.00 L221.96,481.00 L223.42,481.00 L224.88,481.00 L226.34,481.00 L227.80,481.00 L227.80,481.60 L226.34,481.60 L224.88,481.60 L223.42,481.60 L221.96,481.60 L220.50,481.60 L219.04,481.60 L217.58,481.60 L216.12,481.60 L214.66,481.60 L213.20,481.60 L211.74,481.60 L210.28,481.60 L208.82,481.60 L207.36,481.60 L205.90,481.60 L204.44,481.60 L202.98,481.60 L201.52,481.60 L200.06,481.61 L198.60,481.61 L197.14,481.61 L195.68,481.62 L194.22,481.62 L192.76,481.63 L191.30,481.64 L189.84,481.66 L188.38,481.68 L186.92,481.70 L185.46,481.72 L184.00,481.76 L182.54,481.79 L181.08,481.83 L179.62,481.87 L178.16,481.92 L176.70,481.96 L175.24,482.01 L173.78,482.06 L172.32,482.10 L170.86,482.13 L169.40,482.16 L167.94,482.19 L166.48,482.20 L165.02,482.20 L163.56,482.19 L162.10,482.18 L160.64,482.15 L159.18,482.12 L157.72,482.08 L156.26,482.03 L154.80,481.99 L153.34,481.94 L151.88,481.89 L150.42,481.85 L148.96,481.81 L147.50,481.77 L146.04,481.74 L144.58,481.71 L143.12,481.69 L141.66,481.67 L140.20,481.65 L138.74,481.64 L137.28,481.64 L135.82,481.64 L134.36,481.64 L132.90,481.65 L131.44,481.68 L129.98,481.72 L128.52,481.79 L127.06,481.89 L125.60,482.05 L124.14,482.28 L122.68,482.60 L121.22,483.05 L119.76,483.67 L118.30,484.48 L116.84,485.51 L115.38,486.76 L113.92,488.16 L112.46,489.59 L111.00,490.60Z" fill="#c0c0c0" stroke="#111" stroke-width="0.5"/>
<path d="M111.00,490.30 L112.42,491.28 L113.84,492.66 L115.27,494.04 L116.69,495.27 L118.11,496.30 L119.53,497.12 L120.96,497.75 L122.38,498.22 L123.80,498.56 L125.22,498.80 L126.65,498.97 L128.07,499.08 L129.49,499.16 L130.91,499.20 L132.34,499.23 L133.76,499.25 L135.18,499.25 L136.60,499.25 L138.03,499.24 L139.45,499.23 L140.87,499.21 L142.30,499.19 L143.72,499.16 L145.14,499.12 L146.56,499.07 L147.99,499.02 L149.41,498.97 L150.83,498.91 L152.25,498.84 L153.68,498.77 L155.10,498.71 L156.52,498.64 L157.94,498.58 L159.37,498.52 L160.79,498.47 L162.21,498.44 L163.63,498.41 L165.06,498.40 L166.48,498.40 L167.90,498.42 L169.32,498.45 L170.75,498.50 L172.17,498.55 L173.59,498.61 L175.01,498.67 L176.44,498.74 L177.86,498.81 L179.28,498.88 L180.70,498.94 L182.12,499.00 L183.55,499.05 L184.97,499.10 L186.39,499.14 L187.81,499.17 L189.24,499.20 L190.66,499.23 L192.08,499.24 L193.50,499.26 L194.93,499.27 L196.35,499.28 L197.77,499.28 L199.19,499.29 L200.62,499.29 L202.04,499.30 L203.46,499.30 L204.89,499.30 L206.31,499.30 L207.73,499.30 L209.15,499.30 L210.58,499.30 L212.00,499.30 L213.42,499.30 L214.84,499.30 L216.27,499.30 L217.69,499.30 L219.11,499.30 L220.53,499.30 L221.96,499.30 L223.38,499.30 L224.80,499.30 L224.80,499.90 L223.38,499.90 L221.96,499.90 L220.53,499.90 L219.11,499.90 L217.69,499.90 L216.27,499.90 L214.84,499.90 L213.42,499.90 L212.00,499.90 L210.58,499.90 L209.15,499.90 L207.73,499.90 L206.31,499.90 L204.89,499.90 L203.46,499.90 L202.04,499.90 L200.62,499.91 L199.19,499.91 L197.77,499.92 L196.35,499.92 L194.93,499.93 L193.50,499.94 L192.08,499.96 L190.66,499.97 L189.24,500.00 L187.81,500.03 L186.39,500.06 L184.97,500.10 L183.55,500.15 L182.12,500.20 L180.70,500.26 L179.28,500.32 L177.86,500.39 L176.44,500.46 L175.01,500.53 L173.59,500.59 L172.17,500.65 L170.75,500.70 L169.32,500.75 L167.90,500.78 L166.48,500.80 L165.06,500.80 L163.63,500.79 L162.21,500.76 L160.79,500.73 L159.37,500.68 L157.94,500.62 L156.52,500.56 L155.10,500.49 L153.68,500.43 L152.25,500.36 L150.83,500.29 L149.41,500.23 L147.99,500.18 L146.56,500.13 L145.14,500.08 L143.72,500.04 L142.30,500.01 L140.87,499.99 L139.45,499.97 L138.03,499.96 L136.60,499.95 L135.18,499.95 L133.76,499.95 L132.34,499.97 L130.91,500.00 L129.49,500.04 L128.07,500.12 L126.65,500.23 L125.22,500.40 L123.80,500.64 L122.38,500.98 L120.96,501.45 L119.53,502.08 L118.11,502.90 L116.69,503.93 L115.27,505.16 L113.84,506.54 L112.42,507.92 L111.00,508.90Z" fill="#fff" stroke="#111" stroke-width="0.5"/>
<line x1="238.5" y1="409" x2="238.5" y2="427" stroke="#111" stroke-width="0.8"/>
<path d="M242.00,410.10L242.00,414.30M243.82,411.15L240.18,413.25M243.82,413.25L240.18,411.15" stroke="#111" stroke-width="0.9"/><path d="M242.00,415.90L242.00,420.10M243.82,416.95L240.18,419.05M243.82,419.05L240.18,416.95" stroke="#111" stroke-width="0.9"/><path d="M242.00,421.70L242.00,425.90M243.82,422.75L240.18,424.85M243.82,424.85L240.18,422.75" stroke="#111" stroke-width="0.9"/>
<line x1="250" y1="409" x2="250" y2="445" stroke="#111" stroke-width="0.8"/>
<path d="M253.60,416.20L253.60,420.40M255.42,417.25L251.78,419.35M255.42,419.35L251.78,417.25" stroke="#111" stroke-width="0.9"/><path d="M253.60,422.00L253.60,426.20M255.42,423.05L251.78,425.15M255.42,425.15L251.78,423.05" stroke="#111" stroke-width="0.9"/><path d="M253.60,427.80L253.60,432.00M255.42,428.85L251.78,430.95M255.42,430.95L251.78,428.85" stroke="#111" stroke-width="0.9"/><path d="M253.60,433.60L253.60,437.80M255.42,434.65L251.78,436.75M255.42,436.75L251.78,434.65" stroke="#111" stroke-width="0.9"/>
<line x1="259.3" y1="427" x2="259.3" y2="445" stroke="#111" stroke-width="0.8"/>
<circle cx="263" cy="436.0" r="1.1" fill="#111"/>
<line x1="238.5" y1="463" x2="238.5" y2="481" stroke="#111" stroke-width="0.8"/>
<circle cx="242.5" cy="472.0" r="1.1" fill="#111"/>
<line x1="250" y1="463" x2="250" y2="500" stroke="#111" stroke-width="0.8"/>
<path d="M253.60,470.70L253.60,474.90M255.42,471.75L251.78,473.85M255.42,473.85L251.78,471.75" stroke="#111" stroke-width="0.9"/><path d="M253.60,476.50L253.60,480.70M255.42,477.55L251.78,479.65M255.42,479.65L251.78,477.55" stroke="#111" stroke-width="0.9"/><path d="M253.60,482.30L253.60,486.50M255.42,483.35L251.78,485.45M255.42,485.45L251.78,483.35" stroke="#111" stroke-width="0.9"/><path d="M253.60,488.10L253.60,492.30M255.42,489.15L251.78,491.25M255.42,491.25L251.78,489.15" stroke="#111" stroke-width="0.9"/>
<line x1="259.3" y1="481" x2="259.3" y2="500" stroke="#111" stroke-width="0.8"/>
<path d="M262.80,482.60L262.80,486.80M264.62,483.65L260.98,485.75M264.62,485.75L260.98,483.65" stroke="#111" stroke-width="0.9"/><path d="M262.80,488.40L262.80,492.60M264.62,489.45L260.98,491.55M264.62,491.55L260.98,489.45" stroke="#111" stroke-width="0.9"/><path d="M262.80,494.20L262.80,498.40M264.62,495.25L260.98,497.35M264.62,497.35L260.98,495.25" stroke="#111" stroke-width="0.9"/>
<text x="271.9" y="406.8" font-size="7.7" fill="#111">Average Expression</text>
<defs><linearGradient id="gc2" x1="0" y1="0" x2="0" y2="1"><stop offset="0" stop-color="#b2182b"/><stop offset="0.2" stop-color="#e0644f"/><stop offset="0.38" stop-color="#f7b799"/><stop offset="0.5" stop-color="#f7f4f2"/><stop offset="0.62" stop-color="#c0d9e8"/><stop offset="0.8" stop-color="#6aaad1"/><stop offset="1" stop-color="#2166ac"/></linearGradient></defs><rect x="271.9" y="411.7" width="8.7" height="43.2" fill="url(#gc2)"/>
<text x="284.5" y="415.0" font-size="6.6" fill="#222">1.0</text>
<text x="284.5" y="423.8" font-size="6.6" fill="#222">0.5</text>
<text x="284.5" y="432.59999999999997" font-size="6.6" fill="#222">0.0</text>
<text x="284.5" y="441.3" font-size="6.6" fill="#222">−0.5</text>
<text x="284.5" y="450.5" font-size="6.6" fill="#222">−1.0</text>
<text x="271.9" y="469.4" font-size="7.7" fill="#111">Percent Expressed</text>
<circle cx="281.2" cy="480.4" r="4.6" fill="#000"/>
<text x="294.7" y="482.59999999999997" font-size="6.6" fill="#222">30</text>
<circle cx="281.2" cy="494.4" r="6.5" fill="#000"/>
<text x="294.7" y="496.59999999999997" font-size="6.6" fill="#222">34</text>
<circle cx="281.2" cy="511.9" r="7.9" fill="#000"/>
<text x="294.7" y="514.1" font-size="6.6" fill="#222">38</text>
<text x="-0.6" y="549.4" font-size="20.5" fill="#000">e</text>
<text x="27.3" y="555.3" font-size="7" fill="#111">chr17:35239535–35246536</text>
<text x="190.5" y="554" font-size="9.6" fill="#111">rs11080327</text>
<rect x="26.8" y="561" width="227.2" height="123.6" fill="#fff" stroke="#bbb" stroke-width="0.6"/>
<path d="M34,623.1 L34,616.4 L42.2,616.4 L50.9,620.6 L58.3,622.6 L65.8,622.6 L74.4,618.9 L81.9,622.8 L90.6,619.4 L99.3,618.9 L106.7,610.7 L114.6,561.8 L122.8,609 L131,565.3 L139.5,601.5 L147.6,616.4 L155,621.1 L163.8,614.4 L171.4,618.2 L180.3,601.2 L187.6,591 L195.1,621 L203.2,622.8 L203.2,623.1Z" fill="#84278f"/>
<path d="M34,684.6 L34,683.1 L49.6,683.1 L57,684.6 L83.1,684.6 L91.8,681.9 L99.3,680.2 L106.7,677 L114.6,644.9 L122.8,681.9 L131,640 L139.5,665.8 L147.6,677 L155,675.2 L163.8,684.6 L170.8,682.3 L187.6,652.6 L195.1,682.3 L203,684 L211.4,682.3 L220,684.6 L243.8,682.3 L252,684 L252,684.6Z" fill="#218a42"/>
<line x1="26.8" y1="623.2" x2="254" y2="623.2" stroke="#555" stroke-width="0.7"/>
<line x1="26.8" y1="684.6" x2="254" y2="684.6" stroke="#bbb" stroke-width="0.6"/>
<rect x="254" y="562" width="77.6" height="122.2" fill="#d9d9d9" stroke="#333" stroke-width="0.8"/>
<line x1="254" y1="623.3" x2="331.6" y2="623.3" stroke="#222" stroke-width="1"/>
<text x="292.8" y="594.8" font-size="6.6" text-anchor="middle" fill="#111">CD4 T.Hospitalized</text>
<text x="292.8" y="655.8" font-size="6.6" text-anchor="middle" fill="#111">CD4 T.Convalescent</text>
<line x1="185.7" y1="552.6" x2="185.7" y2="684" stroke="#e02828" stroke-width="0.8" stroke-dasharray="2.2,1.6"/>
<text x="42.2" y="693" font-size="6.8" text-anchor="middle" fill="#111">35240000</text>
<text x="106.7" y="693" font-size="6.8" text-anchor="middle" fill="#111">35242000</text>
<text x="171.2" y="693" font-size="6.8" text-anchor="middle" fill="#111">35244000</text>
<text x="235.7" y="693" font-size="6.8" text-anchor="middle" fill="#111">35246000</text>
<text transform="translate(12.5,623) rotate(-90)" font-size="6" text-anchor="middle" fill="#111">Coverage</text>
<text transform="translate(19.2,623) rotate(-90)" font-size="6" text-anchor="middle" fill="#111">(Norm. ATAC Signal Range (0–0.25) by ReadsInTSS)</text>
<rect x="27" y="704.2" width="227" height="11.9" fill="#fff" stroke="#bbb" stroke-width="0.6"/>
<rect x="27" y="721" width="227" height="36.5" fill="#fff" stroke="#bbb" stroke-width="0.6"/>
<rect x="27" y="762.5" width="227" height="24.8" fill="#fff" stroke="#bbb" stroke-width="0.6"/>
<rect x="92.7" y="708.2" width="16.1" height="3.6" fill="#c9202f"/>
<rect x="113" y="708.2" width="16.7" height="3.6" fill="#c9202f"/>
<rect x="131" y="708.2" width="16.0" height="3.6" fill="#c9202f"/>
<rect x="154" y="708.2" width="16.0" height="3.6" fill="#c9202f"/>
<rect x="179.5" y="708.2" width="16.5" height="3.6" fill="#c9202f"/>
<rect x="206" y="708.2" width="16.0" height="3.6" fill="#c9202f"/>
<path d="M121.2,721.5 C121.2,741 140.3,741 140.3,721.5" fill="none" stroke="#8a3fc9" stroke-width="0.9"/>
<path d="M140.3,721.5 C140.3,768 188.2,768 188.2,721.5" fill="none" stroke="#5a66e0" stroke-width="0.9"/>
<rect x="111.3" y="774.4" width="24.1" height="10.5" rx="2.5" fill="#fff" stroke="#e83030" stroke-width="0.7"/>
<text x="123.3" y="781.8" font-size="5.3" text-anchor="middle" fill="#e83030">SLFN5</text>
<rect x="140.6" y="773" width="113.4" height="3.8" fill="#f00000"/>
<rect x="139.5" y="771" width="2.5" height="7.8" fill="#f00000"/>
<text x="292.9" y="712.6" font-size="6.2" text-anchor="middle" fill="#111">Peaks</text>
<text x="292.9" y="741.9" font-size="6.2" text-anchor="middle" fill="#111">Peak2GeneLinks</text>
<text x="292.9" y="777.8" font-size="6.2" text-anchor="middle" fill="#111">Genes</text>
<text x="320" y="704.4" font-size="9.5" fill="#111">value</text>
<defs><linearGradient id="gv" x1="0" y1="0" x2="0" y2="1"><stop offset="0" stop-color="#0a0015"/><stop offset="0.3" stop-color="#5a0f8a"/><stop offset="0.5" stop-color="#6a40d8"/><stop offset="0.72" stop-color="#3a9cf5"/><stop offset="1" stop-color="#e8eef5"/></linearGradient></defs>
<rect x="323.1" y="709.9" width="9.5" height="43.4" fill="url(#gv)"/>
<text x="336" y="722.8" font-size="5" fill="#222">0.8</text>
<text x="336" y="737.8" font-size="5" fill="#222">0.6</text>
<text x="336" y="751.9" font-size="5" fill="#222">0.4</text>
<text x="1" y="817" font-size="19" fill="#000">f</text>
<text x="13.6" y="838.5" font-size="7.6" text-anchor="end" fill="#111">40</text>
<line x1="15.6" y1="836" x2="17.4" y2="836" stroke="#111" stroke-width="0.6"/>
<text x="13.6" y="862.1" font-size="7.6" text-anchor="end" fill="#111">20</text>
<line x1="15.6" y1="859.6" x2="17.4" y2="859.6" stroke="#111" stroke-width="0.6"/>
<text x="13.6" y="885.9" font-size="7.6" text-anchor="end" fill="#111">0</text>
<line x1="15.6" y1="883.4" x2="17.4" y2="883.4" stroke="#111" stroke-width="0.6"/>
<text x="13.6" y="909.7" font-size="7.6" text-anchor="end" fill="#111">-20</text>
<line x1="15.6" y1="907.2" x2="17.4" y2="907.2" stroke="#111" stroke-width="0.6"/>
<text x="13.6" y="933.3" font-size="7.6" text-anchor="end" fill="#111">-40</text>
<line x1="15.6" y1="930.8" x2="17.4" y2="930.8" stroke="#111" stroke-width="0.6"/>
<path d="M22.3,882.4 L23.8,882.4 L23.8,882.7 L25.3,882.7 L25.3,881.6 L26.8,881.6 L26.8,879.7 L28.3,879.7 L28.3,879.2 L29.8,879.2 L29.8,878.1 L31.4,878.1 L31.4,877.5 L32.9,877.5 L32.9,876.9 L34.5,876.9 L34.5,874.7 L36.0,874.7 L36.0,873.7 L37.3,873.7 L37.3,874.1 L38.7,874.1 L38.7,872.4 L40.0,872.4 L40.0,872.0 L41.4,872.0 L41.4,870.5 L42.7,870.5 L42.7,871.2 L44.1,871.2 L44.1,871.5 L45.5,871.5 L45.5,870.5 L46.8,870.5 L46.8,871.7 L48.2,871.7 L48.2,871.5 L49.6,871.5 L49.6,869.8 L50.9,869.8 L50.9,869.7 L52.3,869.7 L52.3,870.5 L53.3,870.5 L53.3,867.8 L55.2,867.8 L55.2,860.2 L57.1,860.2 L57.1,857.0 L58.5,857.0 L58.5,855.9 L60.0,855.9 L60.0,853.8 L61.4,853.8 L61.4,852.7 L62.8,852.7 L62.8,851.7 L63.7,851.7 L63.7,849.9 L65.0,849.9 L65.0,849.0 L66.4,849.0 L66.4,848.7 L67.7,848.7 L67.7,848.3 L69.1,848.3 L69.1,848.3 L70.4,848.3 L70.4,847.6 L72.3,847.6 L72.3,845.2 L73.7,845.2 L73.7,846.4 L75.1,846.4 L75.1,845.5 L76.5,845.5 L76.5,845.3 L77.9,845.3 L77.9,844.1 L79.4,844.1 L79.4,845.2 L80.8,845.2 L80.8,844.6 L82.2,844.6 L82.2,843.0 L83.6,843.0 L83.6,843.0 L85.1,843.0 L85.1,843.3 L86.6,843.3 L86.6,842.9 L88.2,842.9 L88.2,842.9 L89.7,842.9 L89.7,841.6 L91.2,841.6 L91.2,842.0 L93.1,842.0 L93.1,847.4 L95.0,847.4 L95.0,847.7 L96.9,847.7 L96.9,849.2 L98.8,849.2 L98.8,848.7 L100.7,848.7 L100.7,847.7 L102.3,847.7 L102.3,848.4 L103.9,848.4 L103.9,849.8 L105.5,849.8 L105.5,850.1 L106.9,850.1 L106.9,850.9 L108.3,850.9 L108.3,852.3 L109.7,852.3 L109.7,850.0 L111.2,850.0 L111.2,847.9 L112.6,847.9 L112.6,846.9 L114.0,846.9 L114.0,845.6 L115.9,845.6 L115.9,842.7 L117.8,842.7 L117.8,839.3 L119.4,839.3 L119.4,837.2 L120.9,837.2 L120.9,835.0 L122.5,835.0 L122.5,833.3 L123.8,833.3 L123.8,832.8 L125.2,832.8 L125.2,832.6 L126.5,832.6 L126.5,832.8 L127.9,832.8 L127.9,832.0 L129.2,832.0 L129.2,832.0 L130.7,832.0 L130.7,833.5 L132.2,833.5 L132.2,834.4 L133.8,834.4 L133.8,834.1 L135.3,834.1 L135.3,834.1 L136.8,834.1 L136.8,834.1 L138.3,834.1 L138.3,836.0 L139.8,836.0 L139.8,838.2 L141.4,838.2 L141.4,839.2 L142.9,839.2 L142.9,840.1 L144.4,840.1 L144.4,842.0 L145.8,842.0 L145.8,842.8 L147.2,842.8 L147.2,845.2 L148.7,845.2 L148.7,847.9 L150.1,847.9 L150.1,849.1 L151.5,849.1 L151.5,850.8 L152.9,850.8 L152.9,852.4 L154.3,852.4 L154.3,854.8 L155.7,854.8 L155.7,857.4 L157.6,857.4 L157.6,862.3 L159.5,862.3 L159.5,870.3 L161.4,870.3 L161.4,877.0 L163.3,877.0 L163.3,883.1 L163.3,884.1 L163.3,889.0 L161.7,889.0 L161.7,895.5 L160.2,895.5 L160.2,900.2 L158.6,900.2 L158.6,903.9 L157.0,903.9 L157.0,909.7 L155.5,909.7 L155.5,913.0 L153.9,913.0 L153.9,915.0 L152.4,915.0 L152.4,917.6 L150.9,917.6 L150.9,918.4 L149.3,918.4 L149.3,921.5 L147.8,921.5 L147.8,922.4 L146.3,922.4 L146.3,924.9 L144.8,924.9 L144.8,925.7 L143.3,925.7 L143.3,927.0 L141.7,927.0 L141.7,926.8 L140.2,926.8 L140.2,928.9 L138.7,928.9 L138.7,930.4 L137.2,930.4 L137.2,930.6 L135.7,930.6 L135.7,931.0 L134.1,931.0 L134.1,932.1 L132.6,932.1 L132.6,933.6 L131.1,933.6 L131.1,933.7 L129.6,933.7 L129.6,933.4 L128.1,933.4 L128.1,933.4 L126.5,933.4 L126.5,933.8 L125.0,933.8 L125.0,934.2 L123.5,934.2 L123.5,931.4 L122.1,931.4 L122.1,930.8 L120.7,930.8 L120.7,928.0 L119.2,928.0 L119.2,927.5 L117.8,927.5 L117.8,924.3 L116.4,924.3 L116.4,923.4 L114.9,923.4 L114.9,920.8 L113.5,920.8 L113.5,918.7 L112.1,918.7 L112.1,917.6 L110.5,917.6 L110.5,916.4 L109.0,916.4 L109.0,915.2 L107.4,915.2 L107.4,915.8 L105.8,915.8 L105.8,916.9 L104.2,916.9 L104.2,918.9 L102.6,918.9 L102.6,918.4 L101.2,918.4 L101.2,917.0 L99.8,917.0 L99.8,917.4 L98.3,917.4 L98.3,916.3 L96.9,916.3 L96.9,918.5 L95.5,918.5 L95.5,919.2 L94.1,919.2 L94.1,921.6 L92.7,921.6 L92.7,923.8 L91.2,923.8 L91.2,923.8 L89.9,923.8 L89.9,923.4 L88.6,923.4 L88.6,921.9 L87.2,921.9 L87.2,922.9 L85.9,922.9 L85.9,922.4 L84.6,922.4 L84.6,920.8 L83.3,920.8 L83.3,921.1 L82.0,921.1 L82.0,920.6 L80.6,920.6 L80.6,920.4 L79.3,920.4 L79.3,919.6 L78.0,919.6 L78.0,919.2 L76.5,919.2 L76.5,918.7 L75.0,918.7 L75.0,916.9 L73.4,916.9 L73.4,917.2 L71.9,917.2 L71.9,917.2 L70.4,917.2 L70.4,915.6 L69.0,915.6 L69.0,914.2 L67.6,914.2 L67.6,913.9 L66.1,913.9 L66.1,912.6 L64.7,912.6 L64.7,911.9 L63.2,911.9 L63.2,911.3 L61.7,911.3 L61.7,910.1 L60.1,910.1 L60.1,909.6 L58.6,909.6 L58.6,907.6 L57.1,907.6 L57.1,904.2 L55.7,904.2 L55.7,901.1 L54.2,901.1 L54.2,895.5 L52.3,895.5 L52.3,895.5 L50.9,895.5 L50.9,895.8 L49.6,895.8 L49.6,896.0 L48.2,896.0 L48.2,896.1 L46.8,896.1 L46.8,896.7 L45.5,896.7 L45.5,896.7 L44.1,896.7 L44.1,896.1 L42.7,896.1 L42.7,895.4 L41.4,895.4 L41.4,895.4 L40.0,895.4 L40.0,893.9 L38.7,893.9 L38.7,893.6 L37.3,893.6 L37.3,892.7 L36.0,892.7 L36.0,891.7 L34.5,891.7 L34.5,890.2 L32.9,890.2 L32.9,889.9 L31.4,889.9 L31.4,889.0 L29.8,889.0 L29.8,888.2 L28.3,888.2 L28.3,885.9 L26.8,885.9 L26.8,884.9 L25.3,884.9 L25.3,885.5 L23.8,885.5 L23.8,884.5 L22.3,884.5Z" fill="#c9eed6"/>
<path d="M183.3,882.6 L184.4,882.6 L184.4,879.5 L185.9,879.5 L185.9,878.9 L187.3,878.9 L187.3,878.4 L188.8,878.4 L188.8,877.3 L190.1,877.3 L190.1,877.2 L191.4,877.2 L191.4,875.2 L192.7,875.2 L192.7,875.5 L194.0,875.5 L194.0,875.9 L195.3,875.9 L195.3,875.0 L196.7,875.0 L196.7,875.1 L198.1,875.1 L198.1,873.5 L199.4,873.5 L199.4,873.8 L200.8,873.8 L200.8,873.1 L202.2,873.1 L202.2,873.4 L203.6,873.4 L203.6,873.2 L204.9,873.2 L204.9,871.9 L206.3,871.9 L206.3,872.0 L207.6,872.0 L207.6,871.6 L208.9,871.6 L208.9,872.2 L210.2,872.2 L210.2,871.4 L211.5,871.4 L211.5,869.8 L212.8,869.8 L212.8,870.4 L214.3,870.4 L214.3,868.7 L215.9,868.7 L215.9,869.0 L217.4,869.0 L217.4,867.5 L219.0,867.5 L219.0,866.7 L220.5,866.7 L220.5,867.7 L222.7,867.7 L222.7,862.2 L224.2,862.2 L224.2,862.6 L225.8,862.6 L225.8,864.4 L227.3,864.4 L227.3,864.7 L228.9,864.7 L228.9,864.1 L230.4,864.1 L230.4,865.7 L231.7,865.7 L231.7,864.9 L233.0,864.9 L233.0,865.0 L234.3,865.0 L234.3,864.0 L235.6,864.0 L235.6,865.3 L236.9,865.3 L236.9,864.7 L238.3,864.7 L238.3,865.1 L239.6,865.1 L239.6,864.8 L240.9,864.8 L240.9,863.7 L242.2,863.7 L242.2,863.7 L243.5,863.7 L243.5,863.2 L244.8,863.2 L244.8,863.3 L246.1,863.3 L246.1,863.2 L247.4,863.2 L247.4,863.8 L248.7,863.8 L248.7,864.4 L250.1,864.4 L250.1,863.5 L251.4,863.5 L251.4,864.8 L252.7,864.8 L252.7,864.3 L254.0,864.3 L254.0,864.3 L255.3,864.3 L255.3,865.4 L256.6,865.4 L256.6,864.9 L258.0,864.9 L258.0,864.5 L259.4,864.5 L259.4,864.7 L260.8,864.7 L260.8,865.0 L262.2,865.0 L262.2,863.7 L263.6,863.7 L263.6,865.3 L265.0,865.3 L265.0,863.4 L266.4,863.4 L266.4,864.6 L267.8,864.6 L267.8,864.7 L269.2,864.7 L269.2,863.1 L270.6,863.1 L270.6,864.4 L272.0,864.4 L272.0,863.6 L273.4,863.6 L273.4,863.7 L274.7,863.7 L274.7,862.4 L276.1,862.4 L276.1,862.2 L277.4,862.2 L277.4,862.1 L278.8,862.1 L278.8,863.2 L280.2,863.2 L280.2,861.6 L281.5,861.6 L281.5,862.3 L282.9,862.3 L282.9,862.4 L284.3,862.4 L284.3,862.8 L285.6,862.8 L285.6,862.1 L287.0,862.1 L287.0,862.6 L288.4,862.6 L288.4,863.3 L289.8,863.3 L289.8,864.2 L291.1,864.2 L291.1,863.4 L292.5,863.4 L292.5,864.9 L293.9,864.9 L293.9,865.4 L295.3,865.4 L295.3,866.1 L296.8,866.1 L296.8,865.1 L298.2,865.1 L298.2,867.3 L299.7,867.3 L299.7,866.3 L301.2,866.3 L301.2,867.3 L302.6,867.3 L302.6,868.3 L304.1,868.3 L304.1,869.6 L305.5,869.6 L305.5,869.3 L307.0,869.3 L307.0,871.1 L308.5,871.1 L308.5,871.1 L309.9,871.1 L309.9,871.4 L311.4,871.4 L311.4,872.2 L312.7,872.2 L312.7,872.8 L314.0,872.8 L314.0,873.5 L315.4,873.5 L315.4,874.5 L316.7,874.5 L316.7,876.4 L318.0,876.4 L318.0,877.8 L319.9,877.8 L319.9,879.0 L321.9,879.0 L321.9,882.4 L321.9,884.6 L321.9,886.5 L319.9,886.5 L319.9,889.1 L318.0,889.1 L318.0,889.1 L316.7,889.1 L316.7,889.8 L315.4,889.8 L315.4,890.9 L314.0,890.9 L314.0,892.9 L312.7,892.9 L312.7,893.3 L311.4,893.3 L311.4,893.6 L309.9,893.6 L309.9,895.2 L308.5,895.2 L308.5,894.8 L307.0,894.8 L307.0,896.1 L305.5,896.1 L305.5,897.3 L304.1,897.3 L304.1,897.6 L302.6,897.6 L302.6,898.1 L301.2,898.1 L301.2,899.0 L299.7,899.0 L299.7,899.4 L298.2,899.4 L298.2,899.1 L296.8,899.1 L296.8,900.2 L295.3,900.2 L295.3,900.2 L293.9,900.2 L293.9,901.2 L292.5,901.2 L292.5,901.9 L291.1,901.9 L291.1,901.1 L289.8,901.1 L289.8,903.0 L288.4,903.0 L288.4,902.5 L287.0,902.5 L287.0,903.6 L285.6,903.6 L285.6,903.6 L284.3,903.6 L284.3,903.5 L282.9,903.5 L282.9,904.9 L281.5,904.9 L281.5,903.1 L280.2,903.1 L280.2,903.3 L278.8,903.3 L278.8,903.0 L277.4,903.0 L277.4,902.6 L276.1,902.6 L276.1,902.9 L274.7,902.9 L274.7,903.1 L273.4,903.1 L273.4,901.8 L272.0,901.8 L272.0,901.1 L270.6,901.1 L270.6,902.4 L269.2,902.4 L269.2,900.9 L267.8,900.9 L267.8,902.1 L266.4,902.1 L266.4,902.3 L265.0,902.3 L265.0,901.0 L263.6,901.0 L263.6,900.7 L262.2,900.7 L262.2,901.3 L260.8,901.3 L260.8,900.7 L259.4,900.7 L259.4,900.8 L258.0,900.8 L258.0,901.3 L256.6,901.3 L256.6,900.4 L255.3,900.4 L255.3,901.3 L254.0,901.3 L254.0,902.0 L252.7,902.0 L252.7,900.7 L251.4,900.7 L251.4,901.7 L250.1,901.7 L250.1,901.3 L248.7,901.3 L248.7,902.0 L247.4,902.0 L247.4,901.6 L246.1,901.6 L246.1,901.1 L244.8,901.1 L244.8,903.0 L243.5,903.0 L243.5,902.4 L242.2,902.4 L242.2,902.0 L240.9,902.0 L240.9,901.7 L239.6,901.7 L239.6,901.2 L238.3,901.2 L238.3,901.7 L236.9,901.7 L236.9,901.6 L235.6,901.6 L235.6,900.3 L234.3,900.3 L234.3,900.6 L233.0,900.6 L233.0,899.6 L231.7,899.6 L231.7,900.1 L230.4,900.1 L230.4,901.6 L229.1,901.6 L229.1,901.3 L227.8,901.3 L227.8,902.8 L226.4,902.8 L226.4,902.9 L225.1,902.9 L225.1,903.6 L223.8,903.6 L223.8,900.9 L221.6,900.9 L221.6,900.6 L220.1,900.6 L220.1,899.7 L218.7,899.7 L218.7,897.5 L217.2,897.5 L217.2,897.0 L215.7,897.0 L215.7,897.0 L214.3,897.0 L214.3,895.8 L212.8,895.8 L212.8,895.6 L211.4,895.6 L211.4,894.3 L210.0,894.3 L210.0,894.8 L208.6,894.8 L208.6,894.0 L207.2,894.0 L207.2,892.9 L205.8,892.9 L205.8,893.4 L204.5,893.4 L204.5,892.8 L203.1,892.8 L203.1,892.1 L201.7,892.1 L201.7,892.3 L200.3,892.3 L200.3,892.0 L198.9,892.0 L198.9,890.7 L197.5,890.7 L197.5,891.0 L196.1,891.0 L196.1,889.8 L194.6,889.8 L194.6,889.9 L193.2,889.9 L193.2,888.8 L191.7,888.8 L191.7,888.6 L190.2,888.6 L190.2,886.9 L188.8,886.9 L188.8,886.6 L187.4,886.6 L187.4,886.2 L186.1,886.2 L186.1,886.0 L184.7,886.0 L184.7,885.1 L183.3,885.1Z" fill="#c9eed6"/>
<path d="M56.1,883.4 L56.1,882.0 L57.4,882.0 L57.4,882.1 L58.8,882.1 L58.8,881.9 L60.1,881.9 L60.1,881.6 L61.5,881.6 L61.5,881.2 L62.8,881.2 L62.8,881.4 L64.7,881.4 L64.7,879.9 L66.1,879.9 L66.1,879.5 L67.5,879.5 L67.5,879.4 L68.9,879.4 L68.9,879.1 L70.3,879.1 L70.3,878.8 L71.8,878.8 L71.8,878.8 L73.2,878.8 L73.2,878.8 L74.6,878.8 L74.6,878.3 L76.0,878.3 L76.0,878.6 L77.3,878.6 L77.3,878.2 L78.6,878.2 L78.6,878.2 L79.9,878.2 L79.9,878.1 L81.2,878.1 L81.2,878.7 L82.5,878.7 L82.5,878.5 L83.8,878.5 L83.8,878.6 L85.1,878.6 L85.1,878.5 L86.5,878.5 L86.5,878.1 L87.8,878.1 L87.8,878.3 L89.1,878.3 L89.1,878.4 L90.4,878.4 L90.4,878.2 L91.7,878.2 L91.7,878.7 L93.0,878.7 L93.0,878.3 L94.3,878.3 L94.3,878.2 L95.6,878.2 L95.6,878.6 L96.9,878.6 L96.9,878.2 L98.3,878.2 L98.3,879.1 L99.8,879.1 L99.8,879.3 L101.2,879.3 L101.2,879.9 L102.6,879.9 L102.6,880.2 L103.9,880.2 L103.9,880.4 L105.3,880.4 L105.3,880.4 L106.6,880.4 L106.6,880.4 L107.9,880.4 L107.9,881.0 L109.2,881.0 L109.2,880.8 L110.6,880.8 L110.6,881.2 L111.9,881.2 L111.9,881.0 L113.2,881.0 L113.2,881.6 L114.6,881.6 L114.6,881.7 L115.9,881.7 L115.9,881.6 L115.9,883.4Z" fill="#13b5b8"/>
<path d="M53.3,883.0630073578151 L54.2,883.0630073578151 L54.2,884.873311931395 L55.63333333333333,884.873311931395 L55.63333333333333,885.7552060791811 L57.06666666666667,885.7552060791811 L57.06666666666667,887.5998951833197 L58.5,887.5998951833197 L58.5,887.8564350540812 L59.93333333333333,887.8564350540812 L59.93333333333333,889.4694487467189 L61.36666666666667,889.4694487467189 L61.36666666666667,890.9816313033654 L62.8,890.9816313033654 L62.8,891.2808146471831 L63.7,891.2808146471831 L63.7,895.5542704681783 L65.04,895.5542704681783 L65.04,896.3766500426837 L66.38000000000001,896.3766500426837 L66.38000000000001,896.5608957654848 L67.72,896.5608957654848 L67.72,897.6590196043954 L69.06,897.6590196043954 L69.06,898.7434803922937 L70.4,898.7434803922937 L70.4,899.25202092045 L71.92,899.25202092045 L71.92,900.6650653685822 L73.44,900.6650653685822 L73.44,901.2371571615965 L74.96000000000001,901.2371571615965 L74.96000000000001,902.4580122024665 L76.48,902.4580122024665 L76.48,903.4709475279781 L78.0,903.4709475279781 L78.0,905.0062690516689 L79.5,905.0062690516689 L79.5,905.9838297864122 L81.0,905.9838297864122 L81.0,906.2104284571359 L82.5,906.2104284571359 L82.5,906.9542094672355 L84.0,906.9542094672355 L84.0,907.1236648448527 L85.5,907.1236648448527 L85.5,908.0460952169244 L86.93333333333334,908.0460952169244 L86.93333333333334,907.5516694375794 L88.36666666666666,907.5516694375794 L88.36666666666666,907.8911780789864 L89.8,907.8911780789864 L89.8,908.4242360012554 L91.23333333333333,908.4242360012554 L91.23333333333333,908.6257063522413 L92.66666666666666,908.6257063522413 L92.66666666666666,908.471755395007 L94.1,908.471755395007 L94.1,908.287712383066 L95.0,908.287712383066 L95.0,904.7667335712267 L96.52,904.7667335712267 L96.52,903.9498901301365 L98.03999999999999,903.9498901301365 L98.03999999999999,903.2611844150846 L99.56,903.2611844150846 L99.56,903.0295107007265 L101.08,903.0295107007265 L101.08,901.6594832210899 L102.6,901.6594832210899 L102.6,901.5863997310793 L104.11999999999999,901.5863997310793 L104.11999999999999,900.2393731884002 L105.64,900.2393731884002 L105.64,898.0747893561111 L107.16,898.0747893561111 L107.16,897.0588164022998 L108.68,897.0588164022998 L108.68,895.8317117367621 L110.2,895.8317117367621 L110.2,894.0234831589217 L111.72,894.0234831589217 L111.72,892.9047253517526 L113.24,892.9047253517526 L113.24,891.866410625955 L114.76,891.866410625955 L114.76,889.5520462712944 L116.28,889.5520462712944 L116.28,888.516845641761 L117.8,888.516845641761 L117.8,886.5212324408021 L119.12,886.5212324408021 L119.12,886.2987002980536 L120.44,886.2987002980536 L120.44,885.9353034494236 L121.76,885.9353034494236 L121.76,884.5630531937645 L123.08,884.5630531937645 L123.08,883.6882525602912 L124.4,883.6882525602912 L124.4,883.5 L124.4,883.4 L53.3,883.4Z" fill="#c57af5"/>
<circle cx="93" cy="883.6" r="0.8" fill="#000"/>
<path d="M232.5,883.4 L232.5,882.4 L233.6,881.3 L272,881.3 L280.7,882.8 L280.7,883.4Z" fill="#13b5b8"/>
<path d="M212.8,883.4619036428079 L213.9,883.4619036428079 L213.9,885.7478179088645 L215.275,885.7478179088645 L215.275,886.314368467219 L216.65,886.314368467219 L216.65,886.2225200560798 L218.025,886.2225200560798 L218.025,886.5312730184498 L219.4,886.5312730184498 L219.4,886.8699078630799 L220.72,886.8699078630799 L220.72,887.8477282750838 L222.04,887.8477282750838 L222.04,889.4095269112335 L223.36,889.4095269112335 L223.36,890.8039061761734 L224.68,890.8039061761734 L224.68,892.234381498016 L226.0,892.234381498016 L226.0,892.9752987649833 L227.1,892.9752987649833 L227.1,894.7427210100996 L228.51999999999998,894.7427210100996 L228.51999999999998,894.6325364299935 L229.94,894.6325364299935 L229.94,895.2677156274938 L231.36,895.2677156274938 L231.36,895.2347507860329 L232.78,895.2347507860329 L232.78,894.7735042690958 L234.2,894.7735042690958 L234.2,895.585754736639 L235.62,895.585754736639 L235.62,895.6318062249004 L237.04000000000002,895.6318062249004 L237.04000000000002,895.443138026827 L238.46,895.443138026827 L238.46,895.4724501636629 L239.88,895.4724501636629 L239.88,895.1659952761122 L241.3,895.1659952761122 L241.3,895.1120005895597 L242.4,895.1120005895597 L242.4,897.0227050129364 L243.81428571428572,897.0227050129364 L243.81428571428572,896.5904980269922 L245.22857142857143,896.5904980269922 L245.22857142857143,896.6378808959525 L246.64285714285714,896.6378808959525 L246.64285714285714,896.6221258395036 L248.05714285714288,896.6221258395036 L248.05714285714288,896.3954946428084 L249.4714285714286,896.3954946428084 L249.4714285714286,896.6854332832644 L250.8857142857143,896.6854332832644 L250.8857142857143,896.6095677504682 L252.3,896.6095677504682 L252.3,896.8739417028148 L253.4,896.8739417028148 L253.4,892.2152992918113 L254.85000000000002,892.2152992918113 L254.85000000000002,891.9455666996687 L256.3,891.9455666996687 L256.3,891.4664851884321 L257.75,891.4664851884321 L257.75,891.2299596255123 L259.20000000000005,891.2299596255123 L259.20000000000005,890.699197238613 L260.65000000000003,890.699197238613 L260.65000000000003,890.1891969863977 L262.1,890.1891969863977 L262.1,890.3981249603705 L263.2,890.3981249603705 L263.2,887.1965533133249 L264.54615384615386,887.1965533133249 L264.54615384615386,886.9029416703635 L265.89230769230767,886.9029416703635 L265.89230769230767,886.6277861587369 L267.23846153846154,886.6277861587369 L267.23846153846154,886.1445294659201 L268.58461538461535,886.1445294659201 L268.58461538461535,885.9068096443633 L269.9307692307692,885.9068096443633 L269.9307692307692,885.7850781116975 L271.2769230769231,885.7850781116975 L271.2769230769231,885.4407941842633 L272.6230769230769,885.4407941842633 L272.6230769230769,885.8284149245129 L273.96923076923076,885.8284149245129 L273.96923076923076,885.3664736900886 L275.31538461538463,885.3664736900886 L275.31538461538463,885.5541899744279 L276.66153846153844,885.5541899744279 L276.66153846153844,885.0169031330571 L278.0076923076923,885.0169031330571 L278.0076923076923,885.3048954451174 L279.3538461538461,885.3048954451174 L279.3538461538461,885.0470785878731 L280.7,885.0470785878731 L280.7,884.2004359496444 L281.8,884.2004359496444 L281.8,883.6 L281.8,883.4 L212.8,883.4Z" fill="#c57af5"/>
<circle cx="252" cy="883.4" r="0.8" fill="#000"/>
<text x="91.9" y="955.4" font-size="11.9" text-anchor="middle" fill="#111">Hospitalized</text>
<text x="248.5" y="955.4" font-size="11.6" text-anchor="middle" fill="#111">Convalescent</text>
<rect x="269.1" y="818.4" width="68.5" height="34.7" rx="1.5" fill="#fff" stroke="#ccc" stroke-width="0.6"/>
<rect x="271.7" y="821.3" width="10.7" height="4.2" fill="#c9eed6"/>
<rect x="271.7" y="829.6" width="10.7" height="4.2" fill="#13b5b8"/>
<rect x="271.7" y="837.8" width="10.7" height="4.2" fill="#c57af5"/>
<circle cx="277" cy="847.8" r="0.7" fill="#000"/>
<text x="286.5" y="825.6" font-size="5.95" fill="#111">Gross read counts</text>
<text x="286.5" y="833.8000000000001" font-size="5.95" fill="#111">G allele counts</text>
<text x="286.5" y="842.0" font-size="5.95" fill="#111">A allele counts</text>
<text x="286.5" y="849.9" font-size="5.95" fill="#111">rs11080327</text>
<text x="362" y="518" font-size="20" fill="#000">g</text>
<text x="409" y="537.4" font-size="7.5" text-anchor="end" fill="#333">TBX21</text>
<rect x="421.2" y="529.7" width="78.9" height="10" fill="#e34a33"/>
<rect x="550" y="529.7" width="5.7" height="10" fill="#4cb8d6"/>
<text x="409" y="548.7" font-size="7.5" text-anchor="end" fill="#333">STAT1</text>
<rect x="421.2" y="541.0" width="56.6" height="10" fill="#e34a33"/>
<rect x="550" y="541.0" width="6.0" height="10" fill="#4cb8d6"/>
<text x="409" y="560.0" font-size="7.5" text-anchor="end" fill="#333">IRF4</text>
<rect x="421.2" y="552.3" width="40.4" height="10" fill="#e34a33"/>
<rect x="550" y="552.3" width="40.0" height="10" fill="#e34a33"/>
<text x="409" y="571.3" font-size="7.5" text-anchor="end" fill="#333">HIC1</text>
<rect x="421.2" y="563.6" width="23.1" height="10" fill="#4cb8d6"/>
<rect x="550" y="563.6" width="29.3" height="10" fill="#e34a33"/>
<text x="409" y="582.6" font-size="7.5" text-anchor="end" fill="#333">GATA1</text>
<rect x="421.2" y="574.9" width="17.3" height="10" fill="#4cb8d6"/>
<rect x="540" y="574.9" width="10.0" height="10" fill="#e34a33"/>
<text x="409" y="593.9" font-size="7.5" text-anchor="end" fill="#333">CTCF</text>
<rect x="421.2" y="586.2" width="12.4" height="10" fill="#4cb8d6"/>
<rect x="525.4" y="586.2" width="24.6" height="10" fill="#e34a33"/>
<text x="409" y="605.2" font-size="7.5" text-anchor="end" fill="#333">PRDM1</text>
<rect x="421.2" y="597.5" width="10.9" height="10" fill="#4cb8d6"/>
<rect x="550" y="597.5" width="52.2" height="10" fill="#e34a33"/>
<text x="409" y="616.5" font-size="7.5" text-anchor="end" fill="#333">PBX1</text>
<rect x="421.2" y="608.8" width="9.4" height="10" fill="#4cb8d6"/>
<rect x="529.7" y="608.8" width="20.3" height="10" fill="#e34a33"/>
<text x="409" y="627.8" font-size="7.5" text-anchor="end" fill="#333">PATZ1</text>
<rect x="421.2" y="620.1" width="7.9" height="10" fill="#4cb8d6"/>
<rect x="543.4" y="620.1" width="6.6" height="10" fill="#e34a33"/>
<text x="409" y="639.1" font-size="7.5" text-anchor="end" fill="#333">GATA2</text>
<rect x="421.2" y="631.4" width="6.4" height="10" fill="#4cb8d6"/>
<rect x="550" y="631.4" width="49.2" height="10" fill="#e34a33"/>
<text x="409" y="650.4" font-size="7.5" text-anchor="end" fill="#333">SP3</text>
<rect x="421.2" y="642.7" width="2.0" height="10" fill="#4cb8d6"/>
<rect x="541.6" y="642.7" width="8.4" height="10" fill="#e34a33"/>
<text x="409" y="661.7" font-size="7.5" text-anchor="end" fill="#333">SPI1</text>
<rect x="417.7" y="654.0" width="3.5" height="10" fill="#4cb8d6"/>
<rect x="519.8" y="654.0" width="30.2" height="10" fill="#e34a33"/>
<line x1="414" y1="665.3" x2="503.8" y2="665.3" stroke="#222" stroke-width="0.8"/>
<line x1="421.2" y1="665.3" x2="421.2" y2="667.5" stroke="#222" stroke-width="0.6"/>
<text x="421.2" y="675.5" font-size="7.6" text-anchor="middle" fill="#333">0</text>
<line x1="451.9" y1="665.3" x2="451.9" y2="667.5" stroke="#222" stroke-width="0.6"/>
<text x="451.9" y="675.5" font-size="7.6" text-anchor="middle" fill="#333">5</text>
<line x1="482.7" y1="665.3" x2="482.7" y2="667.5" stroke="#222" stroke-width="0.6"/>
<text x="482.7" y="675.5" font-size="7.6" text-anchor="middle" fill="#333">10</text>
<line x1="516" y1="665.3" x2="606.7" y2="665.3" stroke="#222" stroke-width="0.8"/>
<line x1="521.8" y1="665.3" x2="521.8" y2="667.5" stroke="#222" stroke-width="0.6"/>
<text x="521.8" y="675.5" font-size="7.6" text-anchor="middle" fill="#333">−2</text>
<line x1="550.0" y1="665.3" x2="550.0" y2="667.5" stroke="#222" stroke-width="0.6"/>
<text x="550.0" y="675.5" font-size="7.6" text-anchor="middle" fill="#333">0</text>
<line x1="578.2" y1="665.3" x2="578.2" y2="667.5" stroke="#222" stroke-width="0.6"/>
<text x="578.2" y="675.5" font-size="7.6" text-anchor="middle" fill="#333">2</text>
<line x1="606.4" y1="665.3" x2="606.4" y2="667.5" stroke="#222" stroke-width="0.6"/>
<text x="606.4" y="675.5" font-size="7.6" text-anchor="middle" fill="#333">4</text>
<text x="459" y="685.8" font-size="9.2" text-anchor="middle" fill="#111">Allelic binding FC</text>
<text x="561" y="685.8" font-size="9.1" text-anchor="middle" fill="#111">Motif FC</text>
<text x="539" y="510.8" font-size="9.2" text-anchor="end" fill="#111">Signif.</text>
<rect x="544.3" y="500.4" width="13.4" height="13.2" fill="#e34a33"/>
<rect x="580" y="500.4" width="13.4" height="13.2" fill="#4cb8d6"/>
<text x="562.9" y="510" font-size="7.6" fill="#111">Yes</text>
<text x="598.6" y="510" font-size="7.6" fill="#111">No</text>
<text x="362.5" y="723.6" font-size="21" fill="#000">h</text>
<defs><marker id="ah" viewBox="0 0 10 10" refX="9" refY="5" markerWidth="7.5" markerHeight="6.5" orient="auto-start-reverse"><path d="M0,0 L10,5 L0,10Z" fill="#222"/></marker></defs>
<text x="369.8" y="749" font-size="10.2" font-weight="bold" fill="#f08a24" textLength="19.4" lengthAdjust="spacingAndGlyphs">SNP</text>
<text x="452.9" y="749" font-size="10.2" font-weight="bold" fill="#111" textLength="19.9" lengthAdjust="spacingAndGlyphs">OCR</text>
<text x="533.9" y="749" font-size="10.2" font-weight="bold" fill="#2e6b2e" textLength="23.1" lengthAdjust="spacingAndGlyphs">Gene</text>
<text x="629.3" y="749" font-size="10.2" font-weight="bold" fill="#a01c24" textLength="42" lengthAdjust="spacingAndGlyphs">Infection</text>
<text x="457.4" y="785.6" font-size="10.2" font-weight="bold" fill="#2b6cb0" textLength="10.9" lengthAdjust="spacingAndGlyphs">TF</text>
<line x1="399.6" y1="745.4" x2="444" y2="745.4" stroke="#222" stroke-width="1" fill="none" marker-end="url(#ah)"/>
<line x1="482.7" y1="745.4" x2="526.5" y2="745.4" stroke="#222" stroke-width="1" fill="none" marker-end="url(#ah)"/>
<line x1="565.4" y1="745.4" x2="620" y2="745.4" stroke="#222" stroke-width="1" fill="none" marker-end="url(#ah)"/>
<line x1="462.9" y1="775.6" x2="462.9" y2="752.6" stroke="#222" stroke-width="1" fill="none" marker-end="url(#ah)"/>
<path d="M381.6,737.2 C420,716 490,712 543.5,737.6" stroke="#222" stroke-width="1" fill="none" marker-end="url(#ah)"/>
<path d="M381.6,737.2 C430,708 560,700 648.6,738.4" stroke="#222" stroke-width="1" fill="none" marker-end="url(#ah)"/>
<text x="410" y="753.2" font-style="italic" font-size="6.8" fill="#333">ASoC</text>
<text x="488" y="753.2" font-style="italic" font-size="6.8" fill="#333">P2GLink</text>
<text x="580" y="753.2" font-style="italic" font-size="6.8" fill="#333">DEG</text>
<text x="436" y="771.5" font-style="italic" font-size="6.8" fill="#333">ASTFB</text>
<text x="453" y="729.7" font-style="italic" font-size="6.8" fill="#333">eQTL*</text>
<text x="510.3" y="720.5" font-style="italic" font-size="6.8" fill="#333">GWAS **</text>
<defs><linearGradient id="pk" x1="0" y1="0" x2="1" y2="0"><stop offset="0" stop-color="#f5eef6"/><stop offset="0.6" stop-color="#f2d6dc"/><stop offset="1" stop-color="#f0c9cb"/></linearGradient></defs>
<rect x="361.9" y="874.8" width="322" height="82.5" rx="4" fill="#f5eff6"/>
<rect x="548" y="874.8" width="20" height="82.5" fill="url(#pk)"/>
<path d="M566.7,806 H680.5 a4,4 0 0 1 4,4 V953.3 a4,4 0 0 1 -4,4 H566.7 Z" fill="#f0c9cb"/>
<line x1="548" y1="875.4" x2="685" y2="875.4" stroke="#fff" stroke-width="0.9" stroke-dasharray="1.5,1.5"/>
<rect x="566.7" y="797.9" width="117.8" height="13.6" rx="4.5" fill="#9b1c1c"/>
<text x="625.6" y="808.5" font-size="9.8" font-weight="bold" text-anchor="middle" fill="#fff">Stimulation/Infection</text>
<rect x="361.1" y="797.4" width="78.2" height="14.9" rx="4.5" fill="#e8892b"/>
<text x="400.2" y="808.6" font-size="10.2" font-weight="bold" text-anchor="middle" fill="#fff">rs11080327-A</text>
<rect x="510.8" y="797.9" width="38.9" height="14.4" rx="4.5" fill="#2f5e2f"/>
<text x="530.2" y="808.6" font-size="9.4" font-weight="bold" text-anchor="middle" fill="#fff">SLFN5</text>
<rect x="361.9" y="847.6" width="43.9" height="13.1" rx="2.5" fill="#1f5a96"/>
<text x="383.8" y="857.6" font-size="9.6" text-anchor="middle" fill="#fff">IRF4</text>
<rect x="418.2" y="847.6" width="40.9" height="13.1" rx="2.5" fill="#1f5a96"/>
<text x="438.6" y="857.6" font-size="9.6" text-anchor="middle" fill="#fff">STAT1</text>
<line x1="549.7" y1="805" x2="566" y2="805" stroke="#222" stroke-width="1" fill="none" marker-end="url(#ah)"/>
<path d="M439.5,804.7 C455,800 470,801 473,808.6" stroke="#222" stroke-width="1" fill="none" marker-end="url(#ah)"/>
<path d="M383.7,847.6 C420,830 470,812 509.8,806.1" stroke="#222" stroke-width="1" fill="none" marker-end="url(#ah)"/>
<path d="M438.5,847.6 C450,820 480,808 509.8,806.1" stroke="#222" stroke-width="1" fill="none" marker-end="url(#ah)"/>
<circle cx="479" cy="820.1" r="18.8" fill="none" stroke="#e82828" stroke-width="1.2" stroke-dasharray="1.4,1.3"/>
<text transform="translate(480.5,825.5) rotate(-22)" font-size="9.2" font-weight="bold" text-anchor="middle" fill="#111">ASoC</text>
<path d="M486.2,837.7 L509.4,864.8 L512.1,865.5 L512.8,874.6 L504.2,870.7 L506.2,869.1 Z" fill="#f00"/>
<rect x="572.8" y="850.4" width="32.8" height="19.2" rx="4" fill="#fff"/>
<text x="589.2" y="863" font-size="7.2" text-anchor="middle" fill="#222">LPS</text>
<rect x="609.3" y="850.4" width="32.3" height="19.2" rx="4" fill="#fff"/>
<text x="625.5" y="858.8" font-size="7.2" text-anchor="middle" fill="#222">SARS-</text>
<text x="625.5" y="867.3" font-size="7.2" text-anchor="middle" fill="#222">CoV-2</text>
<rect x="645.6" y="850.4" width="36.0" height="19.2" rx="4" fill="#fff"/>
<text x="663.6" y="858.8" font-size="7.2" text-anchor="middle" fill="#222">Influenza</text>
<text x="663.6" y="867.3" font-size="7.2" text-anchor="middle" fill="#222">A virus</text>
<line x1="594.3" y1="821.2" x2="579.8" y2="840.0" stroke="#9a3a1a" stroke-width="0.8"/>
<circle cx="594.3" cy="821.2" r="1.25" fill="#8b1414"/>
<circle cx="592.5" cy="823.6" r="1.25" fill="#8b1414"/>
<circle cx="590.7" cy="825.9" r="1.25" fill="#8b1414"/>
<circle cx="588.9" cy="828.2" r="1.25" fill="#8b1414"/>
<circle cx="587.0" cy="830.6" r="1.25" fill="#8b1414"/>
<circle cx="585.2" cy="833.0" r="1.25" fill="#a0521a"/>
<circle cx="583.4" cy="835.3" r="1.25" fill="#a0521a"/>
<circle cx="581.6" cy="837.6" r="1.25" fill="#c88a2a"/>
<circle cx="579.8" cy="840.0" r="1.25" fill="#c88a2a"/>
<circle cx="588.5" cy="822.2" r="1.15" fill="#8b1414"/>
<circle cx="591" cy="820.5" r="1.15" fill="#8b1414"/>
<circle cx="596.8" cy="824.3" r="1.15" fill="#8b1414"/>
<circle cx="595.5" cy="826.5" r="1.15" fill="#8b1414"/>
<circle cx="589.5" cy="826.6" r="1.15" fill="#8b1414"/>
<circle cx="592.2" cy="818.5" r="1.15" fill="#8b1414"/>
<circle cx="597" cy="822" r="1.15" fill="#8b1414"/>
<path d="M579.8,840 l-3,5.5 M580.5,840.5 l-1.2,5.8 M581.5,840.5 l1,5" stroke="#d8a860" stroke-width="1.1" fill="none"/>
<circle cx="580.5" cy="840.8" r="1.3" fill="#c88a2a"/><circle cx="583" cy="842" r="1.1" fill="#c88a2a"/>
<line x1="631.6" y1="836.8" x2="634.9" y2="837.7" stroke="#3a5fc8" stroke-width="0.9"/><circle cx="634.9" cy="837.7" r="1.3" fill="#3a5fc8"/>
<line x1="629.5" y1="840.5" x2="631.9" y2="842.9" stroke="#3a5fc8" stroke-width="0.9"/><circle cx="631.9" cy="842.9" r="1.3" fill="#3a5fc8"/>
<line x1="625.8" y1="842.6" x2="626.7" y2="845.9" stroke="#3a5fc8" stroke-width="0.9"/><circle cx="626.7" cy="845.9" r="1.3" fill="#3a5fc8"/>
<line x1="621.6" y1="842.6" x2="620.7" y2="845.9" stroke="#3a5fc8" stroke-width="0.9"/><circle cx="620.7" cy="845.9" r="1.3" fill="#3a5fc8"/>
<line x1="617.9" y1="840.5" x2="615.5" y2="842.9" stroke="#3a5fc8" stroke-width="0.9"/><circle cx="615.5" cy="842.9" r="1.3" fill="#3a5fc8"/>
<line x1="615.8" y1="836.8" x2="612.5" y2="837.7" stroke="#3a5fc8" stroke-width="0.9"/><circle cx="612.5" cy="837.7" r="1.3" fill="#3a5fc8"/>
<line x1="615.8" y1="832.6" x2="612.5" y2="831.7" stroke="#3a5fc8" stroke-width="0.9"/><circle cx="612.5" cy="831.7" r="1.3" fill="#3a5fc8"/>
<line x1="617.9" y1="828.9" x2="615.5" y2="826.5" stroke="#3a5fc8" stroke-width="0.9"/><circle cx="615.5" cy="826.5" r="1.3" fill="#3a5fc8"/>
<line x1="621.6" y1="826.8" x2="620.7" y2="823.5" stroke="#3a5fc8" stroke-width="0.9"/><circle cx="620.7" cy="823.5" r="1.3" fill="#3a5fc8"/>
<line x1="625.8" y1="826.8" x2="626.7" y2="823.5" stroke="#3a5fc8" stroke-width="0.9"/><circle cx="626.7" cy="823.5" r="1.3" fill="#3a5fc8"/>
<line x1="629.5" y1="828.9" x2="631.9" y2="826.5" stroke="#3a5fc8" stroke-width="0.9"/><circle cx="631.9" cy="826.5" r="1.3" fill="#3a5fc8"/>
<line x1="631.6" y1="832.6" x2="634.9" y2="831.7" stroke="#3a5fc8" stroke-width="0.9"/><circle cx="634.9" cy="831.7" r="1.3" fill="#3a5fc8"/>
<circle cx="623.7" cy="834.7" r="8.4" fill="#fff" stroke="#3a5fc8" stroke-width="1"/>
<circle cx="632.1" cy="834.7" r="0.6" fill="#c03030"/>
<circle cx="631.0" cy="838.9" r="0.6" fill="#c03030"/>
<circle cx="627.9" cy="842.0" r="0.6" fill="#c03030"/>
<circle cx="623.7" cy="843.1" r="0.6" fill="#c03030"/>
<circle cx="619.5" cy="842.0" r="0.6" fill="#c03030"/>
<circle cx="616.4" cy="838.9" r="0.6" fill="#c03030"/>
<circle cx="615.3" cy="834.7" r="0.6" fill="#c03030"/>
<circle cx="616.4" cy="830.5" r="0.6" fill="#c03030"/>
<circle cx="619.5" cy="827.4" r="0.6" fill="#c03030"/>
<circle cx="623.7" cy="826.3" r="0.6" fill="#c03030"/>
<circle cx="627.9" cy="827.4" r="0.6" fill="#c03030"/>
<circle cx="631.0" cy="830.5" r="0.6" fill="#c03030"/>
<path d="M619.2,831.7 c1.5,-2.5 3.5,-1 2.5,1 c-1,2 2,3 3,0.5 c1,-2.5 -2,-3.5 0,-4.5 c2,-1 3.5,1.5 2,3 M618.7,836.2 c2,-1 3,1.5 1.5,3 c-1.5,1.5 1.5,2.5 3,0.5 c1.5,-2 3,0 4.5,-1.5 M621.7,829.2 c1,1 2.5,0.5 3,-0.5" stroke="#3a5fc8" stroke-width="0.7" fill="none"/>
<line x1="671.2" y1="834.7" x2="675.2" y2="834.7" stroke="#1fa8b0" stroke-width="1.3"/>
<line x1="670.9" y1="836.8" x2="674.8" y2="837.8" stroke="#17707a" stroke-width="1.3"/>
<circle cx="674.8" cy="837.8" r="0.9" fill="#17606a"/>
<line x1="670.1" y1="838.7" x2="673.6" y2="840.7" stroke="#1fa8b0" stroke-width="1.3"/>
<line x1="668.9" y1="840.4" x2="671.7" y2="843.2" stroke="#17707a" stroke-width="1.3"/>
<circle cx="671.7" cy="843.2" r="0.9" fill="#17606a"/>
<line x1="667.2" y1="841.6" x2="669.2" y2="845.1" stroke="#1fa8b0" stroke-width="1.3"/>
<line x1="665.3" y1="842.4" x2="666.3" y2="846.3" stroke="#17707a" stroke-width="1.3"/>
<circle cx="666.3" cy="846.3" r="0.9" fill="#17606a"/>
<line x1="663.2" y1="842.7" x2="663.2" y2="846.7" stroke="#1fa8b0" stroke-width="1.3"/>
<line x1="661.1" y1="842.4" x2="660.1" y2="846.3" stroke="#17707a" stroke-width="1.3"/>
<circle cx="660.1" cy="846.3" r="0.9" fill="#17606a"/>
<line x1="659.2" y1="841.6" x2="657.2" y2="845.1" stroke="#1fa8b0" stroke-width="1.3"/>
<line x1="657.5" y1="840.4" x2="654.7" y2="843.2" stroke="#17707a" stroke-width="1.3"/>
<circle cx="654.7" cy="843.2" r="0.9" fill="#17606a"/>
<line x1="656.3" y1="838.7" x2="652.8" y2="840.7" stroke="#1fa8b0" stroke-width="1.3"/>
<line x1="655.5" y1="836.8" x2="651.6" y2="837.8" stroke="#17707a" stroke-width="1.3"/>
<circle cx="651.6" cy="837.8" r="0.9" fill="#17606a"/>
<line x1="655.2" y1="834.7" x2="651.2" y2="834.7" stroke="#1fa8b0" stroke-width="1.3"/>
<line x1="655.5" y1="832.6" x2="651.6" y2="831.6" stroke="#17707a" stroke-width="1.3"/>
<circle cx="651.6" cy="831.6" r="0.9" fill="#17606a"/>
<line x1="656.3" y1="830.7" x2="652.8" y2="828.7" stroke="#1fa8b0" stroke-width="1.3"/>
<line x1="657.5" y1="829.0" x2="654.7" y2="826.2" stroke="#17707a" stroke-width="1.3"/>
<circle cx="654.7" cy="826.2" r="0.9" fill="#17606a"/>
<line x1="659.2" y1="827.8" x2="657.2" y2="824.3" stroke="#1fa8b0" stroke-width="1.3"/>
<line x1="661.1" y1="827.0" x2="660.1" y2="823.1" stroke="#17707a" stroke-width="1.3"/>
<circle cx="660.1" cy="823.1" r="0.9" fill="#17606a"/>
<line x1="663.2" y1="826.7" x2="663.2" y2="822.7" stroke="#1fa8b0" stroke-width="1.3"/>
<line x1="665.3" y1="827.0" x2="666.3" y2="823.1" stroke="#17707a" stroke-width="1.3"/>
<circle cx="666.3" cy="823.1" r="0.9" fill="#17606a"/>
<line x1="667.2" y1="827.8" x2="669.2" y2="824.3" stroke="#1fa8b0" stroke-width="1.3"/>
<line x1="668.9" y1="829.0" x2="671.7" y2="826.2" stroke="#17707a" stroke-width="1.3"/>
<circle cx="671.7" cy="826.2" r="0.9" fill="#17606a"/>
<line x1="670.1" y1="830.7" x2="673.6" y2="828.7" stroke="#1fa8b0" stroke-width="1.3"/>
<line x1="670.9" y1="832.6" x2="674.8" y2="831.6" stroke="#17707a" stroke-width="1.3"/>
<circle cx="674.8" cy="831.6" r="0.9" fill="#17606a"/>
<circle cx="663.2" cy="834.7" r="8.4" fill="#e9e4e6" stroke="#1fa8b0" stroke-width="1.2"/>
<path d="M658.2,832.2 q1.5,-2 3,0 q1.5,2 3,0 q1.5,-2 3,0 M657.7,835.2 q1.5,-2 3,0 q1.5,2 3,0 q1.5,-2 3,0 M658.7,838.2 q1.5,-2 3,0 q1.5,2 3,0 q1.5,-2 3,0" stroke="#8a8088" stroke-width="0.5" fill="none"/>
<text x="415.2" y="887" font-size="7.4" text-anchor="middle" fill="#111">Allelic open chromatin</text>
<text x="509.8" y="887" font-size="7.4" text-anchor="middle" fill="#111">SLFN5 exp.</text>
<text x="624.5" y="887" font-size="7.4" text-anchor="middle" fill="#111">SLFN5 exp. upon stim. / infec.</text>
<path d="M389.7,911.4 H408 M419.9,911.4 H435.7" stroke="#8a8a8a" stroke-width="0.9" fill="none"/>
<path d="M389.7,945.2 H408 M419.9,945.2 H435.7" stroke="#8a8a8a" stroke-width="0.9" fill="none"/>
<path d="M375.9,911.4 Q381,911.4 383,908.4 M395,910.4 Q392,911.4 389.7,911.4 M404.5,911.4 Q409,911.4 411,908.4 M423.5,910.4 Q421,911.4 419.9,911.4 M433,911.4 Q438,911.4 440,908.4 M452,910.4 Q455,911.4 457,911.4" stroke="#9a6a30" stroke-width="0.6" fill="none"/>
<path d="M375.9,945.2 Q381,945.2 383,942.2 M395,944.2 Q392,945.2 389.7,945.2 M404.5,945.2 Q409,945.2 411,942.2 M423.5,944.2 Q421,945.2 419.9,945.2 M433,945.2 Q438,945.2 440,942.2 M452,944.2 Q455,945.2 457,945.2" stroke="#9a6a30" stroke-width="0.6" fill="none"/>
<g transform="translate(386.7,901.1) rotate(22)"><ellipse cx="5.0" cy="0" rx="4.6" ry="9.6" fill="#e39b2a" stroke="#5a3a12" stroke-width="0.55"/><ellipse cx="2.4" cy="0" rx="4.6" ry="9.6" fill="#e39b2a" stroke="#5a3a12" stroke-width="0.55"/><ellipse cx="-0.2" cy="0" rx="4.6" ry="9.6" fill="#e39b2a" stroke="#5a3a12" stroke-width="0.55"/><ellipse cx="-2.8" cy="0" rx="4.6" ry="9.6" fill="#dca624"/></g>
<g transform="translate(415.3,901.1) rotate(22)"><ellipse cx="5.0" cy="0" rx="4.6" ry="9.6" fill="#e39b2a" stroke="#5a3a12" stroke-width="0.55"/><ellipse cx="2.4" cy="0" rx="4.6" ry="9.6" fill="#e39b2a" stroke="#5a3a12" stroke-width="0.55"/><ellipse cx="-0.2" cy="0" rx="4.6" ry="9.6" fill="#e39b2a" stroke="#5a3a12" stroke-width="0.55"/><ellipse cx="-2.8" cy="0" rx="4.6" ry="9.6" fill="#dca624"/></g>
<g transform="translate(444.9,901.1) rotate(22)"><ellipse cx="5.0" cy="0" rx="4.6" ry="9.6" fill="#e39b2a" stroke="#5a3a12" stroke-width="0.55"/><ellipse cx="2.4" cy="0" rx="4.6" ry="9.6" fill="#e39b2a" stroke="#5a3a12" stroke-width="0.55"/><ellipse cx="-0.2" cy="0" rx="4.6" ry="9.6" fill="#e39b2a" stroke="#5a3a12" stroke-width="0.55"/><ellipse cx="-2.8" cy="0" rx="4.6" ry="9.6" fill="#dca624"/></g>
<g transform="translate(386.7,934.6) rotate(22)"><ellipse cx="5.0" cy="0" rx="4.6" ry="9.6" fill="#e39b2a" stroke="#5a3a12" stroke-width="0.55"/><ellipse cx="2.4" cy="0" rx="4.6" ry="9.6" fill="#e39b2a" stroke="#5a3a12" stroke-width="0.55"/><ellipse cx="-0.2" cy="0" rx="4.6" ry="9.6" fill="#e39b2a" stroke="#5a3a12" stroke-width="0.55"/><ellipse cx="-2.8" cy="0" rx="4.6" ry="9.6" fill="#dca624"/></g>
<g transform="translate(444.9,934.6) rotate(22)"><ellipse cx="5.0" cy="0" rx="4.6" ry="9.6" fill="#e39b2a" stroke="#5a3a12" stroke-width="0.55"/><ellipse cx="2.4" cy="0" rx="4.6" ry="9.6" fill="#e39b2a" stroke="#5a3a12" stroke-width="0.55"/><ellipse cx="-0.2" cy="0" rx="4.6" ry="9.6" fill="#e39b2a" stroke="#5a3a12" stroke-width="0.55"/><ellipse cx="-2.8" cy="0" rx="4.6" ry="9.6" fill="#dca624"/></g>
<circle cx="413.4" cy="914.9" r="6.6" fill="#f5f0f5" stroke="#333" stroke-width="0.6"/>
<text x="413.4" y="918.4" font-size="9.5" font-weight="bold" text-anchor="middle" fill="#1a9a9a">G</text>
<circle cx="413.4" cy="949.1" r="6.6" fill="#f5f0f5" stroke="#333" stroke-width="0.6"/>
<text x="413.4" y="952.7" font-size="9.5" font-weight="bold" text-anchor="middle" fill="#d02090">A</text>
<path d="M484.4,897.3 V940.2 H536.3" stroke="#222" stroke-width="0.7" fill="none"/>
<path d="M483.09999999999997,899.8 L484.4,897.3 L485.7,899.8Z M533.8,938.9000000000001 L536.3,940.2 L533.8,941.5Z" fill="#222"/>
<line x1="493.6" y1="926.2" x2="493.6" y2="935" stroke="#444" stroke-width="0.6"/>
<line x1="492.1" y1="926.2" x2="495.1" y2="926.2" stroke="#444" stroke-width="0.6"/><line x1="492.1" y1="935" x2="495.1" y2="935" stroke="#444" stroke-width="0.6"/>
<rect x="490.5" y="929.4" width="6.2" height="4.8" rx="0.8" fill="#f4f4f4" stroke="#444" stroke-width="0.6"/>
<line x1="490.5" y1="932.5" x2="496.70000000000005" y2="932.5" stroke="#222" stroke-width="0.9"/>
<line x1="510.3" y1="917.4" x2="510.3" y2="934.2" stroke="#444" stroke-width="0.6"/>
<line x1="508.8" y1="917.4" x2="511.8" y2="917.4" stroke="#444" stroke-width="0.6"/><line x1="508.8" y1="934.2" x2="511.8" y2="934.2" stroke="#444" stroke-width="0.6"/>
<rect x="507.2" y="924.6" width="6.2" height="9.3" rx="0.8" fill="#b8b8b8" stroke="#444" stroke-width="0.6"/>
<line x1="507.2" y1="928" x2="513.4" y2="928" stroke="#222" stroke-width="0.9"/>
<line x1="527.3" y1="909.3" x2="527.3" y2="934.2" stroke="#444" stroke-width="0.6"/>
<line x1="525.8" y1="909.3" x2="528.8" y2="909.3" stroke="#444" stroke-width="0.6"/><line x1="525.8" y1="934.2" x2="528.8" y2="934.2" stroke="#444" stroke-width="0.6"/>
<rect x="524.1999999999999" y="916.9" width="6.2" height="10.6" rx="0.8" fill="#707070" stroke="#444" stroke-width="0.6"/>
<line x1="524.1999999999999" y1="922" x2="530.4" y2="922" stroke="#222" stroke-width="0.9"/>
<path d="M493.6,932.5 Q510.3,929 527.3,922" stroke="#e02020" stroke-width="0.7" fill="none"/>
<text x="493.7" y="947.3" font-size="7" text-anchor="middle" fill="#1aa0a0">GG</text>
<text x="510.6" y="947.3" font-size="7" text-anchor="middle"><tspan fill="#1aa0a0">G</tspan><tspan fill="#d02090">A</tspan></text>
<text x="527.4" y="947.3" font-size="7" text-anchor="middle" fill="#d02090">AA</text>
<path d="M493.6,926 V919" stroke="#444" stroke-width="0.6" stroke-dasharray="1,1"/>
<path d="M595.6,900.2 V943.6 H646.9" stroke="#222" stroke-width="0.7" fill="none"/>
<path d="M594.3000000000001,902.7 L595.6,900.2 L596.9,902.7Z M644.4,942.3000000000001 L646.9,943.6 L644.4,944.9Z" fill="#222"/>
<line x1="604.3" y1="923" x2="604.3" y2="934" stroke="#444" stroke-width="0.6"/>
<line x1="602.8" y1="923" x2="605.8" y2="923" stroke="#444" stroke-width="0.6"/><line x1="602.8" y1="934" x2="605.8" y2="934" stroke="#444" stroke-width="0.6"/>
<rect x="601.1999999999999" y="926" width="6.2" height="6.0" rx="0.8" fill="#f4f4f4" stroke="#444" stroke-width="0.6"/>
<line x1="601.1999999999999" y1="930.5" x2="607.4" y2="930.5" stroke="#222" stroke-width="0.9"/>
<line x1="620.6" y1="911.5" x2="620.6" y2="930" stroke="#444" stroke-width="0.6"/>
<line x1="619.1" y1="911.5" x2="622.1" y2="911.5" stroke="#444" stroke-width="0.6"/><line x1="619.1" y1="930" x2="622.1" y2="930" stroke="#444" stroke-width="0.6"/>
<rect x="617.5" y="918" width="6.2" height="10.0" rx="0.8" fill="#b8b8b8" stroke="#444" stroke-width="0.6"/>
<line x1="617.5" y1="922" x2="623.7" y2="922" stroke="#222" stroke-width="0.9"/>
<line x1="637.7" y1="896.5" x2="637.7" y2="918.5" stroke="#444" stroke-width="0.6"/>
<line x1="636.2" y1="896.5" x2="639.2" y2="896.5" stroke="#444" stroke-width="0.6"/><line x1="636.2" y1="918.5" x2="639.2" y2="918.5" stroke="#444" stroke-width="0.6"/>
<rect x="634.6" y="903.5" width="6.2" height="10.0" rx="0.8" fill="#707070" stroke="#444" stroke-width="0.6"/>
<line x1="634.6" y1="909" x2="640.8000000000001" y2="909" stroke="#222" stroke-width="0.9"/>
<path d="M604.3,930.5 Q620.6,923 637.7,909" stroke="#e02020" stroke-width="0.7" fill="none"/>
<text x="604.3" y="951" font-size="7" text-anchor="middle" fill="#1aa0a0">GG</text>
<text x="620.6" y="951" font-size="7" text-anchor="middle"><tspan fill="#1aa0a0">G</tspan><tspan fill="#d02090">A</tspan></text>
<text x="637.7" y="951" font-size="7" text-anchor="middle" fill="#d02090">AA</text>
<path d="M604.3,922 V916" stroke="#444" stroke-width="0.6" stroke-dasharray="1,1"/>
</svg>
</body></html>
